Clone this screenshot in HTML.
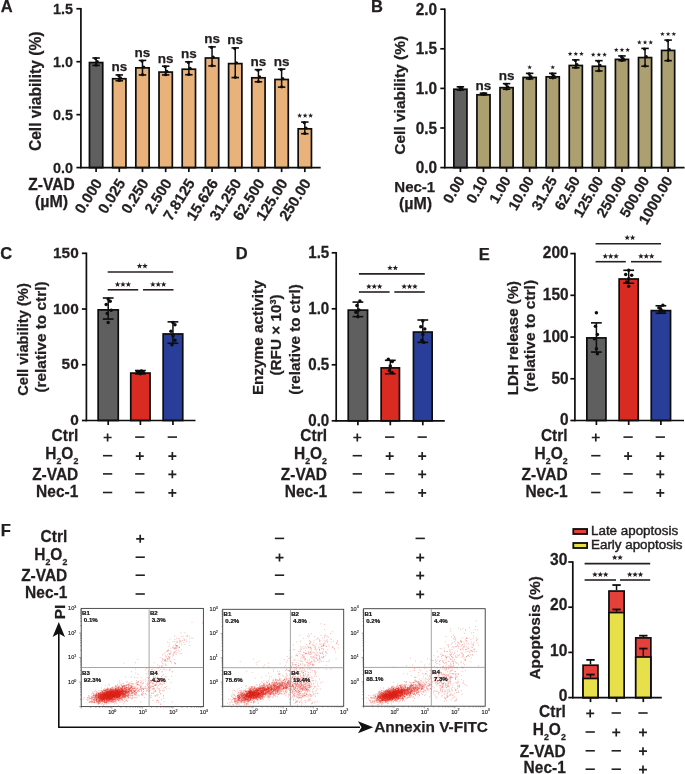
<!DOCTYPE html>
<html><head><meta charset="utf-8"><style>
html,body{margin:0;padding:0;background:#fff;}
svg{display:block;font-family:"Liberation Sans", sans-serif;will-change:transform;}
</style></head><body>
<svg width="685" height="774" viewBox="0 0 685 774">
<rect width="685" height="774" fill="#fff"/>
<text font-size="16.5" text-anchor="start" font-weight="bold" fill="#231f20" stroke="#231f20" stroke-width="0.25" transform="translate(0.70,12.20)" >A</text>
<line x1="80.90" y1="8.00" x2="80.90" y2="168.35" stroke="#0d0d0d" stroke-width="1.7" stroke-linecap="butt"/>
<line x1="76.40" y1="8.75" x2="80.90" y2="8.75" stroke="#0d0d0d" stroke-width="1.7" stroke-linecap="butt"/>
<text font-size="15" text-anchor="end" font-weight="bold" fill="#231f20" stroke="#231f20" stroke-width="0.25" transform="translate(73.00,13.85) scale(0.96,1.03)" >1.5</text>
<line x1="76.40" y1="61.70" x2="80.90" y2="61.70" stroke="#0d0d0d" stroke-width="1.7" stroke-linecap="butt"/>
<text font-size="15" text-anchor="end" font-weight="bold" fill="#231f20" stroke="#231f20" stroke-width="0.25" transform="translate(73.00,66.80) scale(0.96,1.03)" >1.0</text>
<line x1="76.40" y1="114.65" x2="80.90" y2="114.65" stroke="#0d0d0d" stroke-width="1.7" stroke-linecap="butt"/>
<text font-size="15" text-anchor="end" font-weight="bold" fill="#231f20" stroke="#231f20" stroke-width="0.25" transform="translate(73.00,119.75) scale(0.96,1.03)" >0.5</text>
<line x1="76.40" y1="167.60" x2="80.90" y2="167.60" stroke="#0d0d0d" stroke-width="1.7" stroke-linecap="butt"/>
<text font-size="15" text-anchor="end" font-weight="bold" fill="#231f20" stroke="#231f20" stroke-width="0.25" transform="translate(73.00,172.70) scale(0.96,1.03)" >0.0</text>
<text font-size="15.6" text-anchor="middle" font-weight="bold" fill="#231f20" stroke="#231f20" stroke-width="0.25" transform="translate(41.00,91.30) rotate(-90)" >Cell viability (%)</text>
<rect x="89.45" y="62.55" width="13.30" height="105.05" fill="#5f5f5f" stroke="#0d0d0d" stroke-width="1.7"/>
<line x1="96.10" y1="57.99" x2="96.10" y2="65.41" stroke="#0d0d0d" stroke-width="1.5" stroke-linecap="butt"/>
<line x1="92.35" y1="57.99" x2="99.85" y2="57.99" stroke="#0d0d0d" stroke-width="1.6" stroke-linecap="butt"/>
<line x1="92.35" y1="65.41" x2="99.85" y2="65.41" stroke="#0d0d0d" stroke-width="1.6" stroke-linecap="butt"/>
<circle cx="95.60" cy="58.59" r="1.6" fill="#0d0d0d"/>
<circle cx="97.30" cy="61.70" r="1.6" fill="#0d0d0d"/>
<circle cx="96.10" cy="65.11" r="1.6" fill="#0d0d0d"/>
<rect x="112.64" y="78.75" width="13.30" height="88.85" fill="#e9b27a" stroke="#0d0d0d" stroke-width="1.7"/>
<line x1="119.29" y1="74.94" x2="119.29" y2="80.76" stroke="#0d0d0d" stroke-width="1.5" stroke-linecap="butt"/>
<line x1="115.54" y1="74.94" x2="123.04" y2="74.94" stroke="#0d0d0d" stroke-width="1.6" stroke-linecap="butt"/>
<line x1="115.54" y1="80.76" x2="123.04" y2="80.76" stroke="#0d0d0d" stroke-width="1.6" stroke-linecap="butt"/>
<circle cx="118.79" cy="75.54" r="1.6" fill="#0d0d0d"/>
<circle cx="120.49" cy="77.90" r="1.6" fill="#0d0d0d"/>
<circle cx="119.29" cy="80.46" r="1.6" fill="#0d0d0d"/>
<text font-size="13.5" text-anchor="middle" font-weight="bold" fill="#231f20" stroke="#231f20" stroke-width="0.25" transform="translate(119.29,71.34)" >ns</text>
<rect x="135.83" y="67.84" width="13.30" height="99.76" fill="#e9b27a" stroke="#0d0d0d" stroke-width="1.7"/>
<line x1="142.48" y1="60.43" x2="142.48" y2="74.94" stroke="#0d0d0d" stroke-width="1.5" stroke-linecap="butt"/>
<line x1="138.73" y1="60.43" x2="146.23" y2="60.43" stroke="#0d0d0d" stroke-width="1.6" stroke-linecap="butt"/>
<line x1="138.73" y1="74.94" x2="146.23" y2="74.94" stroke="#0d0d0d" stroke-width="1.6" stroke-linecap="butt"/>
<circle cx="141.98" cy="61.03" r="1.6" fill="#0d0d0d"/>
<circle cx="143.68" cy="66.99" r="1.6" fill="#0d0d0d"/>
<circle cx="142.48" cy="74.64" r="1.6" fill="#0d0d0d"/>
<text font-size="13.5" text-anchor="middle" font-weight="bold" fill="#231f20" stroke="#231f20" stroke-width="0.25" transform="translate(142.48,56.83)" >ns</text>
<rect x="159.02" y="72.08" width="13.30" height="95.52" fill="#e9b27a" stroke="#0d0d0d" stroke-width="1.7"/>
<line x1="165.67" y1="66.15" x2="165.67" y2="74.94" stroke="#0d0d0d" stroke-width="1.5" stroke-linecap="butt"/>
<line x1="161.92" y1="66.15" x2="169.42" y2="66.15" stroke="#0d0d0d" stroke-width="1.6" stroke-linecap="butt"/>
<line x1="161.92" y1="74.94" x2="169.42" y2="74.94" stroke="#0d0d0d" stroke-width="1.6" stroke-linecap="butt"/>
<circle cx="165.17" cy="66.75" r="1.6" fill="#0d0d0d"/>
<circle cx="166.87" cy="71.23" r="1.6" fill="#0d0d0d"/>
<circle cx="165.67" cy="74.64" r="1.6" fill="#0d0d0d"/>
<text font-size="13.5" text-anchor="middle" font-weight="bold" fill="#231f20" stroke="#231f20" stroke-width="0.25" transform="translate(165.67,62.55)" >ns</text>
<rect x="182.21" y="69.22" width="13.30" height="98.38" fill="#e9b27a" stroke="#0d0d0d" stroke-width="1.7"/>
<line x1="188.86" y1="61.81" x2="188.86" y2="74.73" stroke="#0d0d0d" stroke-width="1.5" stroke-linecap="butt"/>
<line x1="185.11" y1="61.81" x2="192.61" y2="61.81" stroke="#0d0d0d" stroke-width="1.6" stroke-linecap="butt"/>
<line x1="185.11" y1="74.73" x2="192.61" y2="74.73" stroke="#0d0d0d" stroke-width="1.6" stroke-linecap="butt"/>
<circle cx="188.36" cy="62.41" r="1.6" fill="#0d0d0d"/>
<circle cx="190.06" cy="68.37" r="1.6" fill="#0d0d0d"/>
<circle cx="188.86" cy="74.43" r="1.6" fill="#0d0d0d"/>
<text font-size="13.5" text-anchor="middle" font-weight="bold" fill="#231f20" stroke="#231f20" stroke-width="0.25" transform="translate(188.86,58.21)" >ns</text>
<rect x="205.40" y="58.00" width="13.30" height="109.60" fill="#e9b27a" stroke="#0d0d0d" stroke-width="1.7"/>
<line x1="212.05" y1="46.87" x2="212.05" y2="65.94" stroke="#0d0d0d" stroke-width="1.5" stroke-linecap="butt"/>
<line x1="208.30" y1="46.87" x2="215.80" y2="46.87" stroke="#0d0d0d" stroke-width="1.6" stroke-linecap="butt"/>
<line x1="208.30" y1="65.94" x2="215.80" y2="65.94" stroke="#0d0d0d" stroke-width="1.6" stroke-linecap="butt"/>
<circle cx="211.55" cy="47.47" r="1.6" fill="#0d0d0d"/>
<circle cx="213.25" cy="57.15" r="1.6" fill="#0d0d0d"/>
<circle cx="212.05" cy="65.64" r="1.6" fill="#0d0d0d"/>
<text font-size="13.5" text-anchor="middle" font-weight="bold" fill="#231f20" stroke="#231f20" stroke-width="0.25" transform="translate(212.05,43.27)" >ns</text>
<rect x="228.59" y="63.61" width="13.30" height="103.99" fill="#e9b27a" stroke="#0d0d0d" stroke-width="1.7"/>
<line x1="235.24" y1="47.93" x2="235.24" y2="77.58" stroke="#0d0d0d" stroke-width="1.5" stroke-linecap="butt"/>
<line x1="231.49" y1="47.93" x2="238.99" y2="47.93" stroke="#0d0d0d" stroke-width="1.6" stroke-linecap="butt"/>
<line x1="231.49" y1="77.58" x2="238.99" y2="77.58" stroke="#0d0d0d" stroke-width="1.6" stroke-linecap="butt"/>
<circle cx="234.74" cy="48.53" r="1.6" fill="#0d0d0d"/>
<circle cx="236.44" cy="62.76" r="1.6" fill="#0d0d0d"/>
<circle cx="235.24" cy="77.28" r="1.6" fill="#0d0d0d"/>
<text font-size="13.5" text-anchor="middle" font-weight="bold" fill="#231f20" stroke="#231f20" stroke-width="0.25" transform="translate(235.24,44.33)" >ns</text>
<rect x="251.78" y="77.80" width="13.30" height="89.80" fill="#e9b27a" stroke="#0d0d0d" stroke-width="1.7"/>
<line x1="258.43" y1="69.64" x2="258.43" y2="81.82" stroke="#0d0d0d" stroke-width="1.5" stroke-linecap="butt"/>
<line x1="254.68" y1="69.64" x2="262.18" y2="69.64" stroke="#0d0d0d" stroke-width="1.6" stroke-linecap="butt"/>
<line x1="254.68" y1="81.82" x2="262.18" y2="81.82" stroke="#0d0d0d" stroke-width="1.6" stroke-linecap="butt"/>
<circle cx="257.93" cy="70.24" r="1.6" fill="#0d0d0d"/>
<circle cx="259.63" cy="76.95" r="1.6" fill="#0d0d0d"/>
<circle cx="258.43" cy="81.52" r="1.6" fill="#0d0d0d"/>
<text font-size="13.5" text-anchor="middle" font-weight="bold" fill="#231f20" stroke="#231f20" stroke-width="0.25" transform="translate(258.43,66.04)" >ns</text>
<rect x="274.97" y="79.49" width="13.30" height="88.11" fill="#e9b27a" stroke="#0d0d0d" stroke-width="1.7"/>
<line x1="281.62" y1="69.11" x2="281.62" y2="87.12" stroke="#0d0d0d" stroke-width="1.5" stroke-linecap="butt"/>
<line x1="277.87" y1="69.11" x2="285.37" y2="69.11" stroke="#0d0d0d" stroke-width="1.6" stroke-linecap="butt"/>
<line x1="277.87" y1="87.12" x2="285.37" y2="87.12" stroke="#0d0d0d" stroke-width="1.6" stroke-linecap="butt"/>
<circle cx="281.12" cy="69.71" r="1.6" fill="#0d0d0d"/>
<circle cx="282.82" cy="78.64" r="1.6" fill="#0d0d0d"/>
<circle cx="281.62" cy="86.82" r="1.6" fill="#0d0d0d"/>
<text font-size="13.5" text-anchor="middle" font-weight="bold" fill="#231f20" stroke="#231f20" stroke-width="0.25" transform="translate(281.62,65.51)" >ns</text>
<rect x="298.16" y="128.84" width="13.30" height="38.76" fill="#e9b27a" stroke="#0d0d0d" stroke-width="1.7"/>
<line x1="304.81" y1="122.06" x2="304.81" y2="133.71" stroke="#0d0d0d" stroke-width="1.5" stroke-linecap="butt"/>
<line x1="301.06" y1="122.06" x2="308.56" y2="122.06" stroke="#0d0d0d" stroke-width="1.6" stroke-linecap="butt"/>
<line x1="301.06" y1="133.71" x2="308.56" y2="133.71" stroke="#0d0d0d" stroke-width="1.6" stroke-linecap="butt"/>
<circle cx="304.31" cy="122.66" r="1.6" fill="#0d0d0d"/>
<circle cx="306.01" cy="127.99" r="1.6" fill="#0d0d0d"/>
<circle cx="304.81" cy="133.41" r="1.6" fill="#0d0d0d"/>
<path d="M299.61 112.96L300.26 114.67L302.08 114.76L300.66 115.90L301.14 117.67L299.61 116.66L298.08 117.67L298.56 115.90L297.14 114.76L298.96 114.67ZM305.11 112.96L305.76 114.67L307.58 114.76L306.16 115.90L306.64 117.67L305.11 116.66L303.58 117.67L304.06 115.90L302.64 114.76L304.46 114.67ZM310.61 112.96L311.26 114.67L313.08 114.76L311.66 115.90L312.14 117.67L310.61 116.66L309.08 117.67L309.56 115.90L308.14 114.76L309.96 114.67Z" fill="#231f20"/>
<line x1="80.15" y1="167.60" x2="320.70" y2="167.60" stroke="#0d0d0d" stroke-width="1.7" stroke-linecap="butt"/>
<line x1="96.10" y1="167.60" x2="96.10" y2="172.10" stroke="#0d0d0d" stroke-width="1.7" stroke-linecap="butt"/>
<line x1="119.29" y1="167.60" x2="119.29" y2="172.10" stroke="#0d0d0d" stroke-width="1.7" stroke-linecap="butt"/>
<line x1="142.48" y1="167.60" x2="142.48" y2="172.10" stroke="#0d0d0d" stroke-width="1.7" stroke-linecap="butt"/>
<line x1="165.67" y1="167.60" x2="165.67" y2="172.10" stroke="#0d0d0d" stroke-width="1.7" stroke-linecap="butt"/>
<line x1="188.86" y1="167.60" x2="188.86" y2="172.10" stroke="#0d0d0d" stroke-width="1.7" stroke-linecap="butt"/>
<line x1="212.05" y1="167.60" x2="212.05" y2="172.10" stroke="#0d0d0d" stroke-width="1.7" stroke-linecap="butt"/>
<line x1="235.24" y1="167.60" x2="235.24" y2="172.10" stroke="#0d0d0d" stroke-width="1.7" stroke-linecap="butt"/>
<line x1="258.43" y1="167.60" x2="258.43" y2="172.10" stroke="#0d0d0d" stroke-width="1.7" stroke-linecap="butt"/>
<line x1="281.62" y1="167.60" x2="281.62" y2="172.10" stroke="#0d0d0d" stroke-width="1.7" stroke-linecap="butt"/>
<line x1="304.81" y1="167.60" x2="304.81" y2="172.10" stroke="#0d0d0d" stroke-width="1.7" stroke-linecap="butt"/>
<text font-size="15" text-anchor="end" font-weight="bold" fill="#231f20" stroke="#231f20" stroke-width="0.25" transform="translate(98.10,180.00) rotate(-58)" dominant-baseline="central">0.000</text>
<text font-size="15" text-anchor="end" font-weight="bold" fill="#231f20" stroke="#231f20" stroke-width="0.25" transform="translate(121.29,180.00) rotate(-58)" dominant-baseline="central">0.025</text>
<text font-size="15" text-anchor="end" font-weight="bold" fill="#231f20" stroke="#231f20" stroke-width="0.25" transform="translate(144.48,180.00) rotate(-58)" dominant-baseline="central">0.250</text>
<text font-size="15" text-anchor="end" font-weight="bold" fill="#231f20" stroke="#231f20" stroke-width="0.25" transform="translate(167.67,180.00) rotate(-58)" dominant-baseline="central">2.500</text>
<text font-size="15" text-anchor="end" font-weight="bold" fill="#231f20" stroke="#231f20" stroke-width="0.25" transform="translate(190.86,180.00) rotate(-58)" dominant-baseline="central">7.8125</text>
<text font-size="15" text-anchor="end" font-weight="bold" fill="#231f20" stroke="#231f20" stroke-width="0.25" transform="translate(214.05,180.00) rotate(-58)" dominant-baseline="central">15.626</text>
<text font-size="15" text-anchor="end" font-weight="bold" fill="#231f20" stroke="#231f20" stroke-width="0.25" transform="translate(237.24,180.00) rotate(-58)" dominant-baseline="central">31.250</text>
<text font-size="15" text-anchor="end" font-weight="bold" fill="#231f20" stroke="#231f20" stroke-width="0.25" transform="translate(260.43,180.00) rotate(-58)" dominant-baseline="central">62.500</text>
<text font-size="15" text-anchor="end" font-weight="bold" fill="#231f20" stroke="#231f20" stroke-width="0.25" transform="translate(283.62,180.00) rotate(-58)" dominant-baseline="central">125.00</text>
<text font-size="15" text-anchor="end" font-weight="bold" fill="#231f20" stroke="#231f20" stroke-width="0.25" transform="translate(306.81,180.00) rotate(-58)" dominant-baseline="central">250.00</text>
<text font-size="15.6" text-anchor="end" font-weight="bold" fill="#231f20" stroke="#231f20" stroke-width="0.25" transform="translate(74.70,189.80) scale(1.0,1.07)" >Z-VAD</text>
<text font-size="16" text-anchor="middle" font-weight="bold" fill="#231f20" stroke="#231f20" stroke-width="0.25" transform="translate(51.50,206.60)" >(µM)</text>
<text font-size="16.5" text-anchor="start" font-weight="bold" fill="#231f20" stroke="#231f20" stroke-width="0.25" transform="translate(370.90,12.20)" >B</text>
<line x1="444.80" y1="8.45" x2="444.80" y2="168.35" stroke="#0d0d0d" stroke-width="1.7" stroke-linecap="butt"/>
<line x1="440.30" y1="9.20" x2="444.80" y2="9.20" stroke="#0d0d0d" stroke-width="1.7" stroke-linecap="butt"/>
<text font-size="15" text-anchor="end" font-weight="bold" fill="#231f20" stroke="#231f20" stroke-width="0.25" transform="translate(437.00,14.70) scale(1.025,1.08)" >2.0</text>
<line x1="440.30" y1="48.80" x2="444.80" y2="48.80" stroke="#0d0d0d" stroke-width="1.7" stroke-linecap="butt"/>
<text font-size="15" text-anchor="end" font-weight="bold" fill="#231f20" stroke="#231f20" stroke-width="0.25" transform="translate(437.00,54.30) scale(1.025,1.08)" >1.5</text>
<line x1="440.30" y1="88.40" x2="444.80" y2="88.40" stroke="#0d0d0d" stroke-width="1.7" stroke-linecap="butt"/>
<text font-size="15" text-anchor="end" font-weight="bold" fill="#231f20" stroke="#231f20" stroke-width="0.25" transform="translate(437.00,93.90) scale(1.025,1.08)" >1.0</text>
<line x1="440.30" y1="128.00" x2="444.80" y2="128.00" stroke="#0d0d0d" stroke-width="1.7" stroke-linecap="butt"/>
<text font-size="15" text-anchor="end" font-weight="bold" fill="#231f20" stroke="#231f20" stroke-width="0.25" transform="translate(437.00,133.50) scale(1.025,1.08)" >0.5</text>
<line x1="440.30" y1="167.60" x2="444.80" y2="167.60" stroke="#0d0d0d" stroke-width="1.7" stroke-linecap="butt"/>
<text font-size="15" text-anchor="end" font-weight="bold" fill="#231f20" stroke="#231f20" stroke-width="0.25" transform="translate(437.00,173.10) scale(1.025,1.08)" >0.0</text>
<text font-size="15.5" text-anchor="middle" font-weight="bold" fill="#231f20" stroke="#231f20" stroke-width="0.25" transform="translate(405.40,95.30) rotate(-90)" >Cell viability (%)</text>
<rect x="453.85" y="89.25" width="13.10" height="78.35" fill="#5f5f5f" stroke="#0d0d0d" stroke-width="1.7"/>
<line x1="460.40" y1="86.82" x2="460.40" y2="89.98" stroke="#0d0d0d" stroke-width="1.5" stroke-linecap="butt"/>
<line x1="456.65" y1="86.82" x2="464.15" y2="86.82" stroke="#0d0d0d" stroke-width="1.6" stroke-linecap="butt"/>
<line x1="456.65" y1="89.98" x2="464.15" y2="89.98" stroke="#0d0d0d" stroke-width="1.6" stroke-linecap="butt"/>
<circle cx="459.90" cy="87.42" r="1.6" fill="#0d0d0d"/>
<circle cx="461.60" cy="88.40" r="1.6" fill="#0d0d0d"/>
<circle cx="460.40" cy="89.68" r="1.6" fill="#0d0d0d"/>
<rect x="476.93" y="94.79" width="13.10" height="72.81" fill="#ada070" stroke="#0d0d0d" stroke-width="1.7"/>
<line x1="483.48" y1="93.15" x2="483.48" y2="94.74" stroke="#0d0d0d" stroke-width="1.5" stroke-linecap="butt"/>
<line x1="479.73" y1="93.15" x2="487.23" y2="93.15" stroke="#0d0d0d" stroke-width="1.6" stroke-linecap="butt"/>
<line x1="479.73" y1="94.74" x2="487.23" y2="94.74" stroke="#0d0d0d" stroke-width="1.6" stroke-linecap="butt"/>
<circle cx="482.98" cy="93.75" r="1.6" fill="#0d0d0d"/>
<circle cx="484.68" cy="93.94" r="1.6" fill="#0d0d0d"/>
<circle cx="483.48" cy="94.44" r="1.6" fill="#0d0d0d"/>
<text font-size="13.5" text-anchor="middle" font-weight="bold" fill="#231f20" stroke="#231f20" stroke-width="0.25" transform="translate(483.48,89.65)" >ns</text>
<rect x="500.01" y="87.67" width="13.10" height="79.93" fill="#ada070" stroke="#0d0d0d" stroke-width="1.7"/>
<line x1="506.56" y1="83.65" x2="506.56" y2="89.19" stroke="#0d0d0d" stroke-width="1.5" stroke-linecap="butt"/>
<line x1="502.81" y1="83.65" x2="510.31" y2="83.65" stroke="#0d0d0d" stroke-width="1.6" stroke-linecap="butt"/>
<line x1="502.81" y1="89.19" x2="510.31" y2="89.19" stroke="#0d0d0d" stroke-width="1.6" stroke-linecap="butt"/>
<circle cx="506.06" cy="84.25" r="1.6" fill="#0d0d0d"/>
<circle cx="507.76" cy="86.82" r="1.6" fill="#0d0d0d"/>
<circle cx="506.56" cy="88.89" r="1.6" fill="#0d0d0d"/>
<text font-size="13.5" text-anchor="middle" font-weight="bold" fill="#231f20" stroke="#231f20" stroke-width="0.25" transform="translate(506.56,80.15)" >ns</text>
<rect x="523.09" y="77.45" width="13.10" height="90.15" fill="#ada070" stroke="#0d0d0d" stroke-width="1.7"/>
<line x1="529.64" y1="73.35" x2="529.64" y2="78.90" stroke="#0d0d0d" stroke-width="1.5" stroke-linecap="butt"/>
<line x1="525.89" y1="73.35" x2="533.39" y2="73.35" stroke="#0d0d0d" stroke-width="1.6" stroke-linecap="butt"/>
<line x1="525.89" y1="78.90" x2="533.39" y2="78.90" stroke="#0d0d0d" stroke-width="1.6" stroke-linecap="butt"/>
<circle cx="529.14" cy="73.95" r="1.6" fill="#0d0d0d"/>
<circle cx="530.84" cy="76.60" r="1.6" fill="#0d0d0d"/>
<circle cx="529.64" cy="78.60" r="1.6" fill="#0d0d0d"/>
<path d="M529.64 64.90L530.23 66.54L531.97 66.59L530.59 67.66L531.08 69.33L529.64 68.35L528.20 69.33L528.69 67.66L527.31 66.59L529.05 66.54Z" fill="#231f20"/>
<rect x="546.17" y="76.82" width="13.10" height="90.78" fill="#ada070" stroke="#0d0d0d" stroke-width="1.7"/>
<line x1="552.72" y1="73.35" x2="552.72" y2="78.10" stroke="#0d0d0d" stroke-width="1.5" stroke-linecap="butt"/>
<line x1="548.97" y1="73.35" x2="556.47" y2="73.35" stroke="#0d0d0d" stroke-width="1.6" stroke-linecap="butt"/>
<line x1="548.97" y1="78.10" x2="556.47" y2="78.10" stroke="#0d0d0d" stroke-width="1.6" stroke-linecap="butt"/>
<circle cx="552.22" cy="73.95" r="1.6" fill="#0d0d0d"/>
<circle cx="553.92" cy="75.97" r="1.6" fill="#0d0d0d"/>
<circle cx="552.72" cy="77.80" r="1.6" fill="#0d0d0d"/>
<path d="M552.72 64.90L553.31 66.54L555.05 66.59L553.67 67.66L554.16 69.33L552.72 68.35L551.28 69.33L551.77 67.66L550.39 66.59L552.13 66.54Z" fill="#231f20"/>
<rect x="569.25" y="65.49" width="13.10" height="102.11" fill="#ada070" stroke="#0d0d0d" stroke-width="1.7"/>
<line x1="575.80" y1="59.89" x2="575.80" y2="67.81" stroke="#0d0d0d" stroke-width="1.5" stroke-linecap="butt"/>
<line x1="572.05" y1="59.89" x2="579.55" y2="59.89" stroke="#0d0d0d" stroke-width="1.6" stroke-linecap="butt"/>
<line x1="572.05" y1="67.81" x2="579.55" y2="67.81" stroke="#0d0d0d" stroke-width="1.6" stroke-linecap="butt"/>
<circle cx="575.30" cy="60.49" r="1.6" fill="#0d0d0d"/>
<circle cx="577.00" cy="64.64" r="1.6" fill="#0d0d0d"/>
<circle cx="575.80" cy="67.51" r="1.6" fill="#0d0d0d"/>
<path d="M570.10 51.44L570.69 53.08L572.43 53.13L571.05 54.20L571.54 55.87L570.10 54.89L568.66 55.87L569.15 54.20L567.77 53.13L569.51 53.08ZM575.80 51.44L576.39 53.08L578.13 53.13L576.75 54.20L577.24 55.87L575.80 54.89L574.36 55.87L574.85 54.20L573.47 53.13L575.21 53.08ZM581.50 51.44L582.09 53.08L583.83 53.13L582.45 54.20L582.94 55.87L581.50 54.89L580.06 55.87L580.55 54.20L579.17 53.13L580.91 53.08Z" fill="#231f20"/>
<rect x="592.33" y="66.28" width="13.10" height="101.32" fill="#ada070" stroke="#0d0d0d" stroke-width="1.7"/>
<line x1="598.88" y1="60.68" x2="598.88" y2="70.98" stroke="#0d0d0d" stroke-width="1.5" stroke-linecap="butt"/>
<line x1="595.13" y1="60.68" x2="602.63" y2="60.68" stroke="#0d0d0d" stroke-width="1.6" stroke-linecap="butt"/>
<line x1="595.13" y1="70.98" x2="602.63" y2="70.98" stroke="#0d0d0d" stroke-width="1.6" stroke-linecap="butt"/>
<circle cx="598.38" cy="61.28" r="1.6" fill="#0d0d0d"/>
<circle cx="600.08" cy="65.43" r="1.6" fill="#0d0d0d"/>
<circle cx="598.88" cy="70.68" r="1.6" fill="#0d0d0d"/>
<path d="M593.18 52.23L593.77 53.87L595.51 53.92L594.13 54.99L594.62 56.66L593.18 55.68L591.74 56.66L592.23 54.99L590.85 53.92L592.59 53.87ZM598.88 52.23L599.47 53.87L601.21 53.92L599.83 54.99L600.32 56.66L598.88 55.68L597.44 56.66L597.93 54.99L596.55 53.92L598.29 53.87ZM604.58 52.23L605.17 53.87L606.91 53.92L605.53 54.99L606.02 56.66L604.58 55.68L603.14 56.66L603.63 54.99L602.25 53.92L603.99 53.87Z" fill="#231f20"/>
<rect x="615.41" y="59.39" width="13.10" height="108.21" fill="#ada070" stroke="#0d0d0d" stroke-width="1.7"/>
<line x1="621.96" y1="55.93" x2="621.96" y2="60.68" stroke="#0d0d0d" stroke-width="1.5" stroke-linecap="butt"/>
<line x1="618.21" y1="55.93" x2="625.71" y2="55.93" stroke="#0d0d0d" stroke-width="1.6" stroke-linecap="butt"/>
<line x1="618.21" y1="60.68" x2="625.71" y2="60.68" stroke="#0d0d0d" stroke-width="1.6" stroke-linecap="butt"/>
<circle cx="621.46" cy="56.53" r="1.6" fill="#0d0d0d"/>
<circle cx="623.16" cy="58.54" r="1.6" fill="#0d0d0d"/>
<circle cx="621.96" cy="60.38" r="1.6" fill="#0d0d0d"/>
<path d="M616.26 47.48L616.85 49.12L618.59 49.17L617.21 50.24L617.70 51.91L616.26 50.93L614.82 51.91L615.31 50.24L613.93 49.17L615.67 49.12ZM621.96 47.48L622.55 49.12L624.29 49.17L622.91 50.24L623.40 51.91L621.96 50.93L620.52 51.91L621.01 50.24L619.63 49.17L621.37 49.12ZM627.66 47.48L628.25 49.12L629.99 49.17L628.61 50.24L629.10 51.91L627.66 50.93L626.22 51.91L626.71 50.24L625.33 49.17L627.07 49.12Z" fill="#231f20"/>
<rect x="638.49" y="57.57" width="13.10" height="110.03" fill="#ada070" stroke="#0d0d0d" stroke-width="1.7"/>
<line x1="645.04" y1="48.40" x2="645.04" y2="66.22" stroke="#0d0d0d" stroke-width="1.5" stroke-linecap="butt"/>
<line x1="641.29" y1="48.40" x2="648.79" y2="48.40" stroke="#0d0d0d" stroke-width="1.6" stroke-linecap="butt"/>
<line x1="641.29" y1="66.22" x2="648.79" y2="66.22" stroke="#0d0d0d" stroke-width="1.6" stroke-linecap="butt"/>
<circle cx="644.54" cy="49.00" r="1.6" fill="#0d0d0d"/>
<circle cx="646.24" cy="56.72" r="1.6" fill="#0d0d0d"/>
<circle cx="645.04" cy="65.92" r="1.6" fill="#0d0d0d"/>
<path d="M639.34 39.95L639.93 41.59L641.67 41.65L640.29 42.71L640.78 44.39L639.34 43.40L637.90 44.39L638.39 42.71L637.01 41.65L638.75 41.59ZM645.04 39.95L645.63 41.59L647.37 41.65L645.99 42.71L646.48 44.39L645.04 43.40L643.60 44.39L644.09 42.71L642.71 41.65L644.45 41.59ZM650.74 39.95L651.33 41.59L653.07 41.65L651.69 42.71L652.18 44.39L650.74 43.40L649.30 44.39L649.79 42.71L648.41 41.65L650.15 41.59Z" fill="#231f20"/>
<rect x="661.57" y="50.44" width="13.10" height="117.16" fill="#ada070" stroke="#0d0d0d" stroke-width="1.7"/>
<line x1="668.12" y1="40.09" x2="668.12" y2="60.68" stroke="#0d0d0d" stroke-width="1.5" stroke-linecap="butt"/>
<line x1="664.37" y1="40.09" x2="671.87" y2="40.09" stroke="#0d0d0d" stroke-width="1.6" stroke-linecap="butt"/>
<line x1="664.37" y1="60.68" x2="671.87" y2="60.68" stroke="#0d0d0d" stroke-width="1.6" stroke-linecap="butt"/>
<circle cx="667.62" cy="40.69" r="1.6" fill="#0d0d0d"/>
<circle cx="669.32" cy="49.59" r="1.6" fill="#0d0d0d"/>
<circle cx="668.12" cy="60.38" r="1.6" fill="#0d0d0d"/>
<path d="M662.42 31.64L663.01 33.28L664.75 33.33L663.37 34.40L663.86 36.07L662.42 35.09L660.98 36.07L661.47 34.40L660.09 33.33L661.83 33.28ZM668.12 31.64L668.71 33.28L670.45 33.33L669.07 34.40L669.56 36.07L668.12 35.09L666.68 36.07L667.17 34.40L665.79 33.33L667.53 33.28ZM673.82 31.64L674.41 33.28L676.15 33.33L674.77 34.40L675.26 36.07L673.82 35.09L672.38 36.07L672.87 34.40L671.49 33.33L673.23 33.28Z" fill="#231f20"/>
<line x1="444.05" y1="167.60" x2="684.60" y2="167.60" stroke="#0d0d0d" stroke-width="1.7" stroke-linecap="butt"/>
<line x1="460.40" y1="167.60" x2="460.40" y2="172.10" stroke="#0d0d0d" stroke-width="1.7" stroke-linecap="butt"/>
<line x1="483.48" y1="167.60" x2="483.48" y2="172.10" stroke="#0d0d0d" stroke-width="1.7" stroke-linecap="butt"/>
<line x1="506.56" y1="167.60" x2="506.56" y2="172.10" stroke="#0d0d0d" stroke-width="1.7" stroke-linecap="butt"/>
<line x1="529.64" y1="167.60" x2="529.64" y2="172.10" stroke="#0d0d0d" stroke-width="1.7" stroke-linecap="butt"/>
<line x1="552.72" y1="167.60" x2="552.72" y2="172.10" stroke="#0d0d0d" stroke-width="1.7" stroke-linecap="butt"/>
<line x1="575.80" y1="167.60" x2="575.80" y2="172.10" stroke="#0d0d0d" stroke-width="1.7" stroke-linecap="butt"/>
<line x1="598.88" y1="167.60" x2="598.88" y2="172.10" stroke="#0d0d0d" stroke-width="1.7" stroke-linecap="butt"/>
<line x1="621.96" y1="167.60" x2="621.96" y2="172.10" stroke="#0d0d0d" stroke-width="1.7" stroke-linecap="butt"/>
<line x1="645.04" y1="167.60" x2="645.04" y2="172.10" stroke="#0d0d0d" stroke-width="1.7" stroke-linecap="butt"/>
<line x1="668.12" y1="167.60" x2="668.12" y2="172.10" stroke="#0d0d0d" stroke-width="1.7" stroke-linecap="butt"/>
<text font-size="14.5" text-anchor="end" font-weight="bold" fill="#231f20" stroke="#231f20" stroke-width="0.25" transform="translate(460.90,177.60) rotate(-60)" dominant-baseline="central">0.00</text>
<text font-size="14.5" text-anchor="end" font-weight="bold" fill="#231f20" stroke="#231f20" stroke-width="0.25" transform="translate(483.98,177.60) rotate(-60)" dominant-baseline="central">0.10</text>
<text font-size="14.5" text-anchor="end" font-weight="bold" fill="#231f20" stroke="#231f20" stroke-width="0.25" transform="translate(507.06,177.60) rotate(-60)" dominant-baseline="central">1.00</text>
<text font-size="14.5" text-anchor="end" font-weight="bold" fill="#231f20" stroke="#231f20" stroke-width="0.25" transform="translate(530.14,177.60) rotate(-60)" dominant-baseline="central">10.00</text>
<text font-size="14.5" text-anchor="end" font-weight="bold" fill="#231f20" stroke="#231f20" stroke-width="0.25" transform="translate(553.22,177.60) rotate(-60)" dominant-baseline="central">31.25</text>
<text font-size="14.5" text-anchor="end" font-weight="bold" fill="#231f20" stroke="#231f20" stroke-width="0.25" transform="translate(576.30,177.60) rotate(-60)" dominant-baseline="central">62.50</text>
<text font-size="14.5" text-anchor="end" font-weight="bold" fill="#231f20" stroke="#231f20" stroke-width="0.25" transform="translate(599.38,177.60) rotate(-60)" dominant-baseline="central">125.00</text>
<text font-size="14.5" text-anchor="end" font-weight="bold" fill="#231f20" stroke="#231f20" stroke-width="0.25" transform="translate(622.46,177.60) rotate(-60)" dominant-baseline="central">250.00</text>
<text font-size="14.5" text-anchor="end" font-weight="bold" fill="#231f20" stroke="#231f20" stroke-width="0.25" transform="translate(645.54,177.60) rotate(-60)" dominant-baseline="central">500.00</text>
<text font-size="14.5" text-anchor="end" font-weight="bold" fill="#231f20" stroke="#231f20" stroke-width="0.25" transform="translate(668.62,177.60) rotate(-60)" dominant-baseline="central">1000.00</text>
<text font-size="15" text-anchor="end" font-weight="bold" fill="#231f20" stroke="#231f20" stroke-width="0.25" transform="translate(435.20,191.90)" >Nec-1</text>
<text font-size="16" text-anchor="middle" font-weight="bold" fill="#231f20" stroke="#231f20" stroke-width="0.25" transform="translate(415.50,209.30)" >(µM)</text>
<text font-size="16.5" text-anchor="start" font-weight="bold" fill="#231f20" stroke="#231f20" stroke-width="0.25" transform="translate(0.20,258.90)" >C</text>
<line x1="86.40" y1="252.55" x2="86.40" y2="421.25" stroke="#0d0d0d" stroke-width="1.7" stroke-linecap="butt"/>
<line x1="81.90" y1="253.30" x2="86.40" y2="253.30" stroke="#0d0d0d" stroke-width="1.7" stroke-linecap="butt"/>
<text font-size="15" text-anchor="end" font-weight="bold" fill="#231f20" stroke="#231f20" stroke-width="0.25" transform="translate(78.70,257.90) scale(1.025,1.02)" >150</text>
<line x1="81.90" y1="309.03" x2="86.40" y2="309.03" stroke="#0d0d0d" stroke-width="1.7" stroke-linecap="butt"/>
<text font-size="15" text-anchor="end" font-weight="bold" fill="#231f20" stroke="#231f20" stroke-width="0.25" transform="translate(78.70,313.63) scale(1.025,1.02)" >100</text>
<line x1="81.90" y1="364.77" x2="86.40" y2="364.77" stroke="#0d0d0d" stroke-width="1.7" stroke-linecap="butt"/>
<text font-size="15" text-anchor="end" font-weight="bold" fill="#231f20" stroke="#231f20" stroke-width="0.25" transform="translate(78.70,369.37) scale(1.025,1.02)" >50</text>
<line x1="81.90" y1="420.50" x2="86.40" y2="420.50" stroke="#0d0d0d" stroke-width="1.7" stroke-linecap="butt"/>
<text font-size="15" text-anchor="end" font-weight="bold" fill="#231f20" stroke="#231f20" stroke-width="0.25" transform="translate(78.70,425.10) scale(1.025,1.02)" >0</text>
<text font-size="14.7" text-anchor="middle" font-weight="bold" fill="#231f20" stroke="#231f20" stroke-width="0.25" transform="translate(27.60,339.50) rotate(-90)" >Cell viability (%)</text>
<text font-size="15.4" text-anchor="middle" font-weight="bold" fill="#231f20" stroke="#231f20" stroke-width="0.25" transform="translate(45.90,337.00) rotate(-90)" >(relative to ctrl)</text>
<rect x="98.15" y="309.88" width="20.10" height="110.62" fill="#5f5f5f" stroke="#0d0d0d" stroke-width="1.7"/>
<line x1="108.20" y1="298.00" x2="108.20" y2="319.07" stroke="#0d0d0d" stroke-width="1.5" stroke-linecap="butt"/>
<line x1="102.80" y1="298.00" x2="113.60" y2="298.00" stroke="#0d0d0d" stroke-width="1.6" stroke-linecap="butt"/>
<line x1="102.80" y1="319.07" x2="113.60" y2="319.07" stroke="#0d0d0d" stroke-width="1.6" stroke-linecap="butt"/>
<circle cx="108.20" cy="299.00" r="1.75" fill="#0d0d0d"/>
<circle cx="110.20" cy="301.23" r="1.75" fill="#0d0d0d"/>
<circle cx="106.20" cy="304.57" r="1.75" fill="#0d0d0d"/>
<circle cx="111.20" cy="310.15" r="1.75" fill="#0d0d0d"/>
<circle cx="107.20" cy="313.49" r="1.75" fill="#0d0d0d"/>
<circle cx="108.20" cy="322.41" r="1.75" fill="#0d0d0d"/>
<rect x="130.75" y="373.08" width="19.30" height="47.42" fill="#d92b22" stroke="#0d0d0d" stroke-width="1.7"/>
<line x1="140.40" y1="370.56" x2="140.40" y2="373.91" stroke="#0d0d0d" stroke-width="1.5" stroke-linecap="butt"/>
<line x1="135.00" y1="370.56" x2="145.80" y2="370.56" stroke="#0d0d0d" stroke-width="1.6" stroke-linecap="butt"/>
<line x1="135.00" y1="373.91" x2="145.80" y2="373.91" stroke="#0d0d0d" stroke-width="1.6" stroke-linecap="butt"/>
<circle cx="137.40" cy="371.45" r="1.75" fill="#0d0d0d"/>
<circle cx="139.40" cy="372.57" r="1.75" fill="#0d0d0d"/>
<circle cx="141.40" cy="370.90" r="1.75" fill="#0d0d0d"/>
<circle cx="143.40" cy="372.57" r="1.75" fill="#0d0d0d"/>
<circle cx="140.40" cy="373.68" r="1.75" fill="#0d0d0d"/>
<rect x="163.15" y="333.96" width="19.60" height="86.54" fill="#283e98" stroke="#0d0d0d" stroke-width="1.7"/>
<line x1="172.95" y1="321.85" x2="172.95" y2="343.25" stroke="#0d0d0d" stroke-width="1.5" stroke-linecap="butt"/>
<line x1="167.55" y1="321.85" x2="178.35" y2="321.85" stroke="#0d0d0d" stroke-width="1.6" stroke-linecap="butt"/>
<line x1="167.55" y1="343.25" x2="178.35" y2="343.25" stroke="#0d0d0d" stroke-width="1.6" stroke-linecap="butt"/>
<circle cx="172.95" cy="322.41" r="1.75" fill="#0d0d0d"/>
<circle cx="174.95" cy="324.64" r="1.75" fill="#0d0d0d"/>
<circle cx="170.95" cy="331.33" r="1.75" fill="#0d0d0d"/>
<circle cx="172.95" cy="335.79" r="1.75" fill="#0d0d0d"/>
<circle cx="174.95" cy="340.24" r="1.75" fill="#0d0d0d"/>
<circle cx="171.95" cy="344.70" r="1.75" fill="#0d0d0d"/>
<line x1="85.65" y1="420.50" x2="195.50" y2="420.50" stroke="#0d0d0d" stroke-width="1.7" stroke-linecap="butt"/>
<line x1="108.20" y1="420.50" x2="108.20" y2="425.00" stroke="#0d0d0d" stroke-width="1.7" stroke-linecap="butt"/>
<line x1="140.40" y1="420.50" x2="140.40" y2="425.00" stroke="#0d0d0d" stroke-width="1.7" stroke-linecap="butt"/>
<line x1="172.95" y1="420.50" x2="172.95" y2="425.00" stroke="#0d0d0d" stroke-width="1.7" stroke-linecap="butt"/>
<line x1="107.70" y1="272.00" x2="173.20" y2="272.00" stroke="#2a2020" stroke-width="1.6" stroke-linecap="butt"/>
<path d="M139.55 263.05L140.28 264.99L142.36 265.09L140.74 266.39L141.28 268.39L139.55 267.25L137.82 268.39L138.36 266.39L136.74 265.09L138.82 264.99ZM144.95 263.05L145.68 264.99L147.76 265.09L146.14 266.39L146.68 268.39L144.95 267.25L143.22 268.39L143.76 266.39L142.14 265.09L144.22 264.99Z" fill="#231f20"/>
<line x1="107.70" y1="289.80" x2="138.20" y2="289.80" stroke="#2a2020" stroke-width="1.6" stroke-linecap="butt"/>
<path d="M117.55 281.45L118.28 283.39L120.36 283.49L118.74 284.79L119.28 286.79L117.55 285.65L115.82 286.79L116.36 284.79L114.74 283.49L116.82 283.39ZM122.95 281.45L123.68 283.39L125.76 283.49L124.14 284.79L124.68 286.79L122.95 285.65L121.22 286.79L121.76 284.79L120.14 283.49L122.22 283.39ZM128.35 281.45L129.08 283.39L131.16 283.49L129.54 284.79L130.08 286.79L128.35 285.65L126.62 286.79L127.16 284.79L125.54 283.49L127.62 283.39Z" fill="#231f20"/>
<line x1="143.00" y1="289.80" x2="173.50" y2="289.80" stroke="#2a2020" stroke-width="1.6" stroke-linecap="butt"/>
<path d="M152.85 281.45L153.58 283.39L155.66 283.49L154.04 284.79L154.58 286.79L152.85 285.65L151.12 286.79L151.66 284.79L150.04 283.49L152.12 283.39ZM158.25 281.45L158.98 283.39L161.06 283.49L159.44 284.79L159.98 286.79L158.25 285.65L156.52 286.79L157.06 284.79L155.44 283.49L157.52 283.39ZM163.65 281.45L164.38 283.39L166.46 283.49L164.84 284.79L165.38 286.79L163.65 285.65L161.92 286.79L162.46 284.79L160.84 283.49L162.92 283.39Z" fill="#231f20"/>
<text font-size="15.5" text-anchor="end" font-weight="bold" fill="#231f20" stroke="#231f20" stroke-width="0.25" transform="translate(78.30,440.70) scale(1.0,1.04)" >Ctrl</text>
<path d="M103.60 437.50h8M107.60 433.50v8" stroke="#231f20" stroke-width="1.7"/>
<path d="M135.15 437.10h9.3" stroke="#231f20" stroke-width="1.6"/>
<path d="M167.70 437.10h9.3" stroke="#231f20" stroke-width="1.6"/>
<text font-size="15.5" text-anchor="end" font-weight="bold" fill="#231f20" stroke="#231f20" stroke-width="0.25" transform="translate(78.30,458.90) scale(1.0,1.04)" >H<tspan font-size="8.8" dy="4.5">2</tspan><tspan dy="-4.5">O</tspan><tspan font-size="8.8" dy="4.5">2</tspan></text>
<path d="M102.95 455.70h9.3" stroke="#231f20" stroke-width="1.6"/>
<path d="M135.80 456.10h8M139.80 452.10v8" stroke="#231f20" stroke-width="1.7"/>
<path d="M168.35 456.10h8M172.35 452.10v8" stroke="#231f20" stroke-width="1.7"/>
<text font-size="15.5" text-anchor="end" font-weight="bold" fill="#231f20" stroke="#231f20" stroke-width="0.25" transform="translate(78.30,479.90) scale(1.0,1.04)" >Z-VAD</text>
<path d="M102.95 473.90h9.3" stroke="#231f20" stroke-width="1.6"/>
<path d="M135.15 473.90h9.3" stroke="#231f20" stroke-width="1.6"/>
<path d="M168.35 474.30h8M172.35 470.30v8" stroke="#231f20" stroke-width="1.7"/>
<text font-size="15.5" text-anchor="end" font-weight="bold" fill="#231f20" stroke="#231f20" stroke-width="0.25" transform="translate(78.30,496.60) scale(1.0,1.04)" >Nec-1</text>
<path d="M102.95 492.50h9.3" stroke="#231f20" stroke-width="1.6"/>
<path d="M135.15 492.50h9.3" stroke="#231f20" stroke-width="1.6"/>
<path d="M168.35 492.90h8M172.35 488.90v8" stroke="#231f20" stroke-width="1.7"/>
<text font-size="16.5" text-anchor="start" font-weight="bold" fill="#231f20" stroke="#231f20" stroke-width="0.25" transform="translate(235.80,258.90)" >D</text>
<line x1="336.20" y1="252.05" x2="336.20" y2="421.55" stroke="#0d0d0d" stroke-width="1.7" stroke-linecap="butt"/>
<line x1="331.70" y1="252.80" x2="336.20" y2="252.80" stroke="#0d0d0d" stroke-width="1.7" stroke-linecap="butt"/>
<text font-size="15" text-anchor="end" font-weight="bold" fill="#231f20" stroke="#231f20" stroke-width="0.25" transform="translate(329.30,257.60) scale(1.01,1.12)" >1.5</text>
<line x1="331.70" y1="308.80" x2="336.20" y2="308.80" stroke="#0d0d0d" stroke-width="1.7" stroke-linecap="butt"/>
<text font-size="15" text-anchor="end" font-weight="bold" fill="#231f20" stroke="#231f20" stroke-width="0.25" transform="translate(329.30,313.60) scale(1.01,1.12)" >1.0</text>
<line x1="331.70" y1="364.80" x2="336.20" y2="364.80" stroke="#0d0d0d" stroke-width="1.7" stroke-linecap="butt"/>
<text font-size="15" text-anchor="end" font-weight="bold" fill="#231f20" stroke="#231f20" stroke-width="0.25" transform="translate(329.30,369.60) scale(1.01,1.12)" >0.5</text>
<line x1="331.70" y1="420.80" x2="336.20" y2="420.80" stroke="#0d0d0d" stroke-width="1.7" stroke-linecap="butt"/>
<text font-size="15" text-anchor="end" font-weight="bold" fill="#231f20" stroke="#231f20" stroke-width="0.25" transform="translate(329.30,425.60) scale(1.01,1.12)" >0.0</text>
<text font-size="15.3" text-anchor="middle" font-weight="bold" fill="#231f20" stroke="#231f20" stroke-width="0.25" transform="translate(262.60,337.70) rotate(-90)" >Enzyme activity</text>
<text font-size="15.3" text-anchor="middle" font-weight="bold" fill="#231f20" stroke="#231f20" stroke-width="0.25" transform="translate(281.00,335.00) rotate(-90)" >(RFU × 10<tspan font-size="9" dy="-5">3</tspan><tspan dy="5">)</tspan></text>
<text font-size="15.3" text-anchor="middle" font-weight="bold" fill="#231f20" stroke="#231f20" stroke-width="0.25" transform="translate(300.30,339.50) rotate(-90)" >(relative to ctrl)</text>
<rect x="348.25" y="310.10" width="19.30" height="110.70" fill="#5f5f5f" stroke="#0d0d0d" stroke-width="1.7"/>
<line x1="357.90" y1="302.08" x2="357.90" y2="316.64" stroke="#0d0d0d" stroke-width="1.5" stroke-linecap="butt"/>
<line x1="352.50" y1="302.08" x2="363.30" y2="302.08" stroke="#0d0d0d" stroke-width="1.6" stroke-linecap="butt"/>
<line x1="352.50" y1="316.64" x2="363.30" y2="316.64" stroke="#0d0d0d" stroke-width="1.6" stroke-linecap="butt"/>
<circle cx="359.90" cy="300.96" r="1.75" fill="#0d0d0d"/>
<circle cx="356.90" cy="305.44" r="1.75" fill="#0d0d0d"/>
<circle cx="358.90" cy="309.92" r="1.75" fill="#0d0d0d"/>
<circle cx="355.90" cy="312.16" r="1.75" fill="#0d0d0d"/>
<circle cx="357.90" cy="316.64" r="1.75" fill="#0d0d0d"/>
<rect x="381.15" y="367.89" width="18.30" height="52.91" fill="#d92b22" stroke="#0d0d0d" stroke-width="1.7"/>
<line x1="390.30" y1="360.32" x2="390.30" y2="373.76" stroke="#0d0d0d" stroke-width="1.5" stroke-linecap="butt"/>
<line x1="384.90" y1="360.32" x2="395.70" y2="360.32" stroke="#0d0d0d" stroke-width="1.6" stroke-linecap="butt"/>
<line x1="384.90" y1="373.76" x2="395.70" y2="373.76" stroke="#0d0d0d" stroke-width="1.6" stroke-linecap="butt"/>
<circle cx="388.30" cy="359.20" r="1.75" fill="#0d0d0d"/>
<circle cx="392.30" cy="361.44" r="1.75" fill="#0d0d0d"/>
<circle cx="390.30" cy="365.92" r="1.75" fill="#0d0d0d"/>
<circle cx="389.30" cy="370.40" r="1.75" fill="#0d0d0d"/>
<circle cx="392.30" cy="372.64" r="1.75" fill="#0d0d0d"/>
<rect x="413.45" y="332.05" width="18.70" height="88.75" fill="#283e98" stroke="#0d0d0d" stroke-width="1.7"/>
<line x1="422.80" y1="320.00" x2="422.80" y2="342.40" stroke="#0d0d0d" stroke-width="1.5" stroke-linecap="butt"/>
<line x1="417.40" y1="320.00" x2="428.20" y2="320.00" stroke="#0d0d0d" stroke-width="1.6" stroke-linecap="butt"/>
<line x1="417.40" y1="342.40" x2="428.20" y2="342.40" stroke="#0d0d0d" stroke-width="1.6" stroke-linecap="butt"/>
<circle cx="422.80" cy="321.12" r="1.75" fill="#0d0d0d"/>
<circle cx="420.80" cy="326.72" r="1.75" fill="#0d0d0d"/>
<circle cx="424.80" cy="328.96" r="1.75" fill="#0d0d0d"/>
<circle cx="422.80" cy="334.56" r="1.75" fill="#0d0d0d"/>
<circle cx="421.80" cy="340.16" r="1.75" fill="#0d0d0d"/>
<circle cx="423.80" cy="342.40" r="1.75" fill="#0d0d0d"/>
<line x1="335.45" y1="420.80" x2="444.80" y2="420.80" stroke="#0d0d0d" stroke-width="1.7" stroke-linecap="butt"/>
<line x1="357.90" y1="420.80" x2="357.90" y2="425.30" stroke="#0d0d0d" stroke-width="1.7" stroke-linecap="butt"/>
<line x1="390.30" y1="420.80" x2="390.30" y2="425.30" stroke="#0d0d0d" stroke-width="1.7" stroke-linecap="butt"/>
<line x1="422.80" y1="420.80" x2="422.80" y2="425.30" stroke="#0d0d0d" stroke-width="1.7" stroke-linecap="butt"/>
<line x1="358.90" y1="273.90" x2="424.80" y2="273.90" stroke="#2a2020" stroke-width="1.6" stroke-linecap="butt"/>
<path d="M389.95 264.95L390.68 266.89L392.76 266.99L391.14 268.29L391.68 270.29L389.95 269.15L388.22 270.29L388.76 268.29L387.14 266.99L389.22 266.89ZM395.35 264.95L396.08 266.89L398.16 266.99L396.54 268.29L397.08 270.29L395.35 269.15L393.62 270.29L394.16 268.29L392.54 266.99L394.62 266.89Z" fill="#231f20"/>
<line x1="358.90" y1="292.00" x2="389.60" y2="292.00" stroke="#2a2020" stroke-width="1.6" stroke-linecap="butt"/>
<path d="M368.85 283.65L369.58 285.59L371.66 285.69L370.04 286.99L370.58 288.99L368.85 287.85L367.12 288.99L367.66 286.99L366.04 285.69L368.12 285.59ZM374.25 283.65L374.98 285.59L377.06 285.69L375.44 286.99L375.98 288.99L374.25 287.85L372.52 288.99L373.06 286.99L371.44 285.69L373.52 285.59ZM379.65 283.65L380.38 285.59L382.46 285.69L380.84 286.99L381.38 288.99L379.65 287.85L377.92 288.99L378.46 286.99L376.84 285.69L378.92 285.59Z" fill="#231f20"/>
<line x1="394.30" y1="292.00" x2="424.80" y2="292.00" stroke="#2a2020" stroke-width="1.6" stroke-linecap="butt"/>
<path d="M404.15 283.65L404.88 285.59L406.96 285.69L405.34 286.99L405.88 288.99L404.15 287.85L402.42 288.99L402.96 286.99L401.34 285.69L403.42 285.59ZM409.55 283.65L410.28 285.59L412.36 285.69L410.74 286.99L411.28 288.99L409.55 287.85L407.82 288.99L408.36 286.99L406.74 285.69L408.82 285.59ZM414.95 283.65L415.68 285.59L417.76 285.69L416.14 286.99L416.68 288.99L414.95 287.85L413.22 288.99L413.76 286.99L412.14 285.69L414.22 285.59Z" fill="#231f20"/>
<text font-size="15.5" text-anchor="end" font-weight="bold" fill="#231f20" stroke="#231f20" stroke-width="0.25" transform="translate(327.00,440.70) scale(1.0,1.04)" >Ctrl</text>
<path d="M353.30 437.50h8M357.30 433.50v8" stroke="#231f20" stroke-width="1.7"/>
<path d="M385.05 437.10h9.3" stroke="#231f20" stroke-width="1.6"/>
<path d="M417.55 437.10h9.3" stroke="#231f20" stroke-width="1.6"/>
<text font-size="15.5" text-anchor="end" font-weight="bold" fill="#231f20" stroke="#231f20" stroke-width="0.25" transform="translate(327.00,458.90) scale(1.0,1.04)" >H<tspan font-size="8.8" dy="4.5">2</tspan><tspan dy="-4.5">O</tspan><tspan font-size="8.8" dy="4.5">2</tspan></text>
<path d="M352.65 455.70h9.3" stroke="#231f20" stroke-width="1.6"/>
<path d="M385.70 456.10h8M389.70 452.10v8" stroke="#231f20" stroke-width="1.7"/>
<path d="M418.20 456.10h8M422.20 452.10v8" stroke="#231f20" stroke-width="1.7"/>
<text font-size="15.5" text-anchor="end" font-weight="bold" fill="#231f20" stroke="#231f20" stroke-width="0.25" transform="translate(327.00,479.90) scale(1.0,1.04)" >Z-VAD</text>
<path d="M352.65 473.90h9.3" stroke="#231f20" stroke-width="1.6"/>
<path d="M385.05 473.90h9.3" stroke="#231f20" stroke-width="1.6"/>
<path d="M418.20 474.30h8M422.20 470.30v8" stroke="#231f20" stroke-width="1.7"/>
<text font-size="15.5" text-anchor="end" font-weight="bold" fill="#231f20" stroke="#231f20" stroke-width="0.25" transform="translate(327.00,496.60) scale(1.0,1.04)" >Nec-1</text>
<path d="M352.65 492.50h9.3" stroke="#231f20" stroke-width="1.6"/>
<path d="M385.05 492.50h9.3" stroke="#231f20" stroke-width="1.6"/>
<path d="M418.20 492.90h8M422.20 488.90v8" stroke="#231f20" stroke-width="1.7"/>
<text font-size="16.5" text-anchor="start" font-weight="bold" fill="#231f20" stroke="#231f20" stroke-width="0.25" transform="translate(478.80,259.50)" >E</text>
<line x1="574.90" y1="252.85" x2="574.90" y2="421.25" stroke="#0d0d0d" stroke-width="1.7" stroke-linecap="butt"/>
<line x1="570.40" y1="253.60" x2="574.90" y2="253.60" stroke="#0d0d0d" stroke-width="1.7" stroke-linecap="butt"/>
<text font-size="15" text-anchor="end" font-weight="bold" fill="#231f20" stroke="#231f20" stroke-width="0.25" transform="translate(568.60,258.40) scale(1.03,1.14)" >200</text>
<line x1="570.40" y1="295.32" x2="574.90" y2="295.32" stroke="#0d0d0d" stroke-width="1.7" stroke-linecap="butt"/>
<text font-size="15" text-anchor="end" font-weight="bold" fill="#231f20" stroke="#231f20" stroke-width="0.25" transform="translate(568.60,300.12) scale(1.03,1.14)" >150</text>
<line x1="570.40" y1="337.05" x2="574.90" y2="337.05" stroke="#0d0d0d" stroke-width="1.7" stroke-linecap="butt"/>
<text font-size="15" text-anchor="end" font-weight="bold" fill="#231f20" stroke="#231f20" stroke-width="0.25" transform="translate(568.60,341.85) scale(1.03,1.14)" >100</text>
<line x1="570.40" y1="378.77" x2="574.90" y2="378.77" stroke="#0d0d0d" stroke-width="1.7" stroke-linecap="butt"/>
<text font-size="15" text-anchor="end" font-weight="bold" fill="#231f20" stroke="#231f20" stroke-width="0.25" transform="translate(568.60,383.57) scale(1.03,1.14)" >50</text>
<line x1="570.40" y1="420.50" x2="574.90" y2="420.50" stroke="#0d0d0d" stroke-width="1.7" stroke-linecap="butt"/>
<text font-size="15" text-anchor="end" font-weight="bold" fill="#231f20" stroke="#231f20" stroke-width="0.25" transform="translate(568.60,425.30) scale(1.03,1.14)" >0</text>
<text font-size="15.0" text-anchor="middle" font-weight="bold" fill="#231f20" stroke="#231f20" stroke-width="0.25" transform="translate(518.20,338.10) rotate(-90)" >LDH release (%)</text>
<text font-size="15.5" text-anchor="middle" font-weight="bold" fill="#231f20" stroke="#231f20" stroke-width="0.25" transform="translate(534.70,335.90) rotate(-90)" >(relative to ctrl)</text>
<rect x="586.85" y="337.90" width="19.10" height="82.60" fill="#5f5f5f" stroke="#0d0d0d" stroke-width="1.7"/>
<line x1="596.40" y1="322.86" x2="596.40" y2="352.07" stroke="#0d0d0d" stroke-width="1.5" stroke-linecap="butt"/>
<line x1="591.00" y1="322.86" x2="601.80" y2="322.86" stroke="#0d0d0d" stroke-width="1.6" stroke-linecap="butt"/>
<line x1="591.00" y1="352.07" x2="601.80" y2="352.07" stroke="#0d0d0d" stroke-width="1.6" stroke-linecap="butt"/>
<circle cx="596.40" cy="312.85" r="1.75" fill="#0d0d0d"/>
<circle cx="595.40" cy="326.20" r="1.75" fill="#0d0d0d"/>
<circle cx="597.40" cy="334.55" r="1.75" fill="#0d0d0d"/>
<circle cx="594.40" cy="338.72" r="1.75" fill="#0d0d0d"/>
<circle cx="596.40" cy="348.73" r="1.75" fill="#0d0d0d"/>
<circle cx="597.40" cy="353.74" r="1.75" fill="#0d0d0d"/>
<rect x="619.15" y="278.98" width="19.10" height="141.52" fill="#d92b22" stroke="#0d0d0d" stroke-width="1.7"/>
<line x1="628.70" y1="270.29" x2="628.70" y2="283.22" stroke="#0d0d0d" stroke-width="1.5" stroke-linecap="butt"/>
<line x1="623.30" y1="270.29" x2="634.10" y2="270.29" stroke="#0d0d0d" stroke-width="1.6" stroke-linecap="butt"/>
<line x1="623.30" y1="283.22" x2="634.10" y2="283.22" stroke="#0d0d0d" stroke-width="1.6" stroke-linecap="butt"/>
<circle cx="628.70" cy="270.29" r="1.75" fill="#0d0d0d"/>
<circle cx="625.70" cy="274.46" r="1.75" fill="#0d0d0d"/>
<circle cx="631.70" cy="275.30" r="1.75" fill="#0d0d0d"/>
<circle cx="628.70" cy="278.63" r="1.75" fill="#0d0d0d"/>
<circle cx="626.70" cy="281.97" r="1.75" fill="#0d0d0d"/>
<circle cx="628.70" cy="286.15" r="1.75" fill="#0d0d0d"/>
<rect x="651.25" y="310.61" width="19.30" height="109.89" fill="#283e98" stroke="#0d0d0d" stroke-width="1.7"/>
<line x1="660.90" y1="305.76" x2="660.90" y2="313.27" stroke="#0d0d0d" stroke-width="1.5" stroke-linecap="butt"/>
<line x1="655.50" y1="305.76" x2="666.30" y2="305.76" stroke="#0d0d0d" stroke-width="1.6" stroke-linecap="butt"/>
<line x1="655.50" y1="313.27" x2="666.30" y2="313.27" stroke="#0d0d0d" stroke-width="1.6" stroke-linecap="butt"/>
<circle cx="662.90" cy="305.34" r="1.75" fill="#0d0d0d"/>
<circle cx="658.90" cy="307.84" r="1.75" fill="#0d0d0d"/>
<circle cx="660.90" cy="309.51" r="1.75" fill="#0d0d0d"/>
<circle cx="663.90" cy="311.18" r="1.75" fill="#0d0d0d"/>
<circle cx="659.90" cy="312.01" r="1.75" fill="#0d0d0d"/>
<line x1="574.15" y1="420.50" x2="684.00" y2="420.50" stroke="#0d0d0d" stroke-width="1.7" stroke-linecap="butt"/>
<line x1="596.40" y1="420.50" x2="596.40" y2="425.00" stroke="#0d0d0d" stroke-width="1.7" stroke-linecap="butt"/>
<line x1="628.70" y1="420.50" x2="628.70" y2="425.00" stroke="#0d0d0d" stroke-width="1.7" stroke-linecap="butt"/>
<line x1="660.90" y1="420.50" x2="660.90" y2="425.00" stroke="#0d0d0d" stroke-width="1.7" stroke-linecap="butt"/>
<line x1="595.60" y1="243.70" x2="661.00" y2="243.70" stroke="#2a2020" stroke-width="1.6" stroke-linecap="butt"/>
<path d="M627.20 234.75L627.93 236.69L630.01 236.79L628.39 238.09L628.93 240.09L627.20 238.95L625.47 240.09L626.01 238.09L624.39 236.79L626.47 236.69ZM632.60 234.75L633.33 236.69L635.41 236.79L633.79 238.09L634.33 240.09L632.60 238.95L630.87 240.09L631.41 238.09L629.79 236.79L631.87 236.69Z" fill="#231f20"/>
<line x1="595.60" y1="261.70" x2="625.80" y2="261.70" stroke="#2a2020" stroke-width="1.6" stroke-linecap="butt"/>
<path d="M605.30 253.35L606.03 255.29L608.11 255.39L606.49 256.69L607.03 258.69L605.30 257.55L603.57 258.69L604.11 256.69L602.49 255.39L604.57 255.29ZM610.70 253.35L611.43 255.29L613.51 255.39L611.89 256.69L612.43 258.69L610.70 257.55L608.97 258.69L609.51 256.69L607.89 255.39L609.97 255.29ZM616.10 253.35L616.83 255.29L618.91 255.39L617.29 256.69L617.83 258.69L616.10 257.55L614.37 258.69L614.91 256.69L613.29 255.39L615.37 255.29Z" fill="#231f20"/>
<line x1="631.00" y1="261.70" x2="661.60" y2="261.70" stroke="#2a2020" stroke-width="1.6" stroke-linecap="butt"/>
<path d="M640.90 253.35L641.63 255.29L643.71 255.39L642.09 256.69L642.63 258.69L640.90 257.55L639.17 258.69L639.71 256.69L638.09 255.39L640.17 255.29ZM646.30 253.35L647.03 255.29L649.11 255.39L647.49 256.69L648.03 258.69L646.30 257.55L644.57 258.69L645.11 256.69L643.49 255.39L645.57 255.29ZM651.70 253.35L652.43 255.29L654.51 255.39L652.89 256.69L653.43 258.69L651.70 257.55L649.97 258.69L650.51 256.69L648.89 255.39L650.97 255.29Z" fill="#231f20"/>
<text font-size="15.5" text-anchor="end" font-weight="bold" fill="#231f20" stroke="#231f20" stroke-width="0.25" transform="translate(567.60,440.70) scale(1.0,1.04)" >Ctrl</text>
<path d="M591.80 437.50h8M595.80 433.50v8" stroke="#231f20" stroke-width="1.7"/>
<path d="M623.45 437.10h9.3" stroke="#231f20" stroke-width="1.6"/>
<path d="M655.65 437.10h9.3" stroke="#231f20" stroke-width="1.6"/>
<text font-size="15.5" text-anchor="end" font-weight="bold" fill="#231f20" stroke="#231f20" stroke-width="0.25" transform="translate(567.60,458.90) scale(1.0,1.04)" >H<tspan font-size="8.8" dy="4.5">2</tspan><tspan dy="-4.5">O</tspan><tspan font-size="8.8" dy="4.5">2</tspan></text>
<path d="M591.15 455.70h9.3" stroke="#231f20" stroke-width="1.6"/>
<path d="M624.10 456.10h8M628.10 452.10v8" stroke="#231f20" stroke-width="1.7"/>
<path d="M656.30 456.10h8M660.30 452.10v8" stroke="#231f20" stroke-width="1.7"/>
<text font-size="15.5" text-anchor="end" font-weight="bold" fill="#231f20" stroke="#231f20" stroke-width="0.25" transform="translate(567.60,479.90) scale(1.0,1.04)" >Z-VAD</text>
<path d="M591.15 473.90h9.3" stroke="#231f20" stroke-width="1.6"/>
<path d="M623.45 473.90h9.3" stroke="#231f20" stroke-width="1.6"/>
<path d="M656.30 474.30h8M660.30 470.30v8" stroke="#231f20" stroke-width="1.7"/>
<text font-size="15.5" text-anchor="end" font-weight="bold" fill="#231f20" stroke="#231f20" stroke-width="0.25" transform="translate(567.60,496.60) scale(1.0,1.04)" >Nec-1</text>
<path d="M591.15 492.50h9.3" stroke="#231f20" stroke-width="1.6"/>
<path d="M623.45 492.50h9.3" stroke="#231f20" stroke-width="1.6"/>
<path d="M656.30 492.90h8M660.30 488.90v8" stroke="#231f20" stroke-width="1.7"/>
<line x1="572.80" y1="561.25" x2="572.80" y2="698.35" stroke="#0d0d0d" stroke-width="1.7" stroke-linecap="butt"/>
<line x1="568.30" y1="562.00" x2="572.80" y2="562.00" stroke="#0d0d0d" stroke-width="1.7" stroke-linecap="butt"/>
<text font-size="15" text-anchor="end" font-weight="bold" fill="#231f20" stroke="#231f20" stroke-width="0.25" transform="translate(567.30,565.15) scale(1.04,1.11)" >30</text>
<line x1="568.30" y1="607.20" x2="572.80" y2="607.20" stroke="#0d0d0d" stroke-width="1.7" stroke-linecap="butt"/>
<text font-size="15" text-anchor="end" font-weight="bold" fill="#231f20" stroke="#231f20" stroke-width="0.25" transform="translate(567.30,610.35) scale(1.04,1.11)" >20</text>
<line x1="568.30" y1="652.40" x2="572.80" y2="652.40" stroke="#0d0d0d" stroke-width="1.7" stroke-linecap="butt"/>
<text font-size="15" text-anchor="end" font-weight="bold" fill="#231f20" stroke="#231f20" stroke-width="0.25" transform="translate(567.30,655.55) scale(1.04,1.11)" >10</text>
<line x1="568.30" y1="697.60" x2="572.80" y2="697.60" stroke="#0d0d0d" stroke-width="1.7" stroke-linecap="butt"/>
<text font-size="15" text-anchor="end" font-weight="bold" fill="#231f20" stroke="#231f20" stroke-width="0.25" transform="translate(567.30,700.75) scale(1.04,1.11)" >0</text>
<text font-size="15.4" text-anchor="middle" font-weight="bold" fill="#231f20" stroke="#231f20" stroke-width="0.25" transform="translate(539.70,627.80) rotate(-90)" >Apoptosis (%)</text>
<rect x="583.05" y="665.23" width="14.90" height="32.37" fill="#e6403a" stroke="#0d0d0d" stroke-width="1.7"/>
<line x1="590.50" y1="664.38" x2="590.50" y2="659.90" stroke="#0d0d0d" stroke-width="1.5" stroke-linecap="butt"/>
<line x1="586.30" y1="659.90" x2="594.70" y2="659.90" stroke="#0d0d0d" stroke-width="1.8" stroke-linecap="butt"/>
<line x1="590.50" y1="677.62" x2="590.50" y2="674.55" stroke="#0d0d0d" stroke-width="1.5" stroke-linecap="butt"/>
<line x1="586.30" y1="674.55" x2="594.70" y2="674.55" stroke="#0d0d0d" stroke-width="1.8" stroke-linecap="butt"/>
<rect x="583.05" y="678.47" width="14.90" height="19.13" fill="#e7e04a" stroke="#0d0d0d" stroke-width="1.7"/>
<rect x="608.95" y="591.05" width="15.20" height="106.55" fill="#e6403a" stroke="#0d0d0d" stroke-width="1.7"/>
<line x1="616.55" y1="590.20" x2="616.55" y2="585.05" stroke="#0d0d0d" stroke-width="1.5" stroke-linecap="butt"/>
<line x1="612.35" y1="585.05" x2="620.75" y2="585.05" stroke="#0d0d0d" stroke-width="1.8" stroke-linecap="butt"/>
<line x1="616.55" y1="611.72" x2="616.55" y2="609.46" stroke="#0d0d0d" stroke-width="1.5" stroke-linecap="butt"/>
<line x1="612.35" y1="609.46" x2="620.75" y2="609.46" stroke="#0d0d0d" stroke-width="1.8" stroke-linecap="butt"/>
<rect x="608.95" y="612.57" width="15.20" height="85.03" fill="#e7e04a" stroke="#0d0d0d" stroke-width="1.7"/>
<rect x="635.75" y="637.88" width="15.10" height="59.72" fill="#e6403a" stroke="#0d0d0d" stroke-width="1.7"/>
<line x1="643.30" y1="637.03" x2="643.30" y2="635.68" stroke="#0d0d0d" stroke-width="1.5" stroke-linecap="butt"/>
<line x1="639.10" y1="635.68" x2="647.50" y2="635.68" stroke="#0d0d0d" stroke-width="1.8" stroke-linecap="butt"/>
<line x1="643.30" y1="656.15" x2="643.30" y2="648.56" stroke="#0d0d0d" stroke-width="1.5" stroke-linecap="butt"/>
<line x1="639.10" y1="648.56" x2="647.50" y2="648.56" stroke="#0d0d0d" stroke-width="1.8" stroke-linecap="butt"/>
<rect x="635.75" y="657.00" width="15.10" height="40.60" fill="#e7e04a" stroke="#0d0d0d" stroke-width="1.7"/>
<line x1="572.05" y1="697.60" x2="661.80" y2="697.60" stroke="#0d0d0d" stroke-width="1.7" stroke-linecap="butt"/>
<line x1="590.50" y1="697.60" x2="590.50" y2="702.10" stroke="#0d0d0d" stroke-width="1.7" stroke-linecap="butt"/>
<line x1="616.55" y1="697.60" x2="616.55" y2="702.10" stroke="#0d0d0d" stroke-width="1.7" stroke-linecap="butt"/>
<line x1="643.30" y1="697.60" x2="643.30" y2="702.10" stroke="#0d0d0d" stroke-width="1.7" stroke-linecap="butt"/>
<line x1="584.60" y1="563.60" x2="650.20" y2="563.60" stroke="#2a2020" stroke-width="1.6" stroke-linecap="butt"/>
<path d="M614.70 554.65L615.43 556.59L617.51 556.69L615.89 557.99L616.43 559.99L614.70 558.85L612.97 559.99L613.51 557.99L611.89 556.69L613.97 556.59ZM620.10 554.65L620.83 556.59L622.91 556.69L621.29 557.99L621.83 559.99L620.10 558.85L618.37 559.99L618.91 557.99L617.29 556.69L619.37 556.59Z" fill="#231f20"/>
<line x1="584.60" y1="580.00" x2="616.00" y2="580.00" stroke="#2a2020" stroke-width="1.6" stroke-linecap="butt"/>
<path d="M594.90 571.65L595.63 573.59L597.71 573.69L596.09 574.99L596.63 576.99L594.90 575.85L593.17 576.99L593.71 574.99L592.09 573.69L594.17 573.59ZM600.30 571.65L601.03 573.59L603.11 573.69L601.49 574.99L602.03 576.99L600.30 575.85L598.57 576.99L599.11 574.99L597.49 573.69L599.57 573.59ZM605.70 571.65L606.43 573.59L608.51 573.69L606.89 574.99L607.43 576.99L605.70 575.85L603.97 576.99L604.51 574.99L602.89 573.69L604.97 573.59Z" fill="#231f20"/>
<line x1="620.00" y1="580.00" x2="650.20" y2="580.00" stroke="#2a2020" stroke-width="1.6" stroke-linecap="butt"/>
<path d="M629.70 571.65L630.43 573.59L632.51 573.69L630.89 574.99L631.43 576.99L629.70 575.85L627.97 576.99L628.51 574.99L626.89 573.69L628.97 573.59ZM635.10 571.65L635.83 573.59L637.91 573.69L636.29 574.99L636.83 576.99L635.10 575.85L633.37 576.99L633.91 574.99L632.29 573.69L634.37 573.59ZM640.50 571.65L641.23 573.59L643.31 573.69L641.69 574.99L642.23 576.99L640.50 575.85L638.77 576.99L639.31 574.99L637.69 573.69L639.77 573.59Z" fill="#231f20"/>
<rect x="573.30" y="529.00" width="13.80" height="5.00" fill="#e6403a" stroke="#0d0d0d" stroke-width="1.8"/>
<rect x="573.30" y="543.00" width="13.80" height="5.00" fill="#e7e04a" stroke="#0d0d0d" stroke-width="1.8"/>
<text font-size="13.4" text-anchor="start" font-weight="normal" fill="#231f20" stroke="#231f20" stroke-width="0.45" transform="translate(591.00,534.90)" >Late apoptosis</text>
<text font-size="13.4" text-anchor="start" font-weight="normal" fill="#231f20" stroke="#231f20" stroke-width="0.45" transform="translate(591.00,549.40)" >Early apoptosis</text>
<text font-size="15.5" text-anchor="end" font-weight="bold" fill="#231f20" stroke="#231f20" stroke-width="0.25" transform="translate(565.80,716.60) scale(1.0,1.04)" >Ctrl</text>
<path d="M586.20 713.40h8M590.20 709.40v8" stroke="#231f20" stroke-width="1.7"/>
<path d="M611.60 713.00h9.3" stroke="#231f20" stroke-width="1.6"/>
<path d="M638.35 713.00h9.3" stroke="#231f20" stroke-width="1.6"/>
<text font-size="15.5" text-anchor="end" font-weight="bold" fill="#231f20" stroke="#231f20" stroke-width="0.25" transform="translate(565.80,735.20) scale(1.0,1.04)" >H<tspan font-size="8.8" dy="4.5">2</tspan><tspan dy="-4.5">O</tspan><tspan font-size="8.8" dy="4.5">2</tspan></text>
<path d="M585.55 732.00h9.3" stroke="#231f20" stroke-width="1.6"/>
<path d="M612.25 732.40h8M616.25 728.40v8" stroke="#231f20" stroke-width="1.7"/>
<path d="M639.00 732.40h8M643.00 728.40v8" stroke="#231f20" stroke-width="1.7"/>
<text font-size="15.5" text-anchor="end" font-weight="bold" fill="#231f20" stroke="#231f20" stroke-width="0.25" transform="translate(565.80,756.80) scale(1.0,1.04)" >Z-VAD</text>
<path d="M585.55 750.80h9.3" stroke="#231f20" stroke-width="1.6"/>
<path d="M611.60 750.80h9.3" stroke="#231f20" stroke-width="1.6"/>
<path d="M639.00 751.20h8M643.00 747.20v8" stroke="#231f20" stroke-width="1.7"/>
<text font-size="15.5" text-anchor="end" font-weight="bold" fill="#231f20" stroke="#231f20" stroke-width="0.25" transform="translate(565.80,773.30) scale(1.0,1.04)" >Nec-1</text>
<path d="M585.55 769.20h9.3" stroke="#231f20" stroke-width="1.6"/>
<path d="M611.60 769.20h9.3" stroke="#231f20" stroke-width="1.6"/>
<path d="M639.00 769.60h8M643.00 765.60v8" stroke="#231f20" stroke-width="1.7"/>
<text font-size="16.5" text-anchor="start" font-weight="bold" fill="#231f20" stroke="#231f20" stroke-width="0.25" transform="translate(0.70,535.50)" >F</text>
<text font-size="15.5" text-anchor="end" font-weight="bold" fill="#231f20" stroke="#231f20" stroke-width="0.25" transform="translate(67.30,542.00) scale(1.0,1.04)" >Ctrl</text>
<path d="M136.20 538.80h8M140.20 534.80v8" stroke="#231f20" stroke-width="1.7"/>
<path d="M274.85 538.40h9.3" stroke="#231f20" stroke-width="1.6"/>
<path d="M415.55 538.40h9.3" stroke="#231f20" stroke-width="1.6"/>
<text font-size="15.5" text-anchor="end" font-weight="bold" fill="#231f20" stroke="#231f20" stroke-width="0.25" transform="translate(67.30,560.40) scale(1.0,1.04)" >H<tspan font-size="8.8" dy="4.5">2</tspan><tspan dy="-4.5">O</tspan><tspan font-size="8.8" dy="4.5">2</tspan></text>
<path d="M135.55 557.20h9.3" stroke="#231f20" stroke-width="1.6"/>
<path d="M275.50 557.60h8M279.50 553.60v8" stroke="#231f20" stroke-width="1.7"/>
<path d="M416.20 557.60h8M420.20 553.60v8" stroke="#231f20" stroke-width="1.7"/>
<text font-size="15.5" text-anchor="end" font-weight="bold" fill="#231f20" stroke="#231f20" stroke-width="0.25" transform="translate(67.30,581.20) scale(1.0,1.04)" >Z-VAD</text>
<path d="M135.55 575.20h9.3" stroke="#231f20" stroke-width="1.6"/>
<path d="M274.85 575.20h9.3" stroke="#231f20" stroke-width="1.6"/>
<path d="M416.20 575.60h8M420.20 571.60v8" stroke="#231f20" stroke-width="1.7"/>
<text font-size="15.5" text-anchor="end" font-weight="bold" fill="#231f20" stroke="#231f20" stroke-width="0.25" transform="translate(67.30,598.10) scale(1.0,1.04)" >Nec-1</text>
<path d="M135.55 594.00h9.3" stroke="#231f20" stroke-width="1.6"/>
<path d="M274.85 594.00h9.3" stroke="#231f20" stroke-width="1.6"/>
<path d="M416.20 594.40h8M420.20 590.40v8" stroke="#231f20" stroke-width="1.7"/>
<line x1="58.80" y1="632.00" x2="58.80" y2="727.30" stroke="#0d0d0d" stroke-width="1.6" stroke-linecap="butt"/>
<line x1="58.05" y1="727.30" x2="360.00" y2="727.30" stroke="#0d0d0d" stroke-width="1.6" stroke-linecap="butt"/>
<path d="M58.8 622 L65 637 L58.8 633.5 L52.6 637 Z" fill="#111"/>
<path d="M373.2 727.3 L358 721.3 L361.5 727.3 L358 733.3 Z" fill="#111"/>
<text font-size="15.5" text-anchor="middle" font-weight="bold" fill="#231f20" stroke="#231f20" stroke-width="0.25" transform="translate(64.70,612.00) rotate(-90)" >PI</text>
<text font-size="15.4" text-anchor="start" font-weight="bold" fill="#231f20" stroke="#231f20" stroke-width="0.25" transform="translate(374.20,731.60)" >Annexin V-FITC</text>
<rect x="81.20" y="608.40" width="122.20" height="98.20" fill="none" stroke="#3a3a3a" stroke-width="0.9"/>
<path d="M109.5 696.2h.7M107.3 693.2h.7M105.8 693.2h.7M110.0 699.1h.7M105.5 694.3h.7M113.5 695.5h.7M110.4 692.4h.7M109.3 697.4h.7M98.5 696.2h.7M93.9 694.7h.7M94.4 697.6h.7M99.1 698.2h.7M110.8 694.5h.7M88.9 697.9h.7M109.1 695.7h.7M97.0 696.4h.7M101.5 694.6h.7M118.2 691.2h.7M109.2 697.9h.7M104.7 695.9h.7M110.4 695.3h.7M99.5 697.5h.7M120.6 688.6h.7M116.5 694.2h.7M104.2 702.2h.7M115.8 690.6h.7M110.1 696.9h.7M108.0 697.6h.7M109.0 697.3h.7M121.3 691.0h.7M111.2 693.6h.7M110.5 691.6h.7M104.7 695.7h.7M116.9 697.1h.7M98.6 695.2h.7M114.8 688.5h.7M105.7 695.8h.7M119.8 695.2h.7M106.8 694.8h.7M107.4 700.1h.7M106.0 695.1h.7M112.4 694.4h.7M107.9 692.4h.7M109.4 694.0h.7M119.1 695.3h.7M109.3 697.3h.7M106.7 698.9h.7M109.5 697.0h.7M98.9 698.4h.7M95.7 692.2h.7M107.0 693.2h.7M110.8 701.5h.7M102.7 694.9h.7M111.2 696.4h.7M108.1 695.0h.7M115.3 695.7h.7M101.0 696.8h.7M109.8 692.2h.7M111.6 692.4h.7M117.5 694.3h.7M110.2 693.4h.7M108.5 689.7h.7M100.2 698.2h.7M92.0 701.2h.7M95.2 700.4h.7M102.6 698.9h.7M110.6 690.6h.7M119.7 697.4h.7M109.0 694.6h.7M108.2 692.7h.7M118.5 691.9h.7M109.1 693.1h.7M104.4 692.6h.7M119.8 692.8h.7M117.4 693.8h.7M103.8 695.5h.7M104.9 696.2h.7M106.4 695.0h.7M98.2 695.2h.7M123.1 690.6h.7M100.9 698.0h.7M121.0 688.8h.7M107.8 693.8h.7M95.1 700.3h.7M109.3 695.5h.7M103.3 697.9h.7M105.1 695.8h.7M100.4 693.6h.7M120.5 691.6h.7M111.9 694.7h.7M105.9 694.6h.7M114.7 693.4h.7M108.3 695.6h.7M119.1 695.3h.7M112.6 693.0h.7M98.2 700.3h.7M117.4 693.3h.7M113.9 696.7h.7M116.3 696.6h.7M105.8 700.4h.7M99.3 699.8h.7M113.6 697.0h.7M124.9 696.5h.7M100.1 692.3h.7M116.2 691.0h.7M109.4 697.8h.7M96.0 691.9h.7M111.6 695.0h.7M107.5 695.8h.7M102.4 692.3h.7M108.1 692.8h.7M96.0 699.5h.7M109.0 696.6h.7M101.4 695.0h.7M101.3 694.4h.7M111.1 692.7h.7M112.4 695.7h.7M126.1 687.9h.7M116.8 693.6h.7M109.4 691.1h.7M105.7 698.2h.7M108.8 695.7h.7M107.1 699.1h.7M109.3 689.0h.7M103.8 690.7h.7M82.8 699.1h.7M120.4 693.2h.7M99.9 694.5h.7M118.8 693.9h.7M109.9 695.1h.7M109.8 697.6h.7M114.0 695.0h.7M100.9 698.5h.7M103.9 699.6h.7M99.1 697.0h.7M109.4 691.5h.7M123.6 696.7h.7M105.7 698.3h.7M112.6 687.1h.7M111.6 694.7h.7M110.2 692.0h.7M107.3 695.2h.7M119.2 694.3h.7M109.5 699.7h.7M104.9 695.1h.7M94.6 702.8h.7M117.4 696.4h.7M115.0 694.5h.7M111.3 694.2h.7M107.8 695.8h.7M121.9 694.4h.7M109.0 693.7h.7M104.3 701.0h.7M113.7 694.7h.7M106.7 692.7h.7M109.0 697.9h.7M106.3 695.3h.7M107.7 696.0h.7M96.4 697.2h.7M102.5 699.3h.7M103.2 698.2h.7M122.0 691.9h.7M104.6 696.8h.7M109.5 692.4h.7M113.3 700.4h.7M107.4 695.1h.7M100.9 697.9h.7M99.3 694.1h.7M120.0 690.6h.7M118.4 697.9h.7M111.6 696.5h.7M125.5 691.5h.7M104.6 692.3h.7M109.8 699.5h.7M117.4 691.0h.7M102.5 695.2h.7M111.9 694.2h.7M111.3 695.8h.7M107.1 695.7h.7M111.2 694.7h.7M113.6 699.9h.7M114.4 694.5h.7M95.7 699.2h.7M93.5 694.4h.7M116.5 695.9h.7M108.3 690.6h.7M106.5 693.9h.7M114.7 700.8h.7M111.3 692.7h.7M99.9 697.1h.7M108.1 692.3h.7M110.5 691.8h.7M118.6 696.6h.7M118.4 692.1h.7M113.7 694.1h.7M106.3 695.0h.7M98.8 693.2h.7M116.0 693.4h.7M111.3 697.9h.7M95.3 695.9h.7M110.9 696.1h.7M106.4 698.9h.7M111.2 691.4h.7M101.9 699.2h.7M113.3 689.0h.7M120.6 694.8h.7M120.5 692.0h.7M107.1 692.5h.7M130.3 690.6h.7M122.5 690.8h.7M110.8 690.2h.7M106.4 698.8h.7M99.2 700.5h.7M112.3 691.7h.7M105.4 694.8h.7M109.1 693.8h.7M102.7 695.8h.7M101.1 693.2h.7M109.1 697.9h.7M97.0 697.8h.7M104.2 693.5h.7M116.5 692.4h.7M121.8 690.6h.7M112.7 694.0h.7M103.3 698.2h.7M108.2 697.3h.7M109.1 692.2h.7M108.7 695.6h.7M117.4 691.1h.7M109.2 690.4h.7M114.8 691.1h.7M94.7 698.1h.7M118.6 689.1h.7M100.6 694.9h.7M100.2 698.3h.7M102.9 694.5h.7M114.3 692.2h.7M113.0 691.8h.7M99.6 692.0h.7M124.8 691.3h.7M111.5 694.8h.7M110.8 695.2h.7M125.1 689.2h.7M96.7 694.9h.7M98.6 699.7h.7M116.2 691.2h.7M98.1 696.6h.7M120.9 684.8h.7M113.8 691.3h.7M118.0 690.5h.7M107.2 691.4h.7M101.5 700.9h.7M116.2 692.8h.7M102.4 691.2h.7M106.3 695.9h.7M108.8 695.2h.7M100.3 696.9h.7M109.2 699.1h.7M124.8 691.8h.7M103.2 696.4h.7M104.5 694.1h.7M109.0 692.4h.7M114.5 694.0h.7M111.6 694.4h.7M103.5 693.7h.7M107.6 694.1h.7M111.4 694.9h.7M98.3 697.7h.7M98.5 695.7h.7M107.1 689.8h.7M110.3 695.6h.7M108.2 694.3h.7M106.4 693.1h.7M107.3 694.1h.7M110.3 691.7h.7M111.4 695.3h.7M108.3 694.3h.7M114.0 689.6h.7M113.3 695.2h.7M111.8 695.9h.7M104.1 695.6h.7M114.7 695.5h.7M111.2 690.6h.7M113.9 697.8h.7M117.8 694.3h.7M96.7 700.6h.7M108.3 688.2h.7M112.6 690.4h.7M98.9 695.6h.7M119.9 692.1h.7M111.7 699.9h.7M122.6 692.4h.7M107.5 692.0h.7M103.8 697.7h.7M112.7 695.0h.7M117.7 691.4h.7M109.0 697.5h.7M114.3 697.4h.7M112.8 693.8h.7M112.5 691.8h.7M96.1 699.7h.7M109.0 696.3h.7M95.6 697.0h.7M104.6 693.8h.7M91.0 698.0h.7M116.9 694.9h.7M104.6 696.2h.7M115.7 686.1h.7M108.5 697.1h.7M115.1 699.1h.7M118.8 694.3h.7M112.0 697.1h.7M105.1 696.1h.7M116.9 699.5h.7M108.2 695.4h.7M111.1 698.9h.7M109.3 699.6h.7M101.6 696.3h.7M107.9 697.9h.7M118.1 689.2h.7M102.0 697.8h.7M104.1 692.0h.7M118.0 695.0h.7M113.5 693.1h.7M117.9 692.9h.7M118.5 690.9h.7M102.5 697.3h.7M103.7 698.4h.7M111.6 692.2h.7M110.1 694.2h.7M117.0 692.0h.7M105.9 699.5h.7M127.9 697.4h.7M110.0 695.8h.7M122.1 692.4h.7M101.5 697.2h.7M113.2 692.2h.7M96.0 693.8h.7M115.0 692.0h.7M108.3 696.1h.7M114.6 693.3h.7M113.6 691.9h.7M106.5 692.9h.7M118.8 693.4h.7M103.4 695.5h.7M107.7 697.7h.7M96.4 694.9h.7M106.4 703.3h.7M117.3 693.4h.7M115.3 700.1h.7M107.6 694.6h.7M119.4 694.7h.7M115.0 692.7h.7M125.3 697.1h.7M114.1 696.4h.7M92.9 700.5h.7M107.9 696.9h.7M115.1 693.2h.7M95.6 699.1h.7M103.4 695.6h.7M104.5 695.3h.7M90.6 702.6h.7M111.6 698.1h.7M125.7 692.1h.7M94.7 695.7h.7M99.6 695.8h.7M110.2 689.4h.7M112.3 690.4h.7M111.9 694.5h.7M106.9 695.6h.7M105.1 694.4h.7M95.7 698.0h.7M124.6 698.0h.7M120.3 695.2h.7M104.0 700.6h.7M109.0 695.2h.7M107.1 696.0h.7M105.9 695.8h.7M100.6 696.0h.7M128.2 691.4h.7M107.5 697.2h.7M115.3 690.9h.7M107.8 698.3h.7M111.7 695.2h.7M122.2 690.8h.7M110.2 693.7h.7M121.7 687.2h.7M104.0 694.9h.7M114.9 696.0h.7M120.9 688.4h.7M115.7 693.2h.7M104.0 698.0h.7M102.0 690.8h.7M106.5 691.6h.7M104.2 697.4h.7M112.1 699.4h.7M107.9 691.2h.7M103.3 693.9h.7M99.5 698.6h.7M104.2 690.6h.7M115.2 693.8h.7M112.4 695.0h.7M114.7 694.4h.7M119.6 694.5h.7M112.7 695.8h.7M97.6 697.2h.7M107.4 696.3h.7M98.4 702.3h.7M110.4 691.6h.7M95.5 697.3h.7M108.8 693.4h.7M110.3 693.3h.7M114.0 692.3h.7M109.2 698.2h.7M130.6 688.2h.7M105.7 693.6h.7M115.9 690.7h.7M105.5 696.0h.7M101.5 694.1h.7M105.6 690.0h.7M97.6 696.5h.7M110.7 694.5h.7M95.0 696.9h.7M116.0 695.6h.7M108.9 692.9h.7M114.7 692.6h.7M99.9 694.9h.7M121.4 693.6h.7M119.0 692.0h.7M117.2 692.0h.7M108.2 702.8h.7M115.8 692.6h.7M108.8 696.4h.7M119.4 691.9h.7M95.2 697.3h.7M109.6 695.6h.7M120.3 694.1h.7M116.2 690.8h.7M116.6 700.0h.7M115.8 694.8h.7M110.8 700.2h.7M101.9 696.5h.7M113.3 696.7h.7M105.9 696.9h.7M107.2 696.1h.7M108.4 692.2h.7M109.3 697.9h.7M101.6 696.2h.7M115.0 691.1h.7M111.0 691.9h.7M118.8 700.1h.7M126.1 691.3h.7M115.6 694.4h.7M110.3 699.6h.7M98.7 700.5h.7M109.1 699.5h.7M111.0 693.0h.7M111.8 697.0h.7M109.8 696.7h.7M105.2 690.0h.7M116.9 695.9h.7M110.7 695.3h.7M118.0 692.3h.7M103.7 695.9h.7M119.3 689.3h.7M119.3 691.5h.7M100.5 700.8h.7M108.7 691.7h.7M106.6 698.6h.7M119.3 692.1h.7M112.8 696.7h.7M104.2 697.4h.7M109.2 693.8h.7M105.5 696.3h.7M109.7 693.6h.7M106.0 699.2h.7M111.3 697.5h.7M119.4 695.0h.7M128.1 689.2h.7M116.1 693.1h.7M124.7 697.2h.7M93.5 695.7h.7M114.9 696.5h.7M115.5 693.9h.7M113.2 696.4h.7M108.9 698.4h.7M91.0 700.8h.7M101.0 699.8h.7M107.6 693.1h.7M112.6 692.0h.7M102.0 692.3h.7M109.3 696.8h.7M117.9 693.2h.7M118.1 693.6h.7M108.7 697.1h.7M118.2 692.6h.7M107.5 695.2h.7M110.2 692.6h.7M117.9 692.5h.7M113.3 692.1h.7M112.4 695.8h.7M106.1 701.9h.7M112.5 699.8h.7M117.4 691.8h.7M106.4 697.2h.7M110.0 695.3h.7M107.2 690.5h.7M107.7 689.2h.7M112.5 692.6h.7M103.6 695.8h.7M111.7 690.7h.7M95.2 695.1h.7M92.8 695.8h.7M122.5 689.6h.7M114.8 690.3h.7M112.0 693.9h.7M109.0 697.0h.7M123.9 693.0h.7M110.5 692.3h.7M114.3 693.6h.7M116.3 693.8h.7M123.8 686.7h.7M107.1 698.3h.7M106.6 693.6h.7M107.3 691.7h.7M110.5 702.2h.7M118.9 690.2h.7M102.3 695.6h.7M117.7 691.3h.7M103.8 699.0h.7M116.6 692.8h.7M100.3 692.6h.7M103.8 690.0h.7M115.6 692.2h.7M113.4 699.9h.7M119.1 690.0h.7M116.6 697.2h.7M103.4 693.8h.7M108.6 690.8h.7M121.6 685.9h.7M100.4 696.3h.7M107.6 696.2h.7M111.7 694.2h.7M118.8 687.2h.7M109.5 693.2h.7M110.6 695.7h.7M102.0 694.9h.7M116.0 695.0h.7M103.9 702.3h.7M128.4 687.3h.7M112.0 702.1h.7M115.9 694.7h.7M107.8 694.1h.7M107.8 694.1h.7M115.6 692.9h.7M105.9 692.5h.7M109.1 692.8h.7M108.0 698.6h.7M112.5 696.2h.7M112.4 694.9h.7M108.5 694.6h.7M115.7 690.9h.7M120.5 693.2h.7M103.4 695.1h.7M103.9 696.9h.7M103.6 699.8h.7M103.1 690.0h.7M103.5 690.7h.7M109.2 698.4h.7M114.8 690.4h.7M103.2 701.7h.7M112.1 694.8h.7M118.2 700.7h.7M120.1 693.6h.7M112.4 696.5h.7M104.5 693.2h.7M109.9 692.5h.7M109.0 695.7h.7M128.7 689.0h.7M108.5 695.0h.7M113.1 697.6h.7M105.5 693.7h.7M96.0 695.3h.7M113.9 694.6h.7M101.2 695.9h.7M109.8 696.7h.7M104.6 695.5h.7M94.6 694.9h.7M122.8 686.3h.7M106.7 696.5h.7M106.4 693.6h.7M109.0 695.4h.7M108.8 690.0h.7M108.3 693.1h.7M105.0 696.9h.7M114.8 696.8h.7M105.4 698.8h.7M119.1 696.7h.7M120.9 692.6h.7M108.1 698.0h.7M98.3 698.1h.7M105.1 695.1h.7M95.2 695.6h.7M109.3 697.9h.7M117.6 693.4h.7M107.9 693.2h.7M112.8 693.9h.7M114.5 699.4h.7M109.2 691.0h.7M102.4 692.5h.7M99.7 701.0h.7M111.4 690.5h.7M114.9 697.9h.7M106.5 693.9h.7M106.7 696.7h.7M114.7 697.7h.7M119.4 696.7h.7M120.7 695.0h.7M96.9 697.4h.7M112.1 693.7h.7M117.0 692.8h.7M101.9 701.0h.7M115.0 694.8h.7M117.1 696.9h.7M112.3 687.6h.7M104.0 695.1h.7M101.4 697.5h.7M119.3 691.9h.7M100.2 703.0h.7M105.8 692.5h.7M111.4 696.1h.7M103.7 698.7h.7M105.5 693.4h.7M111.0 697.2h.7M104.3 697.3h.7M108.7 703.6h.7M103.7 700.5h.7M109.1 695.0h.7M115.4 696.7h.7M119.9 694.2h.7M104.6 694.7h.7M113.7 696.1h.7M121.0 694.2h.7M118.2 698.0h.7M110.9 690.7h.7M99.8 693.1h.7M122.6 690.2h.7M119.6 695.0h.7M123.6 695.4h.7M108.7 694.9h.7M110.2 695.7h.7M105.1 696.1h.7M122.7 687.7h.7M111.6 692.2h.7M111.0 697.4h.7M109.0 697.6h.7M96.5 701.1h.7M104.6 698.1h.7M111.0 687.5h.7M103.3 697.2h.7M122.2 693.6h.7M111.6 690.8h.7M121.2 698.2h.7M109.7 694.6h.7M96.2 700.5h.7M131.7 692.9h.7M119.9 694.8h.7M101.4 700.8h.7M99.4 696.7h.7M111.8 697.4h.7M112.9 695.7h.7M103.3 692.8h.7M110.0 693.1h.7M98.8 693.8h.7M105.5 690.7h.7M98.5 692.8h.7M111.0 696.2h.7M126.0 687.7h.7M103.9 699.1h.7M107.7 694.7h.7M123.5 691.5h.7M100.0 693.4h.7M112.3 695.6h.7M98.3 694.7h.7M113.9 696.1h.7M104.2 698.2h.7M114.2 689.2h.7M106.9 697.0h.7M104.8 690.0h.7M107.2 697.9h.7M122.5 686.4h.7M130.9 687.7h.7M117.3 697.3h.7M117.6 694.1h.7M100.0 699.0h.7M103.6 689.2h.7M132.7 692.7h.7M124.4 689.7h.7M121.5 697.5h.7M122.2 692.7h.7M99.6 696.8h.7M91.4 694.0h.7M110.3 692.3h.7M108.2 695.3h.7M125.3 695.9h.7M109.1 698.9h.7M103.1 695.6h.7M117.0 690.2h.7M107.2 691.9h.7M110.5 699.8h.7M103.3 697.2h.7M102.1 693.4h.7M99.4 701.5h.7M128.9 692.8h.7M103.6 698.5h.7M106.8 698.2h.7M111.9 695.6h.7M114.5 692.6h.7M106.2 691.0h.7M105.9 691.9h.7M108.3 692.8h.7M110.3 696.4h.7M97.9 695.3h.7M101.8 699.0h.7M123.5 695.0h.7M106.6 700.1h.7M97.1 702.1h.7M104.1 688.3h.7M131.2 695.5h.7M101.0 697.5h.7M107.7 695.9h.7M97.3 695.8h.7M113.3 695.2h.7M119.3 693.6h.7M128.8 689.4h.7M111.6 689.3h.7M99.2 701.2h.7M101.8 698.4h.7M109.0 692.4h.7M106.6 694.4h.7M105.5 698.3h.7M114.8 692.6h.7M102.1 697.6h.7M108.7 698.4h.7M131.3 693.4h.7M109.2 694.9h.7M102.5 694.1h.7M101.3 695.8h.7M106.0 698.2h.7M106.2 695.4h.7M99.5 702.1h.7M113.7 699.7h.7M116.0 698.3h.7M107.5 697.8h.7M131.7 687.3h.7M119.1 698.3h.7M113.0 696.8h.7M120.0 691.3h.7M112.9 692.0h.7M103.8 694.6h.7M108.3 696.0h.7M113.3 690.3h.7M126.1 695.4h.7M115.6 693.0h.7M108.8 697.1h.7M113.0 689.6h.7M115.7 702.7h.7M94.0 701.4h.7M112.6 694.3h.7M121.0 689.5h.7M110.9 699.4h.7M107.8 694.4h.7M110.5 693.8h.7M122.5 690.0h.7M116.9 690.1h.7M115.1 693.9h.7M87.7 699.6h.7M100.5 695.8h.7M122.5 689.4h.7M100.6 701.4h.7M110.5 699.7h.7M112.2 692.1h.7M108.9 699.1h.7M117.4 693.7h.7M109.9 694.9h.7M104.6 702.0h.7M109.6 691.9h.7M105.5 698.3h.7M114.9 693.8h.7M103.9 696.5h.7M95.4 694.2h.7M116.2 692.5h.7M112.7 698.3h.7M115.0 694.3h.7M127.4 693.7h.7M106.5 698.1h.7M112.9 692.1h.7M110.1 694.7h.7M92.9 698.1h.7M107.1 694.5h.7M95.6 697.0h.7M109.2 695.7h.7M99.9 699.1h.7M99.3 696.7h.7M120.5 691.0h.7M105.2 699.4h.7M106.3 695.1h.7M111.4 698.1h.7M90.9 696.5h.7M101.0 693.8h.7M102.3 694.2h.7M112.0 692.1h.7M110.5 696.3h.7M103.4 696.9h.7M123.3 693.5h.7M104.1 696.2h.7M101.8 697.6h.7M116.7 691.4h.7M107.7 698.9h.7M105.3 696.7h.7M100.9 694.6h.7M105.2 702.5h.7M106.1 694.4h.7M104.9 695.7h.7M114.9 694.8h.7M126.4 692.5h.7M121.4 693.7h.7M114.5 690.1h.7M108.5 695.3h.7M107.5 689.5h.7M116.7 692.7h.7M105.9 695.3h.7M107.6 696.9h.7M99.1 694.7h.7M111.9 695.2h.7M106.4 694.3h.7M102.7 696.5h.7M119.2 690.3h.7M122.0 695.2h.7M105.8 698.3h.7M97.5 692.7h.7M98.9 696.2h.7M106.8 694.3h.7M110.3 688.9h.7M113.6 690.4h.7M104.1 695.2h.7M100.0 693.2h.7M101.3 696.9h.7M114.3 696.0h.7M101.3 694.6h.7M102.0 698.1h.7M92.8 702.2h.7M105.5 693.8h.7M112.3 697.7h.7M112.3 697.8h.7M110.6 698.6h.7M119.7 693.0h.7M121.3 693.4h.7M110.2 692.5h.7M107.1 698.0h.7M98.7 699.3h.7M112.4 695.5h.7M91.4 698.6h.7M114.8 692.0h.7M110.2 688.3h.7M115.0 692.3h.7M116.6 688.5h.7M115.2 693.5h.7M116.1 691.3h.7M104.4 702.8h.7M102.7 694.6h.7M107.2 692.8h.7M119.3 698.4h.7M103.7 691.4h.7M119.1 696.6h.7M116.2 697.3h.7M102.4 696.2h.7M98.2 693.5h.7M117.5 691.7h.7M128.2 691.8h.7M104.2 698.7h.7M124.3 693.8h.7M99.5 698.4h.7M120.8 691.6h.7M103.2 699.5h.7M110.6 691.9h.7M106.4 693.7h.7M111.9 695.1h.7M118.9 695.5h.7M96.7 699.0h.7M116.9 695.2h.7M117.9 692.0h.7M101.7 699.6h.7M100.8 690.8h.7M117.9 691.5h.7M107.0 691.7h.7M98.6 694.1h.7M106.5 697.0h.7M90.7 701.2h.7M99.8 694.1h.7M115.1 694.0h.7M96.9 703.2h.7M102.4 697.4h.7M111.1 699.1h.7M105.8 699.0h.7M103.4 699.8h.7M103.2 695.5h.7M125.0 693.1h.7M110.4 701.6h.7M112.5 692.3h.7M115.5 690.7h.7M118.8 696.9h.7M104.8 694.4h.7M110.9 695.1h.7M101.5 698.6h.7M92.8 697.4h.7M106.2 695.2h.7M112.0 691.2h.7M114.3 693.8h.7M104.2 692.4h.7M99.8 698.3h.7M101.6 697.1h.7M118.2 696.6h.7M122.3 691.9h.7M100.6 700.0h.7M112.0 698.1h.7M109.6 698.7h.7M116.4 696.0h.7M113.6 695.6h.7M111.4 695.6h.7M117.6 692.2h.7M123.7 692.1h.7M117.6 693.4h.7M107.5 701.6h.7M107.0 692.1h.7M103.6 695.6h.7M127.2 692.4h.7M117.2 690.9h.7M112.4 696.7h.7M124.3 690.3h.7M114.4 695.2h.7M101.1 696.9h.7M107.3 689.0h.7M114.4 695.9h.7M105.9 692.1h.7M121.6 693.6h.7M117.8 697.7h.7M105.2 698.5h.7M107.5 695.5h.7M108.8 695.4h.7M118.6 693.8h.7M108.2 694.8h.7M112.3 692.1h.7M105.4 696.0h.7M104.9 695.9h.7M104.5 702.1h.7M120.4 694.4h.7M109.1 701.7h.7M112.1 694.5h.7M112.0 695.7h.7M121.1 692.9h.7M126.7 689.3h.7M115.2 691.3h.7M124.4 691.4h.7M109.0 698.1h.7M119.8 690.0h.7M106.7 691.8h.7M110.6 694.8h.7M106.6 693.9h.7M106.3 693.8h.7M113.8 698.8h.7M93.7 698.1h.7M106.1 697.4h.7M101.7 696.4h.7M101.0 699.0h.7M110.3 694.7h.7M112.5 694.0h.7M96.8 699.6h.7M111.9 694.4h.7M117.6 697.2h.7M100.5 694.8h.7M122.2 696.9h.7M103.4 693.1h.7M104.3 694.9h.7M96.5 698.0h.7M99.0 693.9h.7M117.0 691.8h.7M108.9 697.2h.7M116.2 693.0h.7M109.9 692.8h.7M123.8 694.3h.7M100.5 697.1h.7M115.4 695.5h.7M124.5 696.3h.7M105.1 695.9h.7M99.0 698.1h.7M110.7 702.9h.7M110.3 689.1h.7M104.0 696.7h.7M99.2 694.8h.7M106.5 696.9h.7M108.1 693.0h.7M116.0 692.4h.7M105.4 692.1h.7M103.1 698.5h.7M96.2 697.7h.7M115.4 693.0h.7M111.5 691.7h.7M120.2 696.3h.7M111.4 689.8h.7M100.9 699.8h.7M123.5 693.4h.7M119.7 691.5h.7M107.9 695.6h.7M113.0 690.2h.7M117.2 697.6h.7M100.1 693.3h.7M112.4 692.8h.7M90.1 701.5h.7M110.8 693.7h.7M126.8 692.2h.7M103.3 696.8h.7M101.0 694.8h.7M112.7 693.1h.7M105.8 700.9h.7M116.5 696.2h.7M113.8 695.8h.7M121.4 692.9h.7M124.7 689.5h.7M107.4 691.7h.7M106.7 697.4h.7M121.4 691.0h.7M109.5 694.2h.7M103.4 693.1h.7M110.0 690.2h.7M110.4 695.2h.7M104.1 693.4h.7M98.1 703.0h.7M98.5 702.0h.7M114.4 693.3h.7M100.0 700.2h.7M123.7 689.8h.7M107.1 698.8h.7M112.3 700.5h.7M104.8 697.8h.7M99.2 703.4h.7M103.5 690.1h.7M108.5 695.1h.7M125.2 691.2h.7M109.4 697.0h.7M122.5 692.5h.7M118.0 695.1h.7M107.1 696.0h.7M109.7 692.6h.7M119.5 689.3h.7M119.1 696.1h.7M108.7 693.2h.7M107.6 697.0h.7M115.6 694.9h.7M117.6 692.1h.7M111.4 690.4h.7M115.8 694.5h.7M106.1 699.4h.7M115.2 686.0h.7M109.8 691.0h.7M118.2 700.8h.7M105.2 696.4h.7M107.4 696.7h.7M114.8 698.0h.7M101.4 701.5h.7M101.9 697.6h.7M119.0 695.5h.7M101.8 694.8h.7M105.7 695.9h.7M118.9 689.7h.7M113.3 696.3h.7M114.1 695.7h.7M122.0 694.2h.7M116.5 695.5h.7M124.2 686.8h.7M120.0 692.4h.7M107.2 692.9h.7M94.2 697.3h.7M103.9 697.9h.7M97.4 701.9h.7M111.7 694.1h.7M103.7 694.2h.7M100.2 695.6h.7M109.5 694.8h.7M97.9 696.8h.7M102.2 697.2h.7M124.8 694.1h.7M106.9 691.1h.7M97.9 692.7h.7M115.5 691.9h.7M110.0 693.4h.7M110.2 699.2h.7M103.9 695.4h.7M102.9 699.2h.7M101.1 693.7h.7M98.1 693.5h.7M113.4 702.0h.7M101.3 699.7h.7M111.6 691.7h.7M107.2 695.1h.7M103.8 702.0h.7M93.9 699.5h.7M112.2 693.1h.7M110.7 697.6h.7M110.8 696.3h.7M115.2 688.3h.7M121.6 699.5h.7M117.5 696.6h.7M98.0 697.3h.7M102.8 694.9h.7M117.4 691.4h.7M108.4 690.0h.7M108.2 695.8h.7M103.7 694.4h.7M125.0 688.7h.7M100.9 694.7h.7M119.3 699.4h.7M112.2 692.7h.7M106.0 699.1h.7M102.0 701.0h.7M121.1 693.2h.7M114.8 696.4h.7M122.2 689.7h.7M119.2 692.3h.7M103.2 696.9h.7M107.7 692.8h.7M96.4 695.2h.7M121.4 698.6h.7M114.8 697.7h.7M105.3 695.9h.7M111.8 691.7h.7M101.4 697.2h.7M106.9 692.7h.7M112.7 693.9h.7M117.9 693.6h.7M107.0 696.2h.7M108.1 693.6h.7M106.2 698.1h.7M114.8 698.0h.7M95.6 696.9h.7M106.1 696.5h.7M105.8 694.6h.7M115.9 694.5h.7M99.9 701.1h.7M117.7 692.0h.7M116.3 691.8h.7M118.7 692.8h.7M102.9 695.5h.7M103.2 697.1h.7M110.9 695.1h.7M104.9 685.6h.7M110.3 689.6h.7M111.5 698.2h.7M111.7 693.7h.7M108.0 695.2h.7M105.0 694.5h.7M101.9 700.3h.7M109.4 698.1h.7M107.4 695.9h.7M108.1 696.9h.7M116.3 694.6h.7M104.0 694.1h.7M123.1 691.8h.7M107.1 700.0h.7M118.4 695.1h.7M106.2 702.8h.7M112.7 696.2h.7M108.1 691.5h.7M98.6 698.7h.7M112.7 694.0h.7M99.9 693.0h.7M106.8 691.6h.7M116.9 697.2h.7M132.7 693.2h.7M104.6 693.7h.7M108.0 698.4h.7M114.5 696.0h.7M111.3 696.9h.7M121.4 689.8h.7M105.8 692.0h.7M122.8 696.4h.7M115.7 690.6h.7M110.9 694.3h.7M110.2 694.6h.7M113.8 693.3h.7M116.5 694.6h.7M107.1 695.5h.7M105.9 698.4h.7M107.3 696.6h.7M106.3 691.6h.7M116.9 690.7h.7M115.1 695.4h.7M95.9 695.3h.7M105.3 693.8h.7M99.8 699.4h.7M107.5 696.8h.7M106.0 696.9h.7M103.3 696.5h.7M114.3 694.5h.7M105.8 692.9h.7M110.9 696.0h.7M107.4 693.5h.7M113.9 701.6h.7M107.0 696.8h.7M112.6 687.2h.7M110.5 693.0h.7M120.9 692.3h.7M103.1 695.9h.7M110.9 693.4h.7M109.1 691.5h.7M107.7 697.9h.7M125.6 694.1h.7M111.7 698.3h.7M117.9 698.5h.7M118.4 693.2h.7M111.6 695.4h.7M112.0 695.4h.7M103.1 690.5h.7M104.0 690.5h.7M110.1 695.2h.7M95.8 700.0h.7M116.6 694.2h.7M123.2 698.0h.7M99.6 700.3h.7M113.1 695.8h.7M117.2 691.7h.7M104.6 693.9h.7M103.3 696.3h.7M97.6 694.6h.7M114.2 694.1h.7M112.6 689.2h.7M103.1 695.0h.7M109.8 693.5h.7M117.2 693.6h.7M109.6 695.3h.7M115.3 692.8h.7M118.7 694.8h.7M110.8 695.2h.7M113.8 697.4h.7M117.3 694.8h.7M116.7 694.2h.7M119.8 693.2h.7M92.5 702.6h.7M110.4 691.7h.7M107.9 693.1h.7M126.7 693.3h.7M96.6 699.5h.7M106.2 701.5h.7M100.9 690.5h.7M110.0 694.2h.7M106.1 689.8h.7M113.0 699.5h.7M93.8 701.8h.7M104.8 703.0h.7M113.1 694.0h.7M118.6 695.0h.7M104.6 698.3h.7M105.3 691.0h.7M126.2 691.0h.7M104.5 697.3h.7M96.7 693.9h.7M105.4 694.6h.7M110.1 698.4h.7M105.6 697.5h.7M114.4 691.2h.7M111.4 692.2h.7M118.2 694.9h.7M109.6 691.4h.7M110.5 692.9h.7M115.3 693.8h.7M102.8 699.3h.7M115.4 692.4h.7M119.0 692.5h.7M107.0 696.2h.7M103.3 695.3h.7M108.2 700.0h.7M121.8 692.1h.7M122.7 692.5h.7M112.6 697.2h.7M111.9 701.8h.7M111.5 691.4h.7M120.2 692.0h.7M107.0 687.1h.7M117.7 696.0h.7M116.1 696.8h.7M123.4 692.4h.7M117.2 691.6h.7M106.6 698.9h.7M112.7 690.8h.7M112.5 694.2h.7M102.8 697.9h.7M106.2 691.4h.7M100.4 702.3h.7M97.1 698.4h.7M114.5 696.2h.7M99.5 696.4h.7M110.7 697.4h.7M104.2 693.0h.7M117.7 696.9h.7M112.5 692.9h.7M112.8 694.9h.7M116.4 690.3h.7M110.5 694.6h.7M100.4 697.7h.7M109.8 694.1h.7M112.7 690.5h.7M109.1 696.6h.7M111.8 698.0h.7M99.7 692.9h.7M111.5 696.2h.7M126.9 693.6h.7M102.3 699.1h.7M102.6 692.4h.7M130.9 692.0h.7M115.4 695.8h.7M124.4 693.2h.7M119.5 690.3h.7M98.1 701.7h.7M121.6 694.4h.7M111.4 695.4h.7M103.9 700.9h.7M114.9 695.7h.7M112.6 697.7h.7M113.6 696.6h.7M99.9 698.7h.7M127.4 690.2h.7M108.4 698.1h.7M117.3 695.5h.7M96.2 699.4h.7M99.8 694.8h.7M114.0 693.5h.7M116.1 703.1h.7M115.9 696.1h.7M102.2 694.9h.7M100.8 695.5h.7M100.5 695.2h.7M107.8 692.7h.7M97.9 693.7h.7M113.2 694.7h.7M117.9 696.6h.7M106.7 697.8h.7M97.7 704.3h.7M119.3 692.7h.7M100.0 698.3h.7M94.2 696.1h.7M115.6 694.3h.7M105.5 698.9h.7M101.0 697.8h.7M105.4 693.7h.7M113.3 691.7h.7M125.1 690.5h.7M125.8 688.9h.7M114.5 690.8h.7M98.5 698.0h.7M115.1 690.5h.7M119.2 691.0h.7M110.6 696.2h.7M114.4 689.1h.7M122.8 694.3h.7M106.0 693.0h.7M95.6 694.1h.7M114.0 693.4h.7M100.2 695.6h.7M122.3 691.8h.7M104.7 700.2h.7M113.3 694.7h.7M104.5 691.8h.7M99.9 695.8h.7M107.7 696.7h.7M114.0 695.0h.7M111.3 692.0h.7M91.8 697.3h.7M101.7 695.0h.7M107.2 692.1h.7M100.4 696.8h.7M110.4 693.2h.7M113.6 693.8h.7M101.1 697.1h.7M124.9 690.3h.7M119.1 697.4h.7M121.8 690.5h.7M126.0 692.3h.7M107.4 695.0h.7M114.4 694.5h.7M108.0 699.3h.7M103.6 693.5h.7M116.0 696.0h.7M118.5 690.4h.7M118.4 694.9h.7M124.0 688.8h.7M111.3 694.1h.7M96.5 695.8h.7M118.7 692.1h.7M103.6 699.0h.7M117.6 696.5h.7M103.0 696.4h.7M118.0 691.7h.7M103.4 698.9h.7M122.3 689.4h.7M88.2 695.4h.7M101.2 696.6h.7M114.5 693.9h.7M103.8 696.9h.7M101.6 696.7h.7M104.2 704.1h.7M116.2 691.5h.7M101.3 695.7h.7M96.0 695.9h.7M103.4 699.1h.7M106.0 693.7h.7M98.5 694.1h.7M109.0 694.8h.7M118.8 691.6h.7M118.2 694.3h.7M109.5 689.5h.7M98.9 699.6h.7M121.0 693.6h.7M115.8 692.9h.7M106.5 694.0h.7M117.5 694.7h.7M107.6 694.7h.7M114.1 695.3h.7M102.7 701.6h.7M111.6 694.9h.7M121.6 695.8h.7M108.8 697.0h.7M100.7 695.2h.7M91.0 702.5h.7M93.9 700.4h.7M102.7 693.8h.7M107.9 696.4h.7M114.5 699.4h.7M112.4 697.3h.7M104.6 698.4h.7M110.8 693.7h.7M108.7 695.3h.7M111.1 696.2h.7M105.3 694.0h.7M115.6 689.2h.7M104.4 700.8h.7M87.3 697.7h.7M115.1 689.4h.7M130.8 683.5h.7M121.3 697.5h.7M117.0 693.2h.7M112.4 692.1h.7M116.1 690.7h.7M107.3 698.6h.7M100.4 696.1h.7M110.8 691.1h.7M119.0 694.4h.7M97.1 697.6h.7M103.1 694.7h.7M110.1 693.1h.7M117.4 691.7h.7M117.6 693.6h.7M116.5 692.3h.7M105.4 692.8h.7M114.2 697.1h.7M126.9 695.6h.7M111.5 694.3h.7M112.7 694.6h.7M121.5 695.6h.7M102.6 694.7h.7M120.7 694.0h.7M107.6 699.1h.7M106.3 695.1h.7M105.7 690.4h.7M116.6 690.4h.7M104.8 694.1h.7M115.5 693.9h.7M109.6 690.4h.7M108.8 691.2h.7M112.0 695.9h.7M109.4 701.3h.7M113.8 696.2h.7M110.7 694.5h.7M117.4 696.9h.7M98.8 700.5h.7M113.7 697.2h.7M113.3 690.9h.7M99.9 702.5h.7M111.6 690.8h.7M112.4 693.7h.7M94.4 691.7h.7M96.4 698.7h.7M109.1 694.7h.7M111.8 696.6h.7M92.3 697.9h.7M102.7 693.1h.7M105.0 695.8h.7M107.3 691.5h.7M105.5 701.9h.7M100.9 692.1h.7M111.8 696.6h.7M113.3 691.3h.7M117.7 691.4h.7M100.2 695.4h.7M108.6 697.5h.7M114.6 694.2h.7M117.1 694.0h.7M116.8 689.8h.7M96.6 700.1h.7M98.1 696.7h.7M108.7 694.0h.7M105.8 700.1h.7M88.8 702.0h.7M128.3 691.6h.7M109.3 697.4h.7M124.5 688.9h.7M110.2 694.6h.7M114.1 694.8h.7M114.9 693.0h.7M109.9 693.3h.7M104.1 696.0h.7M108.3 692.1h.7M122.4 692.3h.7M98.2 700.8h.7M103.4 698.0h.7M109.4 696.1h.7M110.9 693.4h.7M109.8 701.1h.7M91.2 699.2h.7M113.1 691.5h.7M98.3 703.8h.7M106.5 701.9h.7M113.9 694.6h.7M113.4 696.4h.7M119.2 694.6h.7M110.7 695.6h.7M120.6 695.5h.7M101.3 695.1h.7M112.2 693.0h.7M106.4 693.1h.7M107.4 697.0h.7M117.7 693.7h.7M126.5 691.7h.7M135.7 693.0h.7M113.6 693.0h.7M86.3 699.5h.7M111.0 700.6h.7M98.2 703.1h.7M107.4 697.8h.7M88.7 699.9h.7M106.7 697.8h.7M110.2 691.8h.7M117.3 695.8h.7M114.4 697.2h.7M118.5 693.4h.7M98.4 693.5h.7M120.6 695.1h.7M110.3 693.9h.7M109.8 695.3h.7M106.7 693.8h.7M127.2 692.4h.7M104.5 692.5h.7M103.5 698.6h.7M115.7 693.4h.7M109.9 694.3h.7M100.4 700.9h.7M112.6 701.9h.7M103.3 696.1h.7M116.7 693.1h.7M98.1 694.8h.7M110.3 696.1h.7M108.7 698.4h.7M117.6 694.6h.7M109.7 694.5h.7M114.0 697.1h.7M110.0 696.5h.7M106.8 691.7h.7M101.3 699.2h.7M113.2 699.2h.7M110.0 697.7h.7M120.3 696.0h.7M104.5 695.8h.7M110.6 692.2h.7M113.4 697.5h.7M105.6 701.8h.7M107.1 695.2h.7M107.5 693.6h.7M112.9 694.7h.7M123.1 694.3h.7M113.9 693.8h.7M97.9 697.4h.7M102.5 699.5h.7M109.3 700.2h.7M115.5 696.5h.7M111.4 695.5h.7M114.9 696.9h.7M103.7 697.9h.7M131.0 690.7h.7M107.4 693.7h.7M97.6 701.1h.7M110.0 696.1h.7M124.6 699.6h.7M102.2 699.8h.7M114.6 695.4h.7M113.4 694.5h.7M122.5 694.5h.7M112.3 698.4h.7M116.9 695.2h.7M112.2 699.9h.7M113.7 694.2h.7M102.5 695.7h.7M100.9 697.3h.7M111.6 688.9h.7M109.7 697.2h.7M110.9 692.3h.7M119.9 691.2h.7M99.4 694.2h.7M109.4 698.2h.7M119.1 694.0h.7M99.7 695.4h.7M102.2 696.3h.7M95.0 698.5h.7M114.8 693.8h.7M113.3 691.8h.7M97.6 695.8h.7M119.0 696.4h.7M105.8 699.5h.7M106.8 700.2h.7M113.5 693.2h.7M116.0 691.7h.7M101.8 692.6h.7M111.6 694.7h.7M108.9 694.2h.7M121.3 691.7h.7M103.6 700.1h.7M121.2 694.0h.7M95.2 696.4h.7M114.5 694.3h.7M122.2 688.8h.7M115.1 692.4h.7M120.3 692.9h.7M118.0 691.7h.7M97.9 694.4h.7M104.5 693.3h.7M119.3 697.2h.7M111.7 691.9h.7M108.5 693.5h.7M121.4 693.8h.7M113.5 693.3h.7M93.0 696.4h.7M100.3 698.2h.7M110.3 692.8h.7M106.3 700.5h.7M101.6 694.2h.7M107.6 693.6h.7M106.0 697.5h.7M123.7 687.3h.7M109.4 695.5h.7M108.8 694.9h.7M106.7 698.8h.7M105.7 695.7h.7M109.5 695.6h.7M108.1 698.5h.7M109.4 695.8h.7M109.1 692.5h.7M102.7 693.6h.7M111.1 692.9h.7M100.8 697.7h.7M113.8 689.3h.7M123.4 692.6h.7M108.6 698.6h.7M110.1 693.4h.7M127.5 688.6h.7M108.7 697.9h.7M100.7 696.8h.7M112.7 701.6h.7M102.2 696.6h.7M114.9 694.5h.7M99.6 698.5h.7M110.4 696.4h.7M118.8 696.4h.7M112.8 695.5h.7M100.5 696.7h.7M111.3 693.8h.7M110.3 692.7h.7M122.1 699.0h.7M106.3 697.1h.7M107.6 699.3h.7M113.1 694.8h.7M107.7 696.0h.7M101.3 698.9h.7M103.6 698.0h.7M110.6 698.3h.7M109.4 698.3h.7M101.9 698.6h.7M107.7 696.2h.7M110.1 697.9h.7M92.9 699.5h.7M97.2 701.3h.7M93.3 695.6h.7M95.8 702.8h.7M98.9 697.7h.7M105.1 691.0h.7M106.7 697.8h.7M108.0 698.3h.7M106.5 695.9h.7M106.3 696.9h.7M125.1 693.2h.7M111.1 693.2h.7M103.3 700.8h.7M100.4 694.5h.7M108.7 694.2h.7M125.5 685.2h.7M112.5 696.8h.7M100.3 695.3h.7M113.0 699.3h.7M102.0 692.2h.7M117.5 698.1h.7M106.8 689.4h.7M121.4 692.3h.7M118.7 693.3h.7M106.4 694.6h.7M121.6 697.0h.7M92.0 696.1h.7M124.1 691.3h.7M98.3 697.5h.7M108.6 695.2h.7M105.6 695.2h.7M105.8 697.0h.7M102.8 695.8h.7M108.3 699.3h.7M112.6 694.4h.7M113.9 695.6h.7M118.4 695.0h.7M124.2 696.3h.7M109.2 694.2h.7M116.7 695.4h.7M108.7 691.2h.7M94.5 699.3h.7M115.8 696.4h.7M98.9 700.4h.7M105.1 697.3h.7M112.9 692.3h.7M104.7 690.3h.7M102.0 691.6h.7M113.1 694.8h.7M117.0 694.8h.7M104.3 697.3h.7M106.3 697.7h.7M112.1 691.9h.7M109.5 695.5h.7M107.0 698.4h.7M123.5 691.4h.7M106.6 689.4h.7M108.4 694.2h.7M91.8 699.7h.7M114.3 692.2h.7M106.4 693.1h.7M115.8 689.6h.7M106.9 701.5h.7M109.9 696.6h.7M108.3 692.1h.7M109.2 696.5h.7M101.1 698.0h.7M119.7 696.4h.7M96.5 695.1h.7M96.3 701.1h.7M114.5 696.3h.7M102.3 693.4h.7M110.1 695.5h.7M102.5 697.1h.7M114.8 694.9h.7M101.0 690.9h.7M107.4 696.2h.7M107.4 694.5h.7M103.8 698.5h.7M109.1 695.7h.7M101.5 695.1h.7M110.8 692.1h.7M99.2 696.4h.7M119.3 693.9h.7M121.5 692.5h.7M107.0 691.8h.7M104.8 700.4h.7M112.2 696.9h.7M115.3 694.1h.7M107.8 696.0h.7M115.0 695.5h.7M113.5 694.9h.7M103.2 695.8h.7M101.8 699.8h.7M92.3 698.1h.7M129.1 690.4h.7M100.2 697.1h.7M120.1 692.7h.7M114.5 694.6h.7M106.4 705.0h.7M110.1 693.6h.7M105.5 697.2h.7M112.9 696.9h.7M110.7 690.9h.7M113.9 693.5h.7M107.2 691.5h.7M104.8 694.1h.7M109.2 691.1h.7M109.9 695.6h.7M100.3 695.3h.7M102.5 699.3h.7M88.8 698.5h.7M95.9 696.8h.7M116.4 692.1h.7M110.6 692.6h.7M125.4 694.8h.7M118.7 689.6h.7M100.5 700.2h.7M107.9 694.9h.7M112.2 691.1h.7M115.8 694.1h.7M113.4 692.6h.7M113.7 692.4h.7M117.3 697.0h.7M117.0 695.3h.7M114.7 686.4h.7M116.3 693.1h.7M110.3 694.3h.7M98.1 696.0h.7M114.9 698.3h.7M104.4 693.7h.7M121.4 690.4h.7M126.5 692.0h.7M102.3 699.6h.7M123.4 688.4h.7M122.3 691.9h.7M121.7 691.8h.7M96.6 699.3h.7M117.1 699.9h.7M123.6 694.5h.7M107.6 694.2h.7M107.1 693.4h.7M107.2 688.4h.7M111.0 694.9h.7M130.5 693.3h.7M105.6 697.7h.7M99.4 695.6h.7M94.2 702.5h.7M114.4 690.9h.7M109.0 698.2h.7M113.6 695.6h.7M102.5 694.9h.7M110.3 697.8h.7M102.7 693.4h.7M118.9 690.7h.7M118.3 694.2h.7M116.7 698.9h.7M115.1 696.4h.7M102.0 694.8h.7M114.8 698.7h.7M120.9 699.7h.7M112.0 695.4h.7M117.8 693.7h.7M109.0 692.4h.7M117.6 690.6h.7M113.7 690.3h.7M118.5 690.5h.7M116.4 689.3h.7M105.9 699.4h.7M102.9 696.8h.7M105.6 689.4h.7M112.0 696.0h.7M100.4 698.8h.7M103.0 693.7h.7M109.6 693.3h.7M128.3 687.0h.7M115.6 697.0h.7M93.3 693.5h.7M114.1 693.0h.7M112.6 698.0h.7M106.4 692.8h.7M87.1 700.4h.7M101.9 697.7h.7M111.4 690.9h.7M123.6 695.6h.7M116.5 690.5h.7M106.2 694.4h.7M106.1 692.7h.7M113.1 695.3h.7M112.5 693.2h.7M120.1 693.7h.7M87.0 697.9h.7M109.0 698.2h.7M107.0 695.1h.7M104.1 698.3h.7M105.8 694.3h.7M103.4 698.1h.7M105.1 691.3h.7M114.6 692.2h.7M112.4 695.8h.7M119.4 696.4h.7M104.8 695.8h.7M98.9 702.3h.7M113.1 698.6h.7M106.9 689.9h.7M122.1 693.1h.7M110.6 695.2h.7M114.8 695.8h.7M96.5 701.1h.7M105.2 694.8h.7M123.7 695.1h.7M106.7 690.5h.7M110.8 696.6h.7M108.8 691.8h.7M103.0 693.0h.7M111.3 697.3h.7M117.9 691.5h.7M111.4 696.5h.7M105.3 695.7h.7M126.9 692.4h.7M116.7 692.6h.7M109.8 690.3h.7M109.3 698.8h.7M126.7 695.3h.7M115.1 694.3h.7M104.6 695.8h.7M114.5 692.0h.7M117.2 690.9h.7M94.9 695.3h.7M95.8 694.1h.7M118.8 692.9h.7M111.3 698.3h.7M119.8 691.8h.7M120.4 694.2h.7M109.5 696.6h.7M97.8 695.4h.7M108.6 697.2h.7M106.4 695.5h.7M117.4 697.8h.7M115.8 697.7h.7M106.2 695.1h.7M112.1 693.9h.7M105.3 700.9h.7M107.9 692.8h.7M113.5 699.8h.7M110.2 698.7h.7M105.9 694.6h.7M103.8 696.0h.7M124.6 688.9h.7M122.9 689.7h.7M107.6 698.1h.7M114.7 695.1h.7M96.0 699.1h.7M101.1 704.4h.7M107.7 696.2h.7M100.1 695.8h.7M98.9 700.3h.7M107.4 697.4h.7M103.9 695.0h.7M120.1 690.4h.7M94.7 699.4h.7M100.1 695.9h.7M117.0 691.4h.7M116.7 691.9h.7M121.7 696.7h.7M105.6 695.5h.7M102.7 697.2h.7M118.9 689.2h.7M117.0 690.0h.7M102.5 691.5h.7M126.8 692.0h.7M111.5 692.9h.7M118.2 687.5h.7M109.7 701.7h.7M106.4 696.0h.7M115.0 691.8h.7M109.7 698.0h.7M111.1 696.1h.7M106.6 696.8h.7M110.0 699.4h.7M115.4 693.4h.7M89.4 701.4h.7M115.7 691.4h.7M93.1 695.3h.7M117.1 690.7h.7M105.7 696.7h.7M119.5 693.2h.7M108.7 693.9h.7M122.9 695.7h.7M108.7 691.4h.7M103.0 698.3h.7M103.6 699.1h.7M112.5 695.6h.7M114.9 695.7h.7M102.5 695.8h.7M128.7 688.0h.7M105.6 699.2h.7M108.2 693.2h.7M98.6 699.0h.7M117.9 697.7h.7M109.9 698.2h.7M101.0 697.5h.7M103.9 696.9h.7M115.7 697.2h.7M101.4 700.6h.7M105.6 693.1h.7M108.1 691.3h.7M109.5 696.1h.7M107.9 697.2h.7M106.9 695.8h.7M97.7 697.8h.7M102.5 695.4h.7M108.7 696.0h.7M96.0 693.5h.7M107.0 697.2h.7M112.5 697.3h.7M120.2 694.6h.7M109.3 692.3h.7M101.7 695.5h.7M111.7 695.5h.7M109.5 694.9h.7M114.7 694.9h.7M111.9 695.7h.7M105.0 693.2h.7M113.5 695.7h.7M107.7 694.5h.7M128.2 689.4h.7M107.7 696.4h.7M100.0 697.5h.7M124.2 695.1h.7M114.7 696.0h.7M110.4 697.9h.7M108.2 694.3h.7M110.3 697.8h.7M112.2 696.7h.7M92.9 702.1h.7M128.7 695.3h.7M106.9 693.4h.7M111.8 692.0h.7M115.5 692.6h.7M117.4 697.7h.7M92.8 699.5h.7M103.8 692.4h.7M104.4 695.7h.7M118.0 689.2h.7M118.1 699.4h.7M114.4 695.9h.7M109.4 691.9h.7M113.9 695.5h.7M115.5 701.5h.7M115.5 695.3h.7M122.3 688.8h.7M100.1 696.1h.7M104.1 698.4h.7M106.9 700.9h.7M122.0 695.0h.7M106.3 697.7h.7M116.2 690.9h.7M112.4 696.8h.7M111.3 699.5h.7M119.5 690.9h.7M110.5 692.7h.7M114.3 691.8h.7M117.1 694.9h.7M117.5 693.3h.7M97.6 702.8h.7M108.1 699.6h.7M113.0 696.5h.7M124.5 693.3h.7M121.0 688.7h.7M116.6 693.2h.7M108.4 695.5h.7M112.3 699.5h.7M94.3 698.5h.7M103.6 699.9h.7M106.0 697.3h.7M106.2 697.9h.7M117.8 692.5h.7M109.9 691.1h.7M112.0 697.3h.7M104.9 699.5h.7M92.5 693.3h.7M98.1 696.2h.7M109.7 695.0h.7M108.9 697.5h.7M105.6 692.4h.7M99.3 703.5h.7M90.2 698.6h.7M121.5 694.3h.7M102.7 696.7h.7M116.6 697.4h.7M102.1 699.0h.7M111.6 698.1h.7M120.9 692.0h.7M97.6 698.8h.7M124.1 694.4h.7M111.4 701.9h.7M101.0 699.6h.7M104.8 696.4h.7M110.2 699.5h.7M101.8 695.3h.7M96.4 699.3h.7M105.7 697.3h.7M100.7 696.0h.7M118.0 693.1h.7M114.6 695.8h.7M106.6 691.4h.7M117.6 694.2h.7M117.6 687.9h.7M95.9 691.8h.7M102.3 699.8h.7M114.1 694.3h.7M110.6 697.3h.7M107.0 696.9h.7M110.6 688.7h.7M106.3 699.9h.7M106.3 695.5h.7M104.5 694.9h.7M118.7 692.7h.7M101.1 688.0h.7M104.8 690.5h.7M94.5 700.6h.7M115.3 688.6h.7M116.5 695.2h.7M103.1 698.7h.7M96.2 694.5h.7M97.7 694.4h.7M116.7 690.0h.7M100.1 694.4h.7M111.1 694.0h.7M116.6 691.8h.7M98.9 696.0h.7M109.8 692.5h.7M111.7 700.1h.7M104.7 696.4h.7M120.5 691.2h.7M102.5 693.5h.7M112.7 696.1h.7M108.2 695.6h.7M119.8 695.7h.7M97.9 697.5h.7M110.2 697.2h.7M107.5 693.8h.7M105.5 690.9h.7M109.1 693.6h.7M113.1 691.5h.7M105.7 693.1h.7M100.5 699.0h.7M105.4 697.3h.7M100.0 697.4h.7M95.4 696.6h.7M105.1 697.8h.7M110.7 694.4h.7M116.0 694.4h.7M113.6 696.6h.7M108.6 694.5h.7M111.8 693.5h.7M112.3 697.8h.7M116.1 692.7h.7M98.6 697.2h.7M108.1 698.7h.7M106.0 695.3h.7M115.1 692.7h.7M107.8 700.5h.7M121.3 694.6h.7M111.3 692.0h.7M113.7 694.5h.7M110.9 693.4h.7M109.0 694.7h.7M111.7 698.9h.7M112.1 689.8h.7M101.2 692.2h.7M102.6 698.2h.7M112.4 692.8h.7M111.3 692.6h.7M97.5 693.5h.7M102.1 700.8h.7M98.1 701.0h.7M120.0 692.5h.7M108.7 693.5h.7M108.9 697.2h.7M109.2 698.1h.7M118.8 694.3h.7M111.8 694.5h.7M111.9 691.4h.7M112.4 695.2h.7M102.0 702.9h.7M101.1 694.3h.7M111.4 689.2h.7M102.6 692.1h.7M101.2 696.4h.7M111.7 697.9h.7M115.7 697.3h.7M113.9 692.9h.7M118.2 692.0h.7M104.0 700.7h.7M115.5 694.6h.7M115.2 696.5h.7M97.9 697.2h.7M99.4 697.5h.7M103.6 700.3h.7M113.3 692.0h.7M108.9 691.8h.7M109.4 696.7h.7M111.2 689.2h.7M106.3 697.3h.7M111.5 698.1h.7M98.5 698.9h.7M103.7 696.9h.7M112.4 696.6h.7M104.3 696.7h.7M99.5 693.1h.7M113.6 694.2h.7M95.8 695.4h.7M109.2 699.7h.7M117.6 695.8h.7M94.4 697.9h.7M112.9 695.6h.7M112.4 693.9h.7M123.4 696.6h.7M108.3 692.5h.7M125.9 690.3h.7M118.8 698.8h.7M101.3 697.6h.7M106.2 697.3h.7M111.6 700.3h.7M113.9 694.2h.7M118.3 692.6h.7M106.0 702.3h.7M102.3 695.2h.7M109.4 692.1h.7M91.7 701.7h.7M102.6 694.9h.7M106.0 693.0h.7M100.2 697.5h.7M128.7 693.4h.7M115.1 689.6h.7M108.8 691.8h.7M115.3 693.3h.7M109.3 694.9h.7M104.2 691.8h.7M113.8 690.3h.7M99.3 696.3h.7M103.2 697.1h.7M117.3 694.3h.7M110.6 695.0h.7M116.1 688.5h.7M112.0 691.9h.7M98.9 697.3h.7M105.8 697.6h.7M118.0 686.7h.7M108.4 701.0h.7M116.1 698.0h.7M109.9 690.9h.7M99.8 699.1h.7M116.9 691.5h.7M106.8 696.4h.7M94.7 697.1h.7M122.3 698.9h.7M108.1 700.7h.7M104.7 693.7h.7M90.7 701.7h.7M106.0 702.6h.7M111.7 695.2h.7M94.2 702.5h.7M106.0 695.4h.7M90.9 701.5h.7M117.1 691.8h.7M109.8 696.2h.7M116.9 694.0h.7M123.2 691.7h.7M104.1 694.9h.7M88.2 697.1h.7M117.3 694.3h.7M102.3 697.6h.7M92.5 697.7h.7M113.4 696.4h.7M102.7 699.1h.7M124.4 690.9h.7M115.1 689.5h.7M93.0 700.2h.7M109.4 695.7h.7M104.3 695.3h.7M115.7 698.9h.7M107.3 690.8h.7M119.5 694.9h.7M114.7 694.6h.7M128.1 691.6h.7M113.3 689.0h.7M104.3 694.2h.7M108.8 696.3h.7M102.9 701.5h.7M100.3 695.7h.7M111.0 691.2h.7M113.8 696.1h.7M106.7 701.3h.7M109.8 695.9h.7M101.2 692.0h.7M103.9 695.3h.7M105.3 698.2h.7M89.5 695.9h.7M94.1 702.1h.7M104.4 694.7h.7M100.0 699.7h.7M105.7 696.6h.7M92.4 702.0h.7M112.3 696.2h.7M119.2 692.6h.7M107.7 697.6h.7M112.6 693.8h.7M109.5 693.7h.7M115.0 696.8h.7M109.1 700.7h.7M96.5 697.1h.7M123.2 691.2h.7M96.0 701.9h.7M113.6 690.9h.7M115.5 691.0h.7M98.1 697.0h.7M105.2 692.8h.7M106.1 692.9h.7M109.6 695.1h.7M115.2 692.7h.7M98.2 693.6h.7M107.1 700.1h.7M116.1 692.0h.7M116.9 690.3h.7M117.4 692.5h.7M115.4 695.8h.7M106.8 696.6h.7M100.3 696.8h.7M118.0 705.4h.7M114.9 694.3h.7M100.8 700.0h.7M95.5 695.6h.7M112.1 691.1h.7M121.8 695.9h.7M104.4 694.6h.7M98.3 693.3h.7M112.8 696.3h.7M112.0 695.4h.7M104.5 697.2h.7M97.0 697.7h.7M121.2 696.7h.7M105.3 695.0h.7M120.5 698.2h.7M96.8 696.5h.7M111.1 698.4h.7M102.2 698.5h.7M106.7 702.7h.7M112.7 694.1h.7M106.4 698.9h.7M114.7 691.0h.7M110.9 691.0h.7M102.9 692.7h.7M98.2 695.4h.7M101.1 698.4h.7M115.7 693.2h.7M99.9 699.4h.7M92.5 693.0h.7M115.1 696.0h.7M117.2 693.0h.7M98.7 695.8h.7M113.8 692.1h.7M103.4 692.3h.7M99.5 699.6h.7M112.9 691.1h.7M100.2 695.4h.7M113.6 690.9h.7M107.7 689.3h.7M98.8 698.5h.7M116.5 690.4h.7M102.8 698.8h.7M105.9 694.3h.7M113.4 695.0h.7M118.3 695.7h.7M104.4 695.8h.7M108.6 691.4h.7M101.1 699.7h.7M96.1 700.8h.7M111.5 694.4h.7M113.6 695.7h.7M119.1 692.1h.7M107.3 694.9h.7M124.6 694.9h.7M101.5 695.8h.7M103.3 696.4h.7M110.9 701.6h.7M94.1 701.2h.7M112.8 692.5h.7M107.9 694.1h.7M109.6 698.1h.7M96.7 701.6h.7M106.1 700.2h.7M112.6 698.2h.7M113.8 697.5h.7M109.7 692.7h.7M114.7 696.2h.7M126.5 686.0h.7M107.6 698.7h.7M98.9 696.7h.7M126.6 695.9h.7M102.0 700.9h.7M119.0 695.6h.7M112.4 695.3h.7M102.1 695.2h.7M115.3 694.5h.7M124.4 691.3h.7M89.5 698.2h.7M111.5 695.9h.7M109.8 692.8h.7M121.5 690.9h.7M115.1 693.3h.7M99.4 701.3h.7M88.7 696.9h.7M112.8 693.5h.7M115.4 693.7h.7M105.6 702.3h.7M107.5 695.2h.7M100.4 694.9h.7M114.6 695.8h.7M109.3 693.2h.7M115.0 689.2h.7M106.5 695.1h.7M102.4 697.1h.7M103.9 694.0h.7M124.1 694.5h.7M119.2 693.5h.7M117.3 696.0h.7M119.3 700.2h.7M107.5 696.4h.7M109.0 685.2h.7M98.0 697.6h.7M114.6 692.6h.7M118.7 697.2h.7M106.1 700.1h.7M123.8 693.8h.7M101.4 701.2h.7M108.1 694.5h.7M110.4 693.5h.7M118.3 695.8h.7M119.5 695.0h.7M103.0 696.1h.7M116.7 692.7h.7M133.4 689.8h.7M104.7 699.6h.7M115.6 694.0h.7M107.6 696.9h.7M116.4 696.1h.7M107.0 697.0h.7M116.4 696.1h.7M84.2 697.8h.7M103.1 695.9h.7M111.0 697.7h.7M114.6 693.9h.7M109.7 700.4h.7M104.5 697.2h.7M122.3 693.7h.7M92.7 699.7h.7M106.3 695.6h.7M118.1 694.9h.7M107.3 698.3h.7M113.1 694.9h.7M112.0 695.5h.7M106.7 694.5h.7M109.7 692.5h.7M99.2 701.1h.7M107.5 695.6h.7M108.4 695.6h.7M109.7 695.5h.7M102.9 699.3h.7M103.8 699.4h.7M93.8 695.4h.7M117.6 693.2h.7M104.0 697.5h.7M100.9 697.2h.7M91.3 697.6h.7M104.2 697.9h.7M116.7 691.4h.7M122.7 690.9h.7M92.6 691.8h.7M122.1 692.5h.7M104.2 694.2h.7M100.5 701.0h.7M108.8 700.6h.7M107.9 688.8h.7M116.4 692.8h.7M107.6 700.2h.7M107.3 699.1h.7M109.5 693.1h.7M113.7 692.7h.7M119.6 696.1h.7M110.0 697.0h.7M114.1 693.6h.7M116.8 693.2h.7M114.6 691.5h.7M110.3 696.3h.7M103.0 695.4h.7M105.1 698.3h.7M103.6 697.8h.7M122.0 693.8h.7M96.3 698.3h.7M118.1 692.8h.7M118.6 695.3h.7M113.0 693.9h.7M105.4 695.4h.7M110.1 696.7h.7M113.0 693.8h.7M110.1 696.3h.7M96.3 695.8h.7M103.0 696.0h.7M107.3 695.0h.7M102.4 698.7h.7M111.9 690.1h.7M109.7 692.0h.7M123.6 691.2h.7M106.4 696.2h.7M108.0 695.5h.7M122.3 693.4h.7M116.5 697.2h.7M101.6 701.8h.7M115.3 697.0h.7M102.6 699.1h.7M113.0 693.1h.7M128.4 693.2h.7M107.7 696.3h.7M117.1 697.1h.7M114.4 697.9h.7M121.7 689.3h.7M105.7 693.4h.7M110.5 699.4h.7M115.0 691.2h.7M107.3 698.8h.7M105.3 695.9h.7M112.2 689.5h.7M116.1 695.0h.7M114.3 691.6h.7M103.4 694.9h.7M111.7 695.1h.7M110.7 700.3h.7M120.4 691.1h.7M104.3 701.4h.7M107.1 699.8h.7M122.8 691.1h.7M107.5 696.0h.7M102.6 693.9h.7M106.4 698.5h.7M106.0 695.5h.7M105.8 692.1h.7M121.8 686.1h.7M104.3 698.0h.7M98.2 699.4h.7M119.9 690.8h.7M111.4 691.8h.7M113.8 694.7h.7M111.4 698.9h.7M113.5 698.5h.7M114.9 690.8h.7M111.8 696.3h.7M97.8 701.6h.7M110.2 696.3h.7M102.3 697.0h.7M112.1 693.9h.7M110.3 689.0h.7M120.8 689.9h.7M91.8 696.1h.7M102.8 698.3h.7M102.2 697.6h.7M101.8 703.3h.7M114.1 700.1h.7M101.3 698.9h.7M101.8 698.6h.7M115.2 689.6h.7M100.3 693.8h.7M97.3 695.7h.7M101.8 692.7h.7M110.4 696.7h.7M98.8 695.9h.7M109.7 694.6h.7M103.9 698.8h.7M116.6 695.9h.7M107.9 701.4h.7M123.9 691.3h.7M108.6 699.0h.7M103.0 697.8h.7M110.0 693.2h.7M107.7 691.1h.7M105.1 690.4h.7M128.3 695.9h.7M119.7 694.2h.7M117.8 697.4h.7M117.9 696.3h.7M102.1 698.0h.7M105.2 692.8h.7M100.2 698.4h.7M118.2 689.6h.7M123.9 696.7h.7M106.4 694.6h.7M108.9 698.3h.7M106.4 692.7h.7M112.3 688.7h.7M110.7 698.4h.7M112.0 697.1h.7M128.4 694.2h.7M124.6 688.6h.7M120.5 692.8h.7M136.8 695.9h.7M127.6 688.2h.7M115.0 693.7h.7M138.3 690.1h.7M122.4 689.4h.7M132.7 691.3h.7M122.4 693.1h.7M141.6 687.2h.7M141.6 693.1h.7M123.6 696.1h.7M121.6 689.4h.7M120.1 689.4h.7M128.6 691.2h.7M129.2 694.4h.7M88.7 702.4h.7M103.2 698.2h.7M113.3 695.4h.7M138.0 681.6h.7M125.1 691.6h.7M102.2 700.4h.7M123.4 690.3h.7M118.7 686.0h.7M112.8 693.5h.7M118.8 693.2h.7M111.5 697.7h.7M117.7 688.1h.7M114.0 693.1h.7M132.3 692.2h.7M119.3 693.5h.7M125.4 700.5h.7M116.2 696.2h.7M131.0 686.5h.7M125.1 692.7h.7M117.8 696.2h.7M134.3 694.4h.7M120.9 693.8h.7M148.9 681.4h.7M125.4 695.6h.7M124.7 694.8h.7M124.9 695.2h.7M137.1 688.0h.7M125.2 691.7h.7M118.6 693.5h.7M110.6 698.7h.7M141.7 695.0h.7M137.0 684.9h.7M139.7 685.3h.7M122.4 700.4h.7M111.2 699.0h.7M126.1 691.1h.7M113.4 696.7h.7M117.9 698.2h.7M136.5 683.3h.7M117.4 692.5h.7M110.0 691.1h.7M124.0 691.4h.7M104.8 694.8h.7M128.7 686.0h.7M112.8 701.7h.7M137.5 682.1h.7M108.1 697.8h.7M109.9 694.7h.7M118.0 696.1h.7M95.2 690.2h.7M109.5 700.1h.7M121.3 685.7h.7M128.4 694.1h.7M120.3 691.8h.7M127.8 696.4h.7M124.7 694.3h.7M122.5 691.0h.7M112.9 696.1h.7M119.7 692.3h.7M133.2 692.0h.7M132.6 683.5h.7M129.1 688.5h.7M114.1 691.1h.7M136.3 692.6h.7M115.1 689.7h.7M123.2 690.5h.7M141.3 681.8h.7M102.9 696.5h.7M123.1 693.0h.7M131.3 699.1h.7M119.2 691.2h.7M103.6 698.4h.7M132.4 689.1h.7M136.0 689.4h.7M139.7 689.7h.7M111.4 692.7h.7M106.1 689.4h.7M125.9 695.4h.7M144.5 686.9h.7M120.4 688.5h.7M133.9 691.4h.7M116.5 697.0h.7M129.2 683.1h.7M131.2 691.0h.7M118.7 691.8h.7M142.2 694.1h.7M143.1 682.7h.7M115.8 698.1h.7M109.7 692.8h.7M103.2 705.2h.7M134.7 691.5h.7M125.4 690.1h.7M118.6 696.2h.7M115.2 699.6h.7M117.6 690.2h.7M137.3 688.3h.7M129.1 689.2h.7M98.2 701.0h.7M108.2 700.7h.7M105.9 688.9h.7M126.4 693.4h.7M124.2 687.1h.7M132.8 683.9h.7M117.9 690.5h.7M118.8 697.1h.7M116.0 696.6h.7M130.6 683.4h.7M110.2 694.1h.7M116.5 695.4h.7M101.8 700.8h.7M131.2 689.7h.7M107.8 696.3h.7M117.1 696.4h.7M122.1 695.8h.7M118.2 699.8h.7M97.6 694.6h.7M128.4 684.8h.7M131.1 685.4h.7M124.0 688.4h.7M118.1 694.4h.7M121.8 691.2h.7M146.7 686.6h.7M112.3 699.1h.7M132.0 695.4h.7M142.7 683.6h.7M134.7 694.4h.7M123.0 693.5h.7M90.0 698.3h.7M142.7 680.1h.7M117.1 695.2h.7M129.3 697.8h.7M103.6 697.5h.7M132.5 684.6h.7M122.6 700.5h.7M137.5 691.1h.7M94.2 699.1h.7M127.3 690.1h.7M120.6 689.0h.7M125.7 690.5h.7M119.6 693.0h.7M131.5 691.4h.7M109.8 695.2h.7M128.2 689.2h.7M135.6 692.6h.7M112.1 696.6h.7M144.8 693.6h.7M122.4 696.4h.7M115.6 688.3h.7M129.1 692.0h.7M128.7 691.0h.7M126.6 689.4h.7M128.2 694.7h.7M122.4 696.1h.7M103.5 694.1h.7M138.9 695.9h.7M125.8 691.4h.7M109.1 697.5h.7M131.6 684.1h.7M129.1 693.0h.7M127.8 686.6h.7M129.0 684.7h.7M139.4 689.0h.7M110.2 701.3h.7M135.7 686.6h.7M147.2 682.2h.7M126.4 696.6h.7M98.0 703.0h.7M122.3 692.6h.7M111.2 696.9h.7M110.8 691.5h.7M118.1 688.6h.7M140.3 682.6h.7M114.7 693.2h.7M123.0 695.8h.7M132.0 689.0h.7M118.8 693.7h.7M132.0 693.2h.7M117.3 685.3h.7M146.6 690.6h.7M125.9 693.2h.7M117.3 689.7h.7M119.3 692.5h.7M116.1 688.1h.7M119.6 695.8h.7M117.6 694.0h.7M100.2 697.3h.7M121.7 687.7h.7M104.0 699.0h.7M114.1 696.8h.7M118.4 696.3h.7M119.3 687.1h.7M122.0 691.4h.7M130.2 688.8h.7M118.7 697.2h.7M135.8 692.5h.7M134.4 691.6h.7M131.5 694.1h.7M127.4 691.7h.7M124.6 702.2h.7M123.2 691.5h.7M119.0 693.4h.7M125.7 687.1h.7M101.2 699.2h.7M105.3 698.0h.7M124.5 697.0h.7M141.4 689.5h.7M116.9 689.1h.7M114.3 694.8h.7M100.2 698.5h.7M122.9 695.2h.7M119.3 693.8h.7M114.9 692.6h.7M103.5 697.9h.7M140.0 688.9h.7M127.0 687.4h.7M138.7 685.3h.7M131.8 690.7h.7M112.4 699.5h.7M123.2 693.2h.7M128.0 691.2h.7M118.8 695.5h.7M118.5 693.9h.7M115.7 688.1h.7M115.6 692.3h.7M123.2 697.4h.7M104.4 697.7h.7M98.7 694.2h.7M117.4 684.4h.7M102.6 698.3h.7M123.9 691.8h.7M114.2 703.8h.7M121.2 689.3h.7M141.5 690.5h.7M118.9 698.5h.7M124.7 694.8h.7M125.6 687.5h.7M133.7 690.5h.7M111.9 692.1h.7M133.5 688.3h.7M123.5 695.1h.7M124.4 685.7h.7M130.0 694.7h.7M132.5 696.9h.7M127.0 694.8h.7M140.5 686.9h.7M142.1 695.0h.7M131.6 698.1h.7M132.4 686.5h.7M135.5 690.7h.7M127.5 692.0h.7M138.0 691.1h.7M115.3 696.5h.7M131.0 687.4h.7M118.2 692.1h.7M116.3 695.6h.7M134.2 697.6h.7M136.1 693.5h.7M135.6 695.0h.7M118.9 696.4h.7M126.5 691.1h.7M118.0 691.6h.7M120.1 688.1h.7M128.7 691.0h.7M124.2 693.6h.7M131.0 688.0h.7M121.8 686.0h.7M98.6 690.5h.7M139.9 680.6h.7M128.2 697.4h.7M118.0 700.6h.7M143.3 691.4h.7M149.1 688.6h.7M115.0 696.7h.7M118.2 688.3h.7M117.1 693.9h.7M115.8 694.9h.7M120.5 691.4h.7M109.8 689.9h.7M114.9 695.8h.7M146.0 691.2h.7M143.2 689.5h.7M122.2 687.2h.7M123.2 683.5h.7M119.9 700.2h.7M126.8 696.4h.7M119.0 687.8h.7M117.9 692.2h.7M136.5 697.5h.7M115.1 693.1h.7M121.6 691.5h.7M109.6 696.3h.7M127.2 693.2h.7M110.0 695.4h.7M104.1 701.2h.7M112.1 694.2h.7M118.4 691.3h.7M111.7 688.0h.7M142.4 688.9h.7M126.2 700.6h.7M122.2 695.1h.7M123.6 697.5h.7M128.9 692.5h.7M120.5 694.4h.7M136.1 680.6h.7M121.9 691.1h.7M120.0 685.1h.7M131.4 687.0h.7M120.9 691.1h.7M105.0 695.3h.7M103.1 693.7h.7M119.9 693.4h.7M124.0 691.8h.7M146.9 688.5h.7M109.9 693.3h.7M116.1 693.6h.7M116.7 690.6h.7M141.5 688.2h.7M119.7 692.4h.7M121.0 699.0h.7M128.6 696.0h.7M89.1 702.5h.7M135.0 697.9h.7M123.7 685.3h.7M129.9 688.4h.7M103.7 694.9h.7M135.0 694.7h.7M131.3 686.2h.7M151.1 680.7h.7M122.5 686.7h.7M137.9 690.8h.7M133.2 690.5h.7M122.7 693.5h.7M102.7 701.9h.7M133.5 688.4h.7M123.3 693.9h.7M140.7 690.1h.7M123.9 690.3h.7M106.9 694.2h.7M124.3 691.3h.7M124.3 695.5h.7M128.3 692.5h.7M130.7 691.5h.7M123.2 694.6h.7M104.5 702.6h.7M109.3 699.6h.7M123.7 697.2h.7M123.9 688.5h.7M135.3 690.4h.7M124.8 692.6h.7M134.6 693.3h.7M126.1 685.4h.7M119.1 694.1h.7M143.3 689.3h.7M122.6 697.9h.7M122.4 692.8h.7M125.3 685.9h.7M134.1 691.7h.7M120.5 688.6h.7M125.9 697.9h.7M116.5 689.9h.7M128.2 684.7h.7M99.2 696.8h.7M116.0 693.3h.7M117.6 695.5h.7M121.2 690.7h.7M118.6 696.5h.7M134.2 693.7h.7M131.3 676.8h.7M112.6 694.0h.7M125.9 685.2h.7M139.3 689.9h.7M116.8 695.0h.7M119.8 690.3h.7M129.2 689.3h.7M108.1 693.8h.7M122.4 688.4h.7M137.5 684.5h.7M143.0 691.5h.7M113.3 695.7h.7M136.7 688.5h.7M110.6 696.3h.7M145.6 680.9h.7M129.8 691.1h.7M122.4 691.3h.7M120.2 697.8h.7M130.3 686.8h.7M140.9 682.9h.7M131.0 691.5h.7M136.9 690.8h.7M135.4 689.6h.7M134.5 691.4h.7M147.4 683.8h.7M136.9 691.3h.7M125.7 689.7h.7M128.7 685.2h.7M108.7 699.4h.7M106.7 702.9h.7M120.8 694.4h.7M124.6 694.2h.7M120.7 691.8h.7M122.4 697.4h.7M136.3 694.8h.7M127.8 690.8h.7M105.4 699.9h.7M133.1 688.6h.7M132.7 695.8h.7M124.9 696.8h.7M127.2 684.5h.7M118.6 692.2h.7M129.7 687.5h.7M119.0 689.8h.7M123.4 693.0h.7M134.6 693.3h.7M125.7 693.2h.7M125.0 692.8h.7M140.9 677.9h.7M121.9 694.4h.7M136.3 684.9h.7M127.7 695.3h.7M118.9 685.8h.7M119.9 688.6h.7M131.0 687.2h.7M143.4 688.3h.7M115.0 692.7h.7M111.8 697.3h.7M140.3 687.6h.7M134.0 686.1h.7M127.2 701.4h.7M108.4 701.7h.7M136.8 681.5h.7M108.1 692.5h.7M134.5 688.1h.7M122.0 696.0h.7M125.1 693.2h.7M120.3 698.2h.7M115.3 701.8h.7M120.1 690.2h.7M130.9 692.7h.7M102.0 699.0h.7M109.0 692.8h.7M132.5 686.8h.7M127.7 690.0h.7M145.1 686.9h.7M110.9 691.2h.7M113.8 695.6h.7M123.7 696.7h.7M125.6 692.7h.7M127.3 691.2h.7M127.0 695.1h.7M132.4 688.2h.7M104.3 694.1h.7M126.8 681.4h.7M118.5 695.8h.7M117.5 689.4h.7M143.0 693.6h.7M120.8 698.9h.7M138.0 684.3h.7M153.1 681.3h.7M120.8 688.7h.7M124.5 686.8h.7M123.6 697.1h.7M126.0 690.9h.7M140.6 684.6h.7M134.2 688.6h.7M126.0 692.1h.7M125.0 692.0h.7M115.0 692.3h.7M128.4 690.9h.7M110.7 692.8h.7M115.9 694.2h.7M125.5 692.5h.7M116.3 694.4h.7M108.4 684.2h.7M122.9 685.8h.7M113.0 690.1h.7M130.3 685.7h.7M126.4 689.7h.7M109.8 689.3h.7M128.4 692.9h.7M131.8 698.1h.7M126.3 693.0h.7M121.9 693.3h.7M119.4 689.7h.7M145.2 679.2h.7M126.0 693.7h.7M124.8 688.1h.7M121.1 691.1h.7M111.3 695.3h.7M118.6 691.3h.7M130.6 686.2h.7M127.9 688.7h.7M127.7 691.6h.7M125.7 687.7h.7M114.5 691.0h.7M124.9 695.2h.7M134.8 687.4h.7M123.9 685.5h.7M98.6 694.9h.7M115.6 687.8h.7M103.4 699.6h.7M114.1 687.6h.7M148.4 686.8h.7M119.4 696.2h.7M114.5 701.2h.7M105.9 691.2h.7M121.3 689.6h.7M138.2 681.9h.7M114.7 695.5h.7M128.9 695.1h.7M126.5 700.7h.7M117.5 694.5h.7M132.1 688.8h.7M119.4 691.3h.7M115.6 689.5h.7M116.5 687.5h.7M126.8 684.7h.7M145.2 693.9h.7M134.7 688.5h.7M116.1 699.2h.7M124.5 694.3h.7M114.6 698.9h.7M113.7 695.1h.7M103.5 694.4h.7M128.0 689.2h.7M117.6 697.0h.7M121.7 697.8h.7M96.0 701.4h.7M128.0 684.6h.7M108.2 699.7h.7M110.7 692.7h.7M129.0 689.4h.7M127.7 687.5h.7M125.7 696.1h.7M126.0 682.4h.7M129.6 690.9h.7M112.5 700.7h.7M103.3 705.0h.7M115.5 700.7h.7M121.9 687.0h.7M123.5 693.5h.7M128.3 695.4h.7M112.6 696.9h.7M130.5 689.3h.7M112.1 691.0h.7M130.6 693.7h.7M113.3 689.1h.7M136.0 682.5h.7M124.1 688.6h.7M103.2 697.7h.7M120.3 699.0h.7M147.3 685.4h.7M133.6 694.0h.7M116.7 690.2h.7M140.0 686.5h.7M122.1 691.3h.7M120.9 690.3h.7M130.6 695.6h.7M118.3 687.7h.7M122.9 686.1h.7M115.4 699.3h.7M147.8 687.6h.7M110.7 698.6h.7M97.8 695.7h.7M139.1 691.4h.7M107.3 689.2h.7M131.7 689.9h.7M115.9 695.8h.7M116.1 686.0h.7M131.2 687.5h.7M111.4 689.6h.7M125.1 688.4h.7M129.2 689.6h.7M134.2 687.8h.7M115.2 686.0h.7M110.4 698.4h.7M155.8 678.8h.7M111.0 696.7h.7M127.6 688.3h.7M123.3 685.5h.7M119.1 697.0h.7M140.3 687.2h.7M119.6 695.0h.7M134.5 691.4h.7M114.2 696.0h.7M133.0 686.8h.7M107.8 698.2h.7M126.4 695.5h.7M123.4 689.5h.7M117.6 689.3h.7M112.1 692.7h.7M117.1 698.4h.7M109.0 695.6h.7M116.0 700.3h.7M125.3 690.2h.7M131.4 690.5h.7M117.2 700.1h.7M130.2 697.7h.7M135.1 692.5h.7M123.9 687.5h.7M130.2 690.8h.7M129.9 690.6h.7M115.0 690.1h.7M130.2 695.9h.7M119.4 695.1h.7M137.6 685.2h.7M118.8 688.7h.7M135.4 690.3h.7M117.5 686.8h.7M120.6 697.1h.7M119.3 691.5h.7M129.6 685.5h.7M123.1 694.8h.7M114.0 691.1h.7M125.3 691.4h.7M120.0 694.0h.7M125.0 688.0h.7M115.3 696.1h.7M134.8 695.0h.7M113.3 699.3h.7M130.9 690.3h.7M127.9 694.6h.7M142.1 683.2h.7M129.2 690.2h.7M120.4 697.8h.7M131.6 686.0h.7M119.5 694.2h.7M107.2 699.9h.7M121.8 693.3h.7M126.3 699.1h.7M123.0 690.9h.7M141.6 685.6h.7M116.9 688.1h.7M134.4 690.6h.7M127.8 691.9h.7M121.2 689.6h.7M114.2 696.4h.7M124.0 698.9h.7M114.4 692.5h.7M111.6 701.0h.7M109.3 699.0h.7M138.3 688.0h.7M130.6 681.6h.7M118.5 686.6h.7M124.6 692.0h.7M114.3 698.5h.7M126.6 689.3h.7M117.1 687.8h.7M120.7 701.8h.7M115.0 696.1h.7M116.7 697.3h.7M127.5 690.3h.7M103.3 695.2h.7M135.8 688.2h.7M129.6 688.8h.7M102.4 699.3h.7M126.2 689.2h.7M118.7 694.7h.7M116.3 695.5h.7M120.5 683.2h.7M121.2 690.4h.7M113.6 696.4h.7M117.4 696.0h.7M134.6 690.1h.7M105.9 693.6h.7M132.7 688.9h.7M114.0 694.3h.7M128.2 692.2h.7M129.8 687.3h.7M119.8 692.2h.7M122.5 683.8h.7M120.2 687.5h.7M137.9 695.2h.7M141.1 691.3h.7M117.5 697.8h.7M120.6 695.6h.7M113.0 692.5h.7M127.8 698.6h.7M122.5 701.9h.7M152.8 679.7h.7M122.5 688.6h.7M121.3 690.6h.7M122.1 696.7h.7M133.0 691.0h.7M122.9 693.0h.7M124.2 694.5h.7M122.9 694.6h.7M108.6 699.3h.7M141.8 688.5h.7M107.5 701.9h.7M119.3 681.0h.7M120.5 695.6h.7M127.0 696.6h.7M129.6 691.3h.7M101.4 693.2h.7M124.8 694.8h.7M111.7 692.7h.7M128.0 683.3h.7M101.7 696.8h.7M125.6 689.8h.7M97.9 698.8h.7M108.4 698.8h.7M121.8 693.9h.7M129.8 688.5h.7M131.9 695.4h.7M127.2 696.9h.7M116.0 698.0h.7M125.8 687.6h.7M122.0 690.5h.7M116.9 694.3h.7M134.4 688.3h.7M124.2 686.0h.7M124.0 697.0h.7M131.7 692.3h.7M117.1 689.9h.7M121.9 687.2h.7M109.4 699.8h.7M112.9 702.5h.7M107.3 698.2h.7M110.1 696.4h.7M111.5 695.5h.7M121.2 691.0h.7M128.5 697.4h.7M116.4 697.8h.7M123.8 692.1h.7M146.8 677.5h.7M115.5 686.8h.7M119.5 692.4h.7M164.4 683.5h.7M142.4 693.0h.7M118.1 695.7h.7M141.1 688.7h.7M125.1 694.0h.7M106.5 693.2h.7M126.5 693.8h.7M112.9 693.6h.7M121.5 692.2h.7M130.4 691.0h.7M124.7 686.1h.7M111.4 696.7h.7M105.5 697.9h.7M115.6 690.9h.7M129.9 687.9h.7M113.5 692.0h.7M123.5 703.8h.7M99.7 698.2h.7M120.2 697.1h.7M118.8 683.2h.7M137.3 684.3h.7M122.1 686.9h.7M110.8 693.4h.7M132.1 693.6h.7M116.2 696.2h.7M118.7 694.0h.7M124.4 694.6h.7M116.0 693.6h.7M125.1 692.2h.7M114.0 701.8h.7M117.7 696.9h.7M124.9 697.0h.7M120.4 687.9h.7M124.1 701.5h.7M128.2 685.9h.7M117.6 699.3h.7M107.3 695.5h.7M119.5 702.3h.7M119.5 698.7h.7M115.3 691.0h.7M133.6 692.3h.7M103.8 699.8h.7M129.7 688.1h.7M125.1 693.0h.7M117.3 691.3h.7M115.3 693.2h.7M108.1 695.9h.7M106.3 696.8h.7M121.7 688.4h.7M132.0 698.2h.7M137.1 683.1h.7M136.5 689.9h.7M156.5 682.4h.7M156.8 700.1h.7M160.0 684.0h.7M152.8 684.0h.7M160.3 704.4h.7M150.5 687.7h.7M154.5 681.0h.7M159.2 692.6h.7M148.4 678.4h.7M163.9 690.5h.7M159.9 683.2h.7M154.5 691.8h.7M153.8 677.8h.7M156.8 695.8h.7M150.7 697.1h.7M161.0 680.0h.7M156.8 687.3h.7M160.6 693.6h.7M149.1 675.7h.7M162.9 688.7h.7M159.3 690.7h.7M165.9 676.9h.7M163.3 680.4h.7M161.1 699.6h.7M148.6 691.3h.7M155.1 685.1h.7M157.0 678.3h.7M151.1 693.5h.7M161.8 682.6h.7M163.3 690.9h.7M150.7 682.5h.7M158.2 679.2h.7M166.3 688.9h.7M159.1 678.5h.7M151.4 680.7h.7M158.4 685.3h.7M155.1 690.5h.7M158.1 700.9h.7M155.6 678.7h.7M156.7 700.7h.7M153.5 688.1h.7M154.7 691.3h.7M158.3 680.5h.7M155.4 696.0h.7M163.3 695.9h.7M161.9 684.7h.7M154.7 695.9h.7M149.9 687.2h.7M145.8 684.3h.7M152.6 677.0h.7M160.2 681.2h.7M154.6 685.4h.7M152.5 700.3h.7M153.9 689.4h.7M149.1 683.5h.7M154.9 685.0h.7M153.4 689.0h.7M166.0 686.5h.7M156.0 684.3h.7M171.8 702.0h.7M160.1 693.9h.7M152.6 686.4h.7M158.0 688.8h.7M151.8 680.8h.7M159.8 690.5h.7M144.4 688.5h.7M164.3 682.0h.7M158.2 674.9h.7M161.7 677.9h.7M149.4 684.9h.7M170.8 682.3h.7M149.4 691.8h.7M158.2 702.4h.7M149.4 673.7h.7M155.0 691.1h.7M158.9 697.3h.7M148.0 680.4h.7M156.0 695.1h.7M159.6 684.0h.7M150.8 695.5h.7M155.8 702.1h.7M149.7 682.9h.7M152.8 683.6h.7M151.7 682.9h.7M156.5 683.8h.7M160.7 687.0h.7M156.8 700.7h.7M158.7 689.1h.7M156.7 688.3h.7M160.2 680.7h.7M163.6 701.6h.7M163.6 683.4h.7M147.5 683.9h.7M157.7 695.0h.7M155.8 685.1h.7M165.8 681.8h.7M163.1 695.7h.7M149.0 690.2h.7M153.5 679.4h.7M145.9 673.9h.7M159.3 684.3h.7M158.4 678.4h.7M154.9 685.3h.7M147.7 673.1h.7M159.4 689.0h.7M151.3 686.8h.7M160.7 703.9h.7M151.6 693.2h.7M169.3 688.3h.7M165.5 664.9h.7M165.3 687.6h.7M145.8 694.6h.7M163.0 698.4h.7M163.9 687.5h.7M152.4 683.7h.7M156.6 691.3h.7M154.0 688.2h.7M162.0 690.6h.7M150.1 682.7h.7M149.1 677.5h.7M160.0 679.0h.7M150.7 685.4h.7M161.5 684.6h.7M154.7 695.9h.7M159.6 691.8h.7M162.4 678.8h.7M158.1 682.1h.7M150.6 680.1h.7M154.8 684.7h.7M158.0 668.3h.7M155.6 681.4h.7M155.3 675.7h.7M161.4 671.9h.7M168.9 653.6h.7M159.5 667.1h.7M171.3 676.2h.7M158.8 670.6h.7M172.1 672.0h.7M146.9 690.6h.7M146.2 689.0h.7M152.1 686.0h.7M154.0 670.1h.7M169.7 654.7h.7M160.5 669.5h.7M150.6 690.1h.7M162.9 669.2h.7M154.5 679.7h.7M174.8 663.9h.7M160.6 679.1h.7M145.4 688.4h.7M157.6 686.0h.7M141.3 694.6h.7M154.9 677.4h.7M147.8 671.2h.7M152.7 683.2h.7M168.1 679.5h.7M165.4 655.3h.7M162.3 663.2h.7M156.8 677.2h.7M153.0 688.5h.7M157.0 694.2h.7M154.2 681.3h.7M141.2 694.8h.7M150.0 697.5h.7M153.3 675.1h.7M147.9 689.2h.7M171.8 671.2h.7M161.9 675.1h.7M156.0 682.4h.7M164.8 660.0h.7M144.4 697.6h.7M150.3 680.6h.7M158.7 680.1h.7M175.1 648.0h.7M152.5 689.6h.7M157.4 678.2h.7M164.2 660.4h.7M152.7 692.9h.7M153.7 662.8h.7M160.2 678.8h.7M152.8 686.7h.7M153.1 677.0h.7M163.3 664.0h.7M158.7 681.3h.7M148.5 687.1h.7M154.8 677.1h.7M143.3 689.1h.7M165.6 665.5h.7M140.2 701.8h.7M174.6 663.1h.7M167.5 658.6h.7M164.1 669.4h.7M165.4 664.0h.7M157.2 677.1h.7M148.2 678.1h.7M165.9 670.2h.7M163.0 675.0h.7M148.6 691.0h.7M169.2 669.8h.7M149.5 695.5h.7M161.1 676.5h.7M152.2 688.6h.7M148.1 684.1h.7M170.5 661.1h.7M156.8 667.9h.7M150.4 688.0h.7M159.8 657.9h.7M169.9 669.0h.7M169.4 670.2h.7M165.1 676.7h.7M149.0 688.1h.7M162.3 671.7h.7M152.9 686.4h.7M162.0 665.9h.7M157.1 664.9h.7M153.6 691.1h.7M169.5 659.2h.7M175.0 663.5h.7M173.8 659.4h.7M169.6 657.0h.7M173.5 652.3h.7M164.7 652.4h.7M176.3 638.2h.7M164.8 661.5h.7M167.0 650.5h.7M162.2 660.9h.7M169.5 654.4h.7M171.2 662.8h.7M168.8 642.7h.7M174.2 649.3h.7M174.5 639.5h.7M184.1 640.2h.7M172.6 641.4h.7M177.6 645.8h.7M186.2 636.0h.7M161.0 661.9h.7M164.1 660.7h.7M162.5 659.0h.7M170.8 652.1h.7M168.0 650.1h.7M172.4 647.4h.7M174.5 647.4h.7M151.2 669.6h.7M186.5 639.9h.7M178.8 647.7h.7M168.5 646.6h.7M180.9 649.4h.7M178.5 647.8h.7M176.8 646.7h.7M175.7 648.0h.7M176.2 642.0h.7M166.9 659.1h.7M169.7 639.2h.7M174.2 636.0h.7M191.5 637.8h.7M179.5 640.6h.7M162.2 658.8h.7M173.2 645.7h.7M174.6 652.9h.7M178.8 639.1h.7M152.2 669.0h.7M166.7 658.6h.7M188.8 645.5h.7M175.8 654.2h.7M188.9 636.3h.7M175.7 652.8h.7M172.8 647.7h.7M165.9 656.8h.7M167.2 660.2h.7M170.0 661.5h.7M184.7 632.7h.7M183.5 638.6h.7M186.3 641.4h.7M172.8 654.5h.7M167.9 656.9h.7M176.9 646.1h.7M176.9 641.2h.7M178.6 638.5h.7M179.2 647.6h.7M180.0 641.0h.7M202.2 622.9h.7M174.8 644.6h.7M187.0 635.3h.7M182.8 636.3h.7M176.3 645.4h.7M182.2 640.6h.7M165.2 660.1h.7M162.1 654.9h.7M180.7 632.9h.7M180.7 641.4h.7M164.8 659.4h.7M179.5 641.4h.7M171.8 656.2h.7M180.7 643.4h.7M166.2 651.3h.7M167.9 659.1h.7M179.0 646.9h.7M186.8 636.6h.7M170.0 651.2h.7M191.7 622.2h.7M176.4 650.2h.7M174.2 662.8h.7M184.7 644.5h.7M165.2 660.6h.7M170.2 653.5h.7M175.6 645.7h.7M179.7 653.9h.7M183.5 642.5h.7M155.6 672.6h.7M183.9 639.8h.7M169.3 657.8h.7M166.2 661.4h.7M163.7 654.0h.7M174.0 641.7h.7M173.9 653.0h.7M161.5 666.4h.7M168.6 657.9h.7M175.9 645.7h.7M169.0 644.8h.7M167.4 651.6h.7M189.3 641.9h.7M161.0 666.1h.7M176.0 646.0h.7M178.3 650.6h.7M168.6 653.3h.7M175.5 643.1h.7M175.7 648.0h.7M167.6 651.0h.7M176.8 652.4h.7M177.1 642.4h.7M181.0 644.7h.7M179.5 651.6h.7M165.5 656.8h.7M168.4 650.1h.7M192.7 638.4h.7M157.4 667.3h.7M168.8 661.1h.7M174.8 648.3h.7M175.3 651.0h.7M174.3 648.5h.7M172.7 654.0h.7M163.4 659.5h.7M172.9 648.3h.7M180.9 636.6h.7M170.6 648.3h.7M179.1 642.8h.7M174.4 651.7h.7M159.1 666.0h.7M167.0 654.9h.7M172.9 655.5h.7M180.9 653.7h.7M175.6 645.8h.7M169.3 657.9h.7M189.0 638.4h.7M168.6 656.4h.7M176.4 648.0h.7M167.1 642.0h.7M129.0 689.8h.7M137.4 659.4h.7M135.1 662.7h.7M157.3 681.8h.7M121.5 687.5h.7M126.2 685.2h.7M135.2 669.0h.7M142.5 667.5h.7M150.0 680.6h.7M123.5 663.1h.7M153.1 693.6h.7M120.9 695.4h.7M136.9 677.9h.7M134.0 677.5h.7M151.0 681.4h.7M114.4 699.5h.7M144.9 669.8h.7M131.0 671.6h.7M135.5 683.7h.7M137.7 674.4h.7M126.0 687.9h.7M133.9 701.0h.7M126.0 687.4h.7M135.5 672.9h.7M150.3 681.2h.7M125.0 677.0h.7M146.4 668.6h.7M150.5 686.4h.7M131.9 692.7h.7M154.6 685.6h.7" stroke="#e2261c" stroke-width="0.8" stroke-opacity="0.5" fill="none"/>
<path d="M149.10 608.40V706.60M81.20 667.50H203.40" stroke="#8f8f8f" stroke-width="0.8" fill="none"/>
<text font-size="6.1" text-anchor="start" font-weight="bold" fill="#111" stroke="#111" stroke-width="0.2" transform="translate(82.00,615.40)" >B1</text>
<text font-size="6.1" text-anchor="start" font-weight="bold" fill="#111" stroke="#111" stroke-width="0.2" transform="translate(83.80,622.40)" >0.1%</text>
<text font-size="6.1" text-anchor="start" font-weight="bold" fill="#111" stroke="#111" stroke-width="0.2" transform="translate(149.90,615.40)" >B2</text>
<text font-size="6.1" text-anchor="start" font-weight="bold" fill="#111" stroke="#111" stroke-width="0.2" transform="translate(151.70,622.40)" >3.3%</text>
<text font-size="6.1" text-anchor="start" font-weight="bold" fill="#111" stroke="#111" stroke-width="0.2" transform="translate(82.00,674.50)" >B3</text>
<text font-size="6.1" text-anchor="start" font-weight="bold" fill="#111" stroke="#111" stroke-width="0.2" transform="translate(83.80,681.50)" >92.3%</text>
<text font-size="6.1" text-anchor="start" font-weight="bold" fill="#111" stroke="#111" stroke-width="0.2" transform="translate(149.90,674.50)" >B4</text>
<text font-size="6.1" text-anchor="start" font-weight="bold" fill="#111" stroke="#111" stroke-width="0.2" transform="translate(151.70,681.50)" >4.3%</text>
<text font-size="5.6" text-anchor="middle" font-weight="normal" fill="#222" stroke="#222" stroke-width="0.15" transform="translate(112.25,714.00)" >10<tspan font-size="3.6" dy="-2.3">0</tspan></text>
<text font-size="5.6" text-anchor="end" font-weight="normal" fill="#222" stroke="#222" stroke-width="0.15" transform="translate(76.30,683.95)" >10<tspan font-size="3.6" dy="-2.3">0</tspan></text>
<text font-size="5.6" text-anchor="middle" font-weight="normal" fill="#222" stroke="#222" stroke-width="0.15" transform="translate(142.80,714.00)" >10<tspan font-size="3.6" dy="-2.3">1</tspan></text>
<text font-size="5.6" text-anchor="end" font-weight="normal" fill="#222" stroke="#222" stroke-width="0.15" transform="translate(76.30,659.40)" >10<tspan font-size="3.6" dy="-2.3">1</tspan></text>
<text font-size="5.6" text-anchor="middle" font-weight="normal" fill="#222" stroke="#222" stroke-width="0.15" transform="translate(173.35,714.00)" >10<tspan font-size="3.6" dy="-2.3">2</tspan></text>
<text font-size="5.6" text-anchor="end" font-weight="normal" fill="#222" stroke="#222" stroke-width="0.15" transform="translate(76.30,634.85)" >10<tspan font-size="3.6" dy="-2.3">2</tspan></text>
<text font-size="5.6" text-anchor="middle" font-weight="normal" fill="#222" stroke="#222" stroke-width="0.15" transform="translate(203.90,714.00)" >10<tspan font-size="3.6" dy="-2.3">3</tspan></text>
<text font-size="5.6" text-anchor="end" font-weight="normal" fill="#222" stroke="#222" stroke-width="0.15" transform="translate(76.30,610.30)" >10<tspan font-size="3.6" dy="-2.3">3</tspan></text>
<path d="M81.2 706.6v2M81.2 706.6h-2M90.4 706.6v1.2M81.2 699.2h-1.2M95.8 706.6v1.2M81.2 694.9h-1.2M99.6 706.6v1.2M81.2 691.8h-1.2M102.6 706.6v1.2M81.2 689.4h-1.2M105.0 706.6v1.2M81.2 687.5h-1.2M107.0 706.6v1.2M81.2 685.9h-1.2M108.8 706.6v1.2M81.2 684.4h-1.2M110.4 706.6v1.2M81.2 683.2h-1.2M111.8 706.6v2M81.2 682.1h-2M120.9 706.6v1.2M81.2 674.7h-1.2M126.3 706.6v1.2M81.2 670.3h-1.2M130.1 706.6v1.2M81.2 667.3h-1.2M133.1 706.6v1.2M81.2 664.9h-1.2M135.5 706.6v1.2M81.2 662.9h-1.2M137.6 706.6v1.2M81.2 661.3h-1.2M139.3 706.6v1.2M81.2 659.9h-1.2M140.9 706.6v1.2M81.2 658.6h-1.2M142.3 706.6v2M81.2 657.5h-2M151.5 706.6v1.2M81.2 650.1h-1.2M156.9 706.6v1.2M81.2 645.8h-1.2M160.7 706.6v1.2M81.2 642.7h-1.2M163.7 706.6v1.2M81.2 640.3h-1.2M166.1 706.6v1.2M81.2 638.4h-1.2M168.1 706.6v1.2M81.2 636.8h-1.2M169.9 706.6v1.2M81.2 635.3h-1.2M171.5 706.6v1.2M81.2 634.1h-1.2M172.9 706.6v2M81.2 633.0h-2M182.0 706.6v1.2M81.2 625.6h-1.2M187.4 706.6v1.2M81.2 621.2h-1.2M191.2 706.6v1.2M81.2 618.2h-1.2M194.2 706.6v1.2M81.2 615.8h-1.2M196.6 706.6v1.2M81.2 613.8h-1.2M198.7 706.6v1.2M81.2 612.2h-1.2M200.4 706.6v1.2M81.2 610.8h-1.2M202.0 706.6v1.2M81.2 609.5h-1.2" stroke="#555" stroke-width="0.5" fill="none"/>
<rect x="222.70" y="609.30" width="121.00" height="97.00" fill="none" stroke="#3a3a3a" stroke-width="0.9"/>
<path d="M253.4 699.3h.7M263.9 688.9h.7M250.4 694.3h.7M248.7 691.1h.7M259.2 692.9h.7M252.8 698.3h.7M247.5 695.5h.7M254.2 692.7h.7M251.1 696.9h.7M251.9 698.3h.7M246.0 696.6h.7M240.6 697.0h.7M246.4 699.7h.7M257.9 694.4h.7M266.7 694.9h.7M257.7 691.1h.7M240.4 697.3h.7M249.2 693.4h.7M249.7 690.4h.7M263.9 688.3h.7M246.6 697.5h.7M239.0 700.4h.7M259.5 691.7h.7M243.4 695.3h.7M237.2 702.1h.7M252.4 692.3h.7M244.7 697.9h.7M264.1 687.9h.7M247.4 690.7h.7M257.4 693.6h.7M270.1 689.6h.7M248.5 693.4h.7M258.9 688.2h.7M258.0 693.7h.7M247.9 693.0h.7M260.5 697.7h.7M248.4 696.9h.7M266.0 689.2h.7M250.0 691.5h.7M250.8 694.6h.7M248.6 693.2h.7M239.2 693.9h.7M244.1 698.3h.7M247.9 693.1h.7M257.3 694.8h.7M245.9 694.2h.7M257.3 694.2h.7M245.2 696.9h.7M251.8 697.7h.7M245.0 698.8h.7M255.5 690.7h.7M260.5 695.0h.7M241.3 702.8h.7M242.7 694.2h.7M249.4 697.4h.7M256.7 693.0h.7M263.1 692.9h.7M263.3 699.7h.7M253.6 686.7h.7M248.3 692.3h.7M252.8 694.6h.7M242.0 693.7h.7M249.8 694.5h.7M230.7 702.6h.7M252.3 694.4h.7M254.4 690.9h.7M251.6 697.6h.7M260.8 693.6h.7M249.7 692.7h.7M262.8 693.3h.7M248.5 689.1h.7M244.8 690.7h.7M262.3 692.5h.7M245.9 695.2h.7M273.5 692.7h.7M240.9 696.9h.7M241.8 692.0h.7M253.4 701.2h.7M265.0 691.4h.7M248.9 695.9h.7M260.6 688.1h.7M236.4 703.9h.7M254.3 698.6h.7M254.0 698.4h.7M246.9 697.2h.7M265.0 694.3h.7M248.1 698.1h.7M246.4 691.7h.7M256.4 697.5h.7M259.1 689.0h.7M259.3 694.7h.7M248.1 688.1h.7M260.5 695.0h.7M256.2 688.3h.7M239.5 700.6h.7M258.8 694.3h.7M249.9 696.2h.7M247.4 694.7h.7M244.7 697.1h.7M248.5 698.2h.7M258.1 690.6h.7M267.5 687.3h.7M255.8 696.8h.7M262.8 685.2h.7M260.5 696.0h.7M264.2 684.8h.7M246.3 695.6h.7M248.2 699.5h.7M246.2 699.6h.7M256.8 689.0h.7M243.6 695.2h.7M252.8 697.3h.7M250.4 697.6h.7M238.6 688.7h.7M249.1 696.6h.7M248.9 692.2h.7M255.6 699.4h.7M251.1 692.5h.7M244.8 702.2h.7M251.7 696.4h.7M262.4 695.1h.7M244.2 699.3h.7M259.2 694.2h.7M260.6 690.7h.7M251.4 693.1h.7M258.4 690.9h.7M255.3 690.4h.7M251.0 693.7h.7M251.0 695.1h.7M250.4 694.2h.7M234.4 702.2h.7M246.7 695.1h.7M245.0 699.3h.7M244.3 697.9h.7M262.0 696.9h.7M262.1 693.8h.7M241.8 700.9h.7M262.1 694.5h.7M258.8 693.0h.7M247.7 698.8h.7M262.8 688.7h.7M259.8 693.3h.7M259.6 693.4h.7M261.5 695.2h.7M259.6 688.5h.7M259.1 692.9h.7M242.6 699.0h.7M240.5 700.1h.7M266.5 689.4h.7M259.9 693.9h.7M257.6 689.1h.7M257.3 693.6h.7M258.4 693.0h.7M261.4 693.0h.7M257.9 697.2h.7M253.7 697.1h.7M254.1 695.6h.7M247.8 697.9h.7M262.6 691.7h.7M258.9 694.1h.7M243.0 697.9h.7M263.3 690.3h.7M237.3 698.9h.7M246.9 701.5h.7M251.9 694.6h.7M247.0 696.6h.7M247.6 693.0h.7M251.8 692.3h.7M263.3 688.3h.7M251.7 692.7h.7M240.8 702.3h.7M234.7 703.2h.7M240.5 697.7h.7M271.2 683.5h.7M240.9 701.3h.7M253.7 692.6h.7M252.0 691.8h.7M253.3 698.7h.7M249.1 695.7h.7M262.3 697.9h.7M247.4 696.6h.7M247.6 693.8h.7M249.0 693.5h.7M237.9 692.3h.7M246.2 696.4h.7M262.4 690.4h.7M250.9 696.8h.7M258.5 692.7h.7M251.9 700.1h.7M249.5 693.8h.7M238.8 699.2h.7M250.1 700.7h.7M249.5 697.6h.7M260.1 697.4h.7M241.4 701.9h.7M252.4 694.2h.7M249.7 694.0h.7M249.4 688.4h.7M256.5 693.7h.7M244.4 696.3h.7M271.4 690.9h.7M249.1 700.4h.7M245.7 695.7h.7M247.7 695.0h.7M258.4 694.7h.7M246.2 695.7h.7M253.0 693.2h.7M252.0 692.5h.7M246.2 696.2h.7M243.7 697.9h.7M250.7 692.2h.7M247.2 694.4h.7M250.9 695.2h.7M250.5 692.4h.7M264.1 694.2h.7M253.2 697.1h.7M255.0 693.1h.7M253.0 702.1h.7M260.5 695.5h.7M249.0 697.1h.7M270.9 691.1h.7M261.1 696.0h.7M257.6 697.8h.7M254.2 695.5h.7M247.1 703.5h.7M254.8 694.2h.7M263.7 690.2h.7M252.2 692.3h.7M252.4 693.4h.7M256.7 693.0h.7M247.3 694.9h.7M251.3 693.3h.7M260.0 694.5h.7M253.4 690.8h.7M256.5 689.8h.7M253.8 694.3h.7M247.4 693.3h.7M246.5 701.9h.7M250.0 694.5h.7M260.1 693.8h.7M260.9 688.8h.7M251.9 693.8h.7M253.5 697.1h.7M242.5 697.8h.7M252.0 696.5h.7M253.6 692.6h.7M245.1 689.3h.7M260.3 688.3h.7M248.9 700.2h.7M248.8 697.1h.7M250.5 697.0h.7M252.5 693.0h.7M263.3 691.0h.7M241.3 696.3h.7M256.6 690.2h.7M258.7 695.1h.7M269.6 688.3h.7M257.6 688.4h.7M248.8 695.7h.7M255.5 693.5h.7M251.5 692.9h.7M248.6 696.3h.7M256.8 695.2h.7M260.3 695.9h.7M237.5 696.7h.7M250.9 693.0h.7M260.8 694.5h.7M251.3 695.1h.7M262.5 690.9h.7M249.7 697.8h.7M256.0 697.6h.7M255.2 695.9h.7M247.8 692.9h.7M252.1 686.9h.7M255.5 696.5h.7M252.8 693.7h.7M261.1 692.2h.7M260.2 698.8h.7M258.1 695.7h.7M256.2 694.2h.7M254.5 694.2h.7M261.0 687.7h.7M250.0 697.0h.7M245.4 695.9h.7M246.6 697.2h.7M259.3 696.9h.7M256.3 691.4h.7M254.3 695.6h.7M263.7 685.5h.7M255.2 688.5h.7M258.0 694.3h.7M256.3 696.0h.7M255.4 691.9h.7M255.1 697.3h.7M251.3 694.8h.7M242.4 700.3h.7M248.1 693.4h.7M248.6 693.0h.7M250.2 698.7h.7M258.7 697.0h.7M264.3 688.9h.7M256.1 697.8h.7M270.9 685.8h.7M240.7 698.8h.7M249.5 692.4h.7M255.3 691.5h.7M233.8 699.1h.7M253.2 696.1h.7M259.8 693.1h.7M250.3 693.1h.7M238.8 696.6h.7M260.3 694.4h.7M268.8 689.9h.7M237.7 700.5h.7M260.6 689.1h.7M239.1 698.2h.7M258.0 689.9h.7M249.4 693.0h.7M242.6 693.1h.7M253.3 693.2h.7M246.7 688.4h.7M266.3 688.3h.7M251.0 691.5h.7M255.2 689.4h.7M252.9 693.8h.7M259.6 689.5h.7M246.9 695.2h.7M269.1 686.0h.7M254.5 692.0h.7M254.6 695.8h.7M253.3 695.0h.7M254.4 692.3h.7M250.3 690.2h.7M249.2 693.0h.7M250.0 697.1h.7M255.2 695.1h.7M261.0 685.4h.7M255.6 693.6h.7M251.3 691.0h.7M256.5 696.7h.7M260.4 692.2h.7M257.2 695.9h.7M266.8 694.3h.7M253.2 694.5h.7M253.4 694.8h.7M248.0 697.7h.7M246.4 693.6h.7M254.9 692.1h.7M250.1 689.1h.7M258.5 692.9h.7M251.0 696.1h.7M253.7 692.1h.7M268.3 689.1h.7M259.9 697.8h.7M247.0 696.0h.7M245.4 699.2h.7M249.3 692.0h.7M262.7 694.5h.7M244.8 699.7h.7M253.6 701.9h.7M265.9 689.4h.7M249.8 692.5h.7M253.1 694.4h.7M258.0 693.3h.7M240.1 695.2h.7M263.5 694.9h.7M250.7 694.4h.7M250.6 694.9h.7M238.4 700.5h.7M246.7 696.3h.7M231.5 700.3h.7M262.9 685.4h.7M264.3 692.8h.7M246.1 691.4h.7M261.4 692.9h.7M256.8 692.5h.7M245.5 698.6h.7M244.3 699.0h.7M238.4 695.2h.7M240.2 701.2h.7M237.8 694.8h.7M257.4 693.8h.7M269.8 695.3h.7M257.0 695.2h.7M237.2 695.7h.7M249.3 694.7h.7M240.8 694.6h.7M245.1 699.3h.7M255.5 692.7h.7M249.8 695.9h.7M246.3 695.2h.7M238.0 699.9h.7M259.8 693.6h.7M255.9 694.6h.7M268.6 690.9h.7M241.2 694.2h.7M257.8 696.1h.7M258.3 695.3h.7M253.5 689.8h.7M246.2 690.7h.7M248.8 691.4h.7M252.8 693.8h.7M236.1 700.6h.7M258.2 688.9h.7M253.1 696.3h.7M249.6 697.6h.7M253.5 697.2h.7M253.5 693.6h.7M256.1 695.7h.7M254.0 692.7h.7M245.5 695.0h.7M247.2 696.3h.7M253.3 693.9h.7M251.9 695.0h.7M264.7 694.8h.7M247.2 696.9h.7M249.2 694.9h.7M249.9 693.2h.7M240.7 690.2h.7M253.5 697.5h.7M244.5 697.8h.7M248.7 696.1h.7M245.3 695.5h.7M250.9 687.8h.7M253.6 693.6h.7M231.5 701.4h.7M251.6 695.1h.7M254.8 692.5h.7M243.0 695.4h.7M248.3 701.8h.7M267.0 689.3h.7M248.4 696.3h.7M256.4 691.3h.7M243.6 702.1h.7M260.5 687.8h.7M237.3 695.7h.7M253.6 695.6h.7M249.0 690.5h.7M253.6 695.8h.7M251.8 693.0h.7M256.5 693.1h.7M242.5 697.1h.7M241.1 700.0h.7M255.6 690.6h.7M253.5 697.7h.7M234.0 698.5h.7M265.4 686.5h.7M250.4 690.7h.7M251.2 687.6h.7M238.3 696.3h.7M252.9 695.3h.7M255.3 697.0h.7M257.5 695.2h.7M243.6 696.0h.7M278.2 694.5h.7M258.6 694.9h.7M260.0 691.2h.7M268.0 689.3h.7M251.1 701.0h.7M234.4 699.9h.7M237.4 696.1h.7M251.0 693.6h.7M253.2 691.9h.7M250.9 691.2h.7M248.5 691.2h.7M257.2 689.3h.7M257.5 691.8h.7M249.2 698.6h.7M252.7 688.6h.7M255.9 684.8h.7M254.0 692.7h.7M240.0 697.6h.7M249.2 701.1h.7M248.1 701.2h.7M263.4 689.8h.7M244.9 700.1h.7M250.6 695.2h.7M249.6 691.4h.7M248.6 692.4h.7M238.9 696.8h.7M266.8 695.5h.7M251.2 695.0h.7M256.1 697.4h.7M254.4 692.4h.7M248.4 698.7h.7M273.7 687.1h.7M234.4 701.2h.7M251.1 695.1h.7M262.2 692.1h.7M240.5 691.4h.7M251.3 691.1h.7M254.2 690.1h.7M248.8 690.8h.7M248.7 693.9h.7M256.8 697.2h.7M250.2 692.3h.7M268.3 691.4h.7M256.9 695.0h.7M264.1 694.4h.7M257.5 695.3h.7M244.5 694.5h.7M250.9 695.0h.7M251.9 695.4h.7M252.0 693.1h.7M238.0 700.4h.7M256.8 690.6h.7M256.0 694.6h.7M252.4 688.8h.7M241.6 695.2h.7M265.5 688.5h.7M248.8 691.9h.7M247.6 696.5h.7M234.2 690.4h.7M257.4 693.2h.7M246.6 698.7h.7M260.0 686.1h.7M250.4 698.2h.7M246.1 695.0h.7M259.9 691.7h.7M241.6 695.0h.7M240.5 699.0h.7M237.1 701.1h.7M237.8 698.1h.7M239.3 696.6h.7M260.5 695.7h.7M262.9 691.4h.7M252.7 694.9h.7M257.0 692.0h.7M261.1 693.1h.7M261.5 693.5h.7M257.5 690.8h.7M248.2 691.5h.7M249.3 694.6h.7M258.9 688.9h.7M279.3 687.2h.7M262.5 694.9h.7M230.4 699.0h.7M264.3 684.1h.7M258.3 690.1h.7M247.8 696.1h.7M235.9 699.0h.7M246.3 693.6h.7M257.7 703.5h.7M254.7 695.4h.7M251.3 692.4h.7M254.0 698.5h.7M253.4 696.7h.7M249.8 702.5h.7M237.7 699.7h.7M256.4 694.1h.7M242.3 693.4h.7M249.7 695.3h.7M241.4 693.9h.7M256.5 696.4h.7M247.0 693.6h.7M245.5 703.5h.7M255.9 693.2h.7M260.3 699.2h.7M261.7 687.7h.7M251.0 693.4h.7M248.8 691.5h.7M248.4 692.0h.7M254.6 693.9h.7M239.6 692.3h.7M247.6 697.4h.7M255.9 693.2h.7M245.4 695.0h.7M241.3 695.8h.7M246.0 704.0h.7M257.7 692.4h.7M251.3 694.2h.7M253.3 692.8h.7M251.5 697.6h.7M258.7 693.6h.7M263.0 692.3h.7M243.3 691.3h.7M245.7 695.8h.7M255.1 696.9h.7M246.8 693.3h.7M258.2 696.4h.7M247.6 696.5h.7M263.4 692.5h.7M251.2 688.3h.7M263.0 693.6h.7M252.7 692.8h.7M241.0 696.8h.7M250.7 698.0h.7M241.3 701.4h.7M252.0 698.0h.7M243.4 697.6h.7M262.1 692.2h.7M239.1 696.6h.7M256.2 689.1h.7M239.4 698.2h.7M243.6 698.5h.7M241.6 691.4h.7M245.0 700.6h.7M244.3 696.3h.7M253.8 691.1h.7M261.0 692.7h.7M255.5 688.5h.7M236.8 689.9h.7M250.1 694.2h.7M257.8 697.4h.7M249.5 694.2h.7M255.5 698.1h.7M244.7 698.1h.7M249.6 694.0h.7M258.6 690.4h.7M242.6 698.7h.7M251.5 693.7h.7M250.6 696.2h.7M248.5 697.6h.7M255.2 698.0h.7M262.5 694.4h.7M250.0 695.3h.7M246.7 704.3h.7M249.8 696.6h.7M263.3 687.5h.7M244.7 695.0h.7M243.2 692.8h.7M247.3 699.4h.7M257.9 693.0h.7M252.0 689.4h.7M257.6 694.3h.7M242.5 697.4h.7M250.1 693.3h.7M243.3 694.5h.7M243.7 697.9h.7M254.8 694.7h.7M250.2 693.6h.7M269.1 684.5h.7M261.9 693.0h.7M252.3 692.8h.7M249.9 691.4h.7M239.9 697.1h.7M237.7 700.5h.7M261.2 681.8h.7M238.5 698.6h.7M253.6 694.4h.7M255.3 695.8h.7M259.1 698.0h.7M252.0 697.0h.7M238.0 697.5h.7M241.4 701.2h.7M271.6 691.1h.7M240.7 696.9h.7M252.0 695.0h.7M261.0 695.0h.7M229.3 704.2h.7M247.6 693.9h.7M263.8 690.7h.7M240.1 693.4h.7M252.3 697.1h.7M264.6 690.8h.7M247.8 700.3h.7M247.9 699.8h.7M253.8 694.7h.7M249.8 695.9h.7M247.9 693.4h.7M250.7 692.8h.7M254.4 694.1h.7M249.6 694.4h.7M249.9 700.2h.7M251.7 692.7h.7M249.3 697.1h.7M250.1 694.5h.7M249.6 695.5h.7M255.1 695.0h.7M237.9 694.8h.7M229.5 702.5h.7M261.2 696.0h.7M253.0 697.6h.7M251.5 694.2h.7M238.7 695.4h.7M246.8 698.5h.7M265.9 689.6h.7M255.0 694.5h.7M245.2 691.0h.7M245.4 691.8h.7M249.1 694.7h.7M250.3 694.4h.7M255.9 690.7h.7M259.3 687.6h.7M252.3 695.5h.7M245.1 691.4h.7M257.2 691.1h.7M258.4 695.1h.7M251.7 694.5h.7M260.1 693.5h.7M243.9 697.0h.7M256.5 693.9h.7M253.4 693.6h.7M250.8 691.9h.7M239.6 700.9h.7M246.4 696.5h.7M239.1 698.1h.7M244.8 705.1h.7M243.1 693.7h.7M259.7 695.9h.7M233.9 699.7h.7M259.2 689.0h.7M257.5 691.5h.7M243.3 695.5h.7M247.9 691.3h.7M270.7 688.4h.7M245.4 698.6h.7M251.1 698.6h.7M249.5 696.1h.7M252.5 694.8h.7M250.0 694.6h.7M265.9 688.9h.7M247.1 694.6h.7M256.6 694.5h.7M259.6 688.5h.7M253.9 693.4h.7M249.3 695.6h.7M235.1 699.4h.7M253.0 689.9h.7M251.0 699.3h.7M248.5 697.1h.7M249.9 692.5h.7M244.0 695.2h.7M262.7 694.2h.7M245.8 698.9h.7M250.7 692.7h.7M255.4 690.9h.7M238.5 701.6h.7M236.4 699.9h.7M238.9 697.6h.7M250.1 693.6h.7M233.4 698.7h.7M251.5 691.9h.7M251.2 697.6h.7M245.7 696.7h.7M242.1 698.0h.7M257.1 700.5h.7M259.4 693.9h.7M263.6 688.6h.7M260.8 690.6h.7M246.6 699.0h.7M253.8 697.9h.7M239.6 698.3h.7M247.4 694.8h.7M235.8 701.2h.7M253.6 691.1h.7M240.5 694.7h.7M263.5 691.3h.7M249.0 696.6h.7M251.9 695.1h.7M258.1 693.9h.7M259.2 689.1h.7M252.4 693.3h.7M252.8 694.1h.7M246.6 694.8h.7M259.8 690.9h.7M241.5 698.8h.7M260.0 691.7h.7M253.0 691.8h.7M250.2 698.2h.7M258.6 693.3h.7M249.7 690.3h.7M254.6 695.2h.7M260.7 698.2h.7M255.1 696.5h.7M242.7 700.4h.7M259.2 696.7h.7M257.6 694.4h.7M264.3 689.5h.7M257.4 696.3h.7M245.5 692.8h.7M255.6 694.0h.7M257.1 695.1h.7M245.7 697.1h.7M261.4 691.1h.7M249.7 691.8h.7M258.9 698.5h.7M240.7 699.6h.7M259.6 691.0h.7M249.0 692.2h.7M245.6 696.6h.7M257.5 693.5h.7M259.2 693.3h.7M242.4 701.2h.7M262.0 690.0h.7M266.8 692.2h.7M253.2 699.9h.7M231.5 695.0h.7M258.1 692.3h.7M244.3 700.9h.7M256.2 689.8h.7M246.7 698.4h.7M267.0 685.0h.7M254.3 692.9h.7M237.7 697.7h.7M238.9 696.3h.7M265.6 692.7h.7M258.7 694.7h.7M255.2 696.6h.7M242.6 695.9h.7M259.3 690.6h.7M248.6 699.0h.7M265.0 689.6h.7M245.5 697.9h.7M254.5 692.0h.7M257.3 694.9h.7M253.0 703.0h.7M263.6 694.1h.7M260.8 701.1h.7M261.4 690.2h.7M255.0 694.1h.7M247.6 696.5h.7M254.4 693.9h.7M248.3 698.0h.7M239.1 700.3h.7M252.4 695.3h.7M232.6 704.4h.7M238.0 695.6h.7M257.7 691.4h.7M249.0 688.8h.7M248.7 696.1h.7M258.0 692.3h.7M254.2 695.4h.7M246.8 693.7h.7M268.7 688.0h.7M262.6 692.2h.7M264.6 689.6h.7M256.7 694.4h.7M250.5 695.9h.7M246.0 695.9h.7M249.1 697.6h.7M251.6 690.6h.7M249.3 695.0h.7M244.9 700.3h.7M255.8 696.2h.7M246.0 695.0h.7M260.8 688.2h.7M255.4 694.0h.7M248.2 695.8h.7M243.4 697.4h.7M242.2 693.3h.7M264.0 689.6h.7M234.8 701.8h.7M245.9 685.8h.7M251.9 697.4h.7M255.3 698.9h.7M251.3 696.6h.7M244.0 697.1h.7M265.2 692.8h.7M253.7 688.4h.7M249.2 691.5h.7M258.9 690.7h.7M255.4 690.8h.7M268.2 687.1h.7M253.5 702.0h.7M254.2 691.5h.7M257.5 696.2h.7M259.7 686.9h.7M254.2 687.8h.7M268.3 690.8h.7M248.5 697.5h.7M256.5 690.0h.7M266.0 690.4h.7M237.7 702.4h.7M265.3 695.0h.7M257.0 690.8h.7M260.3 698.1h.7M259.3 697.6h.7M245.9 699.2h.7M260.3 688.2h.7M238.8 695.8h.7M253.1 695.7h.7M250.5 694.8h.7M251.5 695.0h.7M257.4 694.8h.7M252.0 695.4h.7M248.6 697.9h.7M248.2 700.5h.7M252.2 695.4h.7M246.0 695.1h.7M253.8 694.3h.7M247.2 692.4h.7M252.8 694.9h.7M257.1 697.1h.7M249.8 689.3h.7M251.2 689.4h.7M241.6 700.3h.7M257.2 691.4h.7M247.1 695.6h.7M237.6 699.7h.7M249.5 700.8h.7M243.5 699.8h.7M246.7 699.0h.7M244.2 698.8h.7M248.7 693.0h.7M251.2 696.3h.7M255.9 698.4h.7M259.4 684.9h.7M249.1 689.4h.7M249.2 697.2h.7M241.2 693.9h.7M253.7 693.4h.7M265.9 692.2h.7M257.0 698.7h.7M248.2 695.6h.7M244.1 697.4h.7M261.3 696.5h.7M252.2 692.5h.7M246.0 692.0h.7M253.5 698.4h.7M232.4 693.1h.7M264.4 686.8h.7M255.3 690.1h.7M259.1 695.2h.7M254.0 696.7h.7M253.0 696.1h.7M268.0 694.0h.7M247.0 693.5h.7M250.5 694.4h.7M253.2 692.6h.7M258.1 693.3h.7M255.6 693.8h.7M257.8 689.7h.7M266.0 692.2h.7M256.4 695.4h.7M261.8 694.5h.7M254.6 693.5h.7M238.6 698.7h.7M250.0 694.3h.7M273.0 683.9h.7M253.1 698.1h.7M260.8 696.2h.7M241.9 694.4h.7M257.9 692.4h.7M267.2 691.6h.7M254.3 695.5h.7M250.4 695.5h.7M246.9 695.9h.7M248.6 696.4h.7M240.7 693.1h.7M256.6 694.3h.7M244.5 695.9h.7M243.8 702.9h.7M239.4 703.0h.7M245.7 697.6h.7M250.5 694.0h.7M260.7 695.0h.7M250.3 692.5h.7M270.4 694.4h.7M253.9 693.4h.7M255.2 694.2h.7M262.9 689.1h.7M252.9 692.2h.7M263.9 697.2h.7M252.0 696.4h.7M264.7 690.7h.7M244.8 699.7h.7M257.1 692.9h.7M265.2 692.2h.7M237.6 699.4h.7M252.3 700.3h.7M252.6 694.0h.7M256.5 694.4h.7M240.8 697.9h.7M250.0 699.5h.7M273.2 686.1h.7M244.6 694.1h.7M247.2 693.9h.7M253.2 697.7h.7M241.7 692.7h.7M237.1 701.8h.7M264.1 687.2h.7M238.9 698.4h.7M262.1 695.3h.7M254.4 696.2h.7M255.6 692.2h.7M269.0 690.5h.7M243.3 695.5h.7M239.7 697.9h.7M262.1 688.5h.7M262.4 698.5h.7M256.0 690.3h.7M245.6 695.4h.7M241.9 693.6h.7M250.6 694.6h.7M258.0 689.7h.7M268.7 693.8h.7M260.4 690.7h.7M267.6 689.9h.7M268.2 693.9h.7M245.2 695.1h.7M268.7 693.6h.7M251.5 695.5h.7M254.5 691.8h.7M251.1 693.0h.7M249.2 696.9h.7M244.7 698.8h.7M253.7 696.6h.7M260.4 696.4h.7M258.2 695.4h.7M251.3 696.7h.7M245.1 695.8h.7M259.2 692.8h.7M256.6 690.5h.7M264.5 689.9h.7M256.2 693.7h.7M260.8 691.4h.7M244.3 691.0h.7M250.2 691.6h.7M257.4 697.8h.7M233.8 695.4h.7M255.4 697.6h.7M255.4 694.9h.7M257.1 695.2h.7M266.8 692.9h.7M242.2 695.8h.7M254.6 691.7h.7M250.6 693.6h.7M246.8 698.2h.7M249.5 692.1h.7M246.7 696.2h.7M270.8 690.9h.7M265.5 692.9h.7M234.4 700.3h.7M245.5 692.3h.7M243.6 702.3h.7M239.3 696.1h.7M262.7 694.1h.7M238.2 697.9h.7M248.4 695.1h.7M259.2 691.2h.7M250.1 699.7h.7M237.0 697.4h.7M256.8 689.8h.7M247.4 692.0h.7M254.1 692.4h.7M259.5 696.0h.7M253.2 693.3h.7M255.0 694.2h.7M242.4 700.4h.7M254.7 696.5h.7M241.1 700.1h.7M270.8 691.9h.7M240.3 697.8h.7M252.3 695.4h.7M250.8 696.6h.7M248.8 696.3h.7M246.9 696.4h.7M261.3 691.0h.7M258.5 690.5h.7M249.6 694.7h.7M263.4 689.6h.7M263.2 687.5h.7M251.4 697.7h.7M258.7 690.0h.7M242.2 699.9h.7M241.9 699.0h.7M248.3 695.7h.7M272.6 694.3h.7M259.9 688.6h.7M255.5 694.0h.7M251.9 698.8h.7M238.0 699.2h.7M253.8 692.0h.7M267.5 687.0h.7M252.9 694.8h.7M233.9 694.9h.7M244.4 699.0h.7M260.8 694.3h.7M254.8 687.4h.7M254.5 692.5h.7M262.8 696.1h.7M271.9 691.9h.7M259.7 689.7h.7M253.4 690.6h.7M260.4 689.0h.7M250.8 692.5h.7M248.6 697.0h.7M247.8 696.5h.7M244.0 701.0h.7M247.1 699.0h.7M271.1 682.6h.7M244.1 696.1h.7M262.7 690.6h.7M255.9 691.5h.7M257.5 689.7h.7M259.9 683.7h.7M236.3 704.2h.7M254.1 691.5h.7M271.7 693.0h.7M262.4 690.8h.7M258.0 694.8h.7M238.3 700.0h.7M251.0 698.9h.7M263.9 689.8h.7M247.4 696.5h.7M258.3 691.9h.7M251.6 696.7h.7M256.3 697.2h.7M254.7 691.3h.7M237.3 700.9h.7M249.7 694.2h.7M250.1 690.4h.7M249.2 687.4h.7M249.1 692.7h.7M268.6 691.9h.7M250.7 695.5h.7M258.9 690.7h.7M250.6 694.0h.7M274.2 689.4h.7M235.4 701.3h.7M275.1 686.0h.7M282.9 686.8h.7M261.3 690.6h.7M250.2 691.4h.7M243.3 690.3h.7M262.5 688.5h.7M255.8 694.8h.7M246.9 696.1h.7M251.7 693.2h.7M253.0 694.6h.7M243.6 692.8h.7M245.1 696.8h.7M264.6 696.1h.7M255.3 696.8h.7M253.6 697.7h.7M253.6 695.5h.7M250.0 695.2h.7M269.1 686.7h.7M252.5 692.7h.7M260.9 698.1h.7M249.8 686.6h.7M257.9 695.1h.7M237.7 697.5h.7M251.9 687.5h.7M258.4 694.4h.7M254.6 690.7h.7M246.2 694.1h.7M256.7 690.4h.7M265.3 692.5h.7M233.3 704.6h.7M253.8 692.5h.7M253.3 688.6h.7M254.1 686.5h.7M243.4 701.0h.7M263.6 690.7h.7M243.9 699.6h.7M252.0 695.3h.7M257.9 689.8h.7M259.4 686.2h.7M265.3 686.4h.7M246.8 693.8h.7M258.8 695.3h.7M255.6 695.4h.7M256.5 693.3h.7M235.5 691.6h.7M232.0 699.5h.7M250.3 694.6h.7M254.3 693.3h.7M243.5 692.0h.7M235.5 702.5h.7M260.4 688.3h.7M249.9 696.5h.7M266.5 689.1h.7M253.9 697.8h.7M236.9 696.1h.7M251.9 692.4h.7M271.0 692.6h.7M254.0 691.1h.7M260.0 694.6h.7M247.7 694.3h.7M239.3 697.5h.7M260.0 695.7h.7M257.4 695.8h.7M247.0 694.4h.7M262.9 693.3h.7M245.2 697.9h.7M259.6 694.9h.7M253.2 692.7h.7M255.8 698.9h.7M253.5 692.1h.7M255.2 689.9h.7M254.3 693.1h.7M260.7 692.7h.7M261.5 699.4h.7M250.3 692.4h.7M256.3 693.2h.7M253.5 692.3h.7M257.1 693.5h.7M233.1 698.6h.7M255.2 697.5h.7M247.1 693.3h.7M262.4 690.1h.7M253.1 695.8h.7M258.7 692.9h.7M242.4 700.1h.7M248.4 693.9h.7M269.9 692.8h.7M242.8 695.4h.7M250.0 692.7h.7M235.2 701.3h.7M259.0 693.6h.7M248.6 696.1h.7M257.8 689.9h.7M249.2 693.5h.7M258.3 693.8h.7M240.7 695.5h.7M267.7 687.6h.7M253.5 692.2h.7M263.2 691.6h.7M248.3 691.8h.7M250.0 697.6h.7M258.1 688.9h.7M265.9 690.3h.7M242.9 697.2h.7M246.7 694.1h.7M246.6 695.6h.7M247.7 690.3h.7M256.7 691.7h.7M262.6 693.5h.7M257.5 693.7h.7M263.5 690.6h.7M243.4 697.8h.7M228.2 699.3h.7M254.0 692.7h.7M263.1 693.9h.7M253.1 693.0h.7M261.7 690.0h.7M248.4 697.7h.7M257.3 699.5h.7M250.2 689.2h.7M257.9 697.0h.7M250.6 699.7h.7M267.7 688.5h.7M247.8 691.7h.7M256.8 695.5h.7M257.4 689.4h.7M245.4 691.7h.7M237.9 693.9h.7M238.2 697.4h.7M255.8 695.5h.7M251.9 692.5h.7M251.9 696.3h.7M249.4 695.3h.7M249.3 693.6h.7M252.3 691.0h.7M261.2 687.4h.7M256.1 689.3h.7M265.2 693.9h.7M244.9 694.9h.7M242.1 696.8h.7M255.6 701.5h.7M240.0 701.3h.7M246.9 696.6h.7M259.7 694.3h.7M255.7 693.0h.7M251.9 695.0h.7M262.5 687.3h.7M247.7 691.7h.7M243.6 694.1h.7M261.6 698.7h.7M263.8 687.9h.7M252.7 690.8h.7M255.9 697.4h.7M257.1 695.9h.7M250.7 688.7h.7M234.7 698.5h.7M257.0 697.2h.7M249.0 695.5h.7M254.2 697.2h.7M251.4 691.3h.7M261.5 693.4h.7M255.3 689.7h.7M251.9 689.2h.7M234.5 698.2h.7M248.2 697.2h.7M264.6 691.2h.7M267.6 688.8h.7M258.7 688.9h.7M253.1 693.2h.7M250.2 696.8h.7M235.5 699.0h.7M244.9 696.6h.7M255.4 692.5h.7M248.7 691.8h.7M256.8 691.2h.7M255.9 689.1h.7M263.9 688.4h.7M262.1 690.6h.7M256.8 692.9h.7M257.9 693.0h.7M263.1 693.8h.7M257.9 698.2h.7M245.9 700.0h.7M252.6 689.8h.7M256.2 692.8h.7M266.7 689.3h.7M252.4 695.1h.7M235.4 700.2h.7M243.3 701.0h.7M266.5 690.8h.7M238.2 698.5h.7M253.5 696.3h.7M249.4 691.5h.7M250.8 692.0h.7M267.4 688.5h.7M246.3 695.8h.7M241.2 695.8h.7M250.8 693.3h.7M249.8 698.9h.7M255.8 689.4h.7M248.3 697.7h.7M246.3 696.2h.7M251.7 696.2h.7M250.4 694.5h.7M244.5 697.5h.7M243.9 701.9h.7M251.8 693.9h.7M258.9 692.5h.7M252.8 694.1h.7M245.7 693.2h.7M245.9 699.5h.7M246.5 694.6h.7M248.1 697.6h.7M269.3 687.3h.7M256.8 693.7h.7M249.4 696.7h.7M240.9 699.8h.7M253.9 691.0h.7M265.9 693.6h.7M262.1 687.5h.7M249.6 693.5h.7M257.5 697.3h.7M235.4 698.7h.7M250.9 697.8h.7M251.6 690.7h.7M250.3 691.7h.7M245.2 696.3h.7M247.8 696.4h.7M238.8 704.9h.7M263.0 694.0h.7M240.8 690.7h.7M244.5 695.7h.7M271.4 693.7h.7M247.4 699.3h.7M262.6 691.9h.7M262.6 692.9h.7M246.3 692.3h.7M250.9 697.8h.7M240.2 692.5h.7M256.8 685.0h.7M267.8 689.2h.7M258.4 698.6h.7M239.4 694.4h.7M271.5 688.8h.7M250.9 695.5h.7M261.2 696.3h.7M253.0 693.2h.7M251.7 695.5h.7M263.4 692.1h.7M267.8 687.9h.7M256.6 698.7h.7M263.2 692.7h.7M244.3 694.2h.7M250.6 695.8h.7M249.8 690.6h.7M245.6 697.7h.7M259.3 688.4h.7M248.8 690.2h.7M252.6 693.3h.7M246.9 692.1h.7M235.8 698.4h.7M249.6 699.6h.7M237.8 699.4h.7M263.7 685.6h.7M257.7 688.1h.7M256.5 697.9h.7M252.0 695.4h.7M246.0 696.9h.7M261.8 691.5h.7M250.8 696.0h.7M259.2 687.7h.7M252.5 692.3h.7M256.3 696.6h.7M254.7 697.8h.7M243.4 695.4h.7M243.4 696.8h.7M252.8 693.7h.7M241.5 696.9h.7M248.2 697.3h.7M249.7 698.7h.7M254.0 688.3h.7M250.5 690.5h.7M260.4 696.8h.7M251.8 695.9h.7M239.4 690.7h.7M247.2 694.9h.7M238.8 698.1h.7M254.7 695.8h.7M265.5 693.6h.7M248.8 695.6h.7M257.2 690.0h.7M263.6 694.4h.7M250.1 693.0h.7M285.1 688.8h.7M260.2 698.0h.7M260.6 693.0h.7M258.2 690.2h.7M258.3 688.2h.7M255.7 695.3h.7M238.5 703.8h.7M242.0 700.2h.7M247.5 696.6h.7M246.3 703.6h.7M261.1 697.8h.7M258.9 694.9h.7M253.4 693.5h.7M257.4 693.7h.7M250.8 690.6h.7M249.5 697.0h.7M248.1 696.6h.7M250.9 691.7h.7M244.3 694.2h.7M249.7 694.3h.7M261.9 688.7h.7M234.4 701.1h.7M248.2 695.1h.7M274.4 693.5h.7M257.3 696.2h.7M253.3 697.2h.7M246.9 693.7h.7M248.2 700.4h.7M265.8 689.3h.7M262.4 691.5h.7M261.6 691.2h.7M260.6 692.1h.7M249.8 695.1h.7M253.7 692.4h.7M240.3 702.7h.7M248.9 689.8h.7M232.5 690.8h.7M246.9 700.1h.7M238.0 697.1h.7M236.3 701.9h.7M255.5 694.7h.7M264.1 696.7h.7M261.3 690.5h.7M240.8 694.2h.7M237.0 703.9h.7M250.7 695.3h.7M254.1 700.3h.7M247.4 699.4h.7M255.0 693.4h.7M235.6 701.6h.7M245.8 694.7h.7M254.3 694.3h.7M262.2 690.0h.7M253.8 695.0h.7M252.6 696.6h.7M250.1 698.8h.7M246.2 691.6h.7M252.0 698.3h.7M247.9 693.7h.7M249.3 695.8h.7M250.8 695.9h.7M237.3 702.9h.7M257.5 690.6h.7M264.4 692.9h.7M265.2 687.7h.7M266.9 691.1h.7M234.4 701.4h.7M249.7 692.1h.7M250.5 689.0h.7M257.5 692.6h.7M250.0 699.5h.7M252.7 692.4h.7M244.0 696.4h.7M261.7 690.4h.7M243.3 699.7h.7M252.9 694.3h.7M270.6 686.2h.7M254.1 688.6h.7M249.7 697.0h.7M262.2 688.1h.7M259.7 695.1h.7M251.3 702.4h.7M252.4 691.8h.7M256.1 687.9h.7M266.0 694.2h.7M248.9 697.3h.7M257.1 699.3h.7M247.0 691.9h.7M234.6 698.1h.7M238.6 697.4h.7M255.9 692.3h.7M244.1 700.3h.7M250.6 695.7h.7M260.7 688.4h.7M244.3 704.3h.7M251.0 691.7h.7M250.1 693.3h.7M241.6 696.0h.7M252.2 694.5h.7M257.1 688.0h.7M239.3 700.2h.7M248.5 699.3h.7M255.0 689.5h.7M257.0 690.2h.7M254.6 697.8h.7M270.8 689.7h.7M258.5 693.9h.7M259.3 684.9h.7M249.0 696.3h.7M256.5 691.2h.7M259.6 696.1h.7M253.0 693.7h.7M249.2 695.7h.7M262.7 696.6h.7M248.2 692.7h.7M245.4 699.3h.7M254.3 695.0h.7M256.6 694.6h.7M251.3 691.6h.7M247.0 696.3h.7M255.8 692.5h.7M248.7 699.7h.7M248.3 696.2h.7M249.6 692.6h.7M239.1 696.2h.7M245.2 698.9h.7M242.3 695.8h.7M258.1 692.8h.7M256.7 696.0h.7M237.9 696.9h.7M244.0 700.8h.7M251.3 696.3h.7M267.1 689.8h.7M253.0 695.6h.7M250.0 699.0h.7M259.5 695.8h.7M252.8 693.4h.7M249.3 694.2h.7M238.1 699.2h.7M259.4 692.7h.7M248.1 695.7h.7M254.3 695.0h.7M267.9 688.0h.7M255.5 695.9h.7M253.0 693.6h.7M243.5 694.9h.7M258.4 697.4h.7M246.7 697.4h.7M256.8 696.5h.7M254.4 695.4h.7M260.0 689.1h.7M252.7 689.1h.7M235.3 696.3h.7M239.1 699.4h.7M260.9 691.5h.7M251.1 694.1h.7M250.1 695.5h.7M255.3 692.4h.7M245.6 694.6h.7M259.2 691.5h.7M264.8 690.7h.7M264.0 688.0h.7M246.4 697.5h.7M256.5 693.0h.7M269.8 690.4h.7M254.8 692.2h.7M266.5 693.6h.7M255.8 688.7h.7M255.4 692.3h.7M255.7 696.4h.7M245.9 696.8h.7M259.8 693.1h.7M249.5 692.0h.7M246.6 692.1h.7M260.7 692.7h.7M241.9 697.1h.7M241.3 687.4h.7M262.6 695.5h.7M239.7 695.5h.7M254.0 692.9h.7M245.0 694.8h.7M250.2 693.4h.7M254.1 693.4h.7M245.8 696.2h.7M238.1 702.4h.7M237.4 698.0h.7M255.2 695.0h.7M254.5 697.8h.7M242.7 696.7h.7M253.5 692.7h.7M247.2 699.7h.7M246.2 694.6h.7M249.9 694.5h.7M253.6 693.6h.7M255.4 694.1h.7M256.3 697.6h.7M245.0 701.3h.7M248.4 697.5h.7M253.6 693.3h.7M235.6 703.5h.7M245.8 693.8h.7M261.2 692.5h.7M268.3 695.5h.7M258.2 693.8h.7M258.7 689.0h.7M253.7 694.6h.7M248.2 696.3h.7M239.8 700.3h.7M263.1 687.9h.7M253.4 698.8h.7M255.7 690.6h.7M243.8 699.2h.7M267.7 687.4h.7M252.5 692.1h.7M249.8 696.0h.7M251.8 692.6h.7M270.0 689.6h.7M250.6 698.2h.7M252.3 693.9h.7M260.2 689.4h.7M258.5 696.0h.7M257.8 692.6h.7M252.1 689.4h.7M251.1 695.7h.7M259.5 693.1h.7M248.9 692.8h.7M251.8 695.0h.7M262.4 692.0h.7M247.9 695.3h.7M248.1 694.8h.7M233.6 694.4h.7M242.1 698.4h.7M251.5 695.1h.7M261.9 689.0h.7M261.8 693.3h.7M246.1 700.4h.7M240.2 694.2h.7M250.4 696.2h.7M250.5 688.6h.7M249.6 694.9h.7M273.5 693.2h.7M253.2 691.0h.7M255.0 690.3h.7M253.8 695.2h.7M248.8 696.1h.7M249.4 693.5h.7M265.0 693.0h.7M249.6 692.9h.7M253.6 695.8h.7M259.3 697.1h.7M256.0 690.2h.7M269.2 693.7h.7M259.1 696.7h.7M239.6 696.5h.7M247.8 699.1h.7M242.2 696.0h.7M264.9 693.2h.7M248.9 700.9h.7M241.0 698.6h.7M250.2 696.5h.7M249.8 692.6h.7M253.9 690.2h.7M256.6 692.5h.7M259.8 691.3h.7M246.5 697.1h.7M262.5 685.8h.7M253.1 696.1h.7M240.2 694.9h.7M257.5 690.7h.7M246.8 700.9h.7M244.2 693.9h.7M232.7 696.1h.7M241.8 702.2h.7M262.3 688.2h.7M268.6 692.7h.7M250.6 697.3h.7M255.3 691.4h.7M237.3 695.5h.7M252.0 693.5h.7M245.9 698.9h.7M243.2 699.4h.7M248.0 695.8h.7M242.7 696.8h.7M245.5 691.0h.7M251.9 694.4h.7M259.0 693.6h.7M243.6 694.8h.7M231.2 696.4h.7M262.9 696.3h.7M258.5 693.8h.7M257.0 694.7h.7M237.5 695.6h.7M262.0 695.5h.7M254.1 693.1h.7M248.8 693.7h.7M244.3 690.7h.7M253.3 692.9h.7M250.3 700.0h.7M257.0 691.2h.7M256.9 688.8h.7M260.9 693.1h.7M250.4 696.6h.7M264.3 690.1h.7M243.7 702.8h.7M252.2 698.9h.7M246.4 697.0h.7M246.7 697.7h.7M249.7 693.1h.7M265.1 692.3h.7M235.0 698.1h.7M244.3 692.8h.7M247.1 694.3h.7M252.3 692.1h.7M236.4 696.8h.7M259.4 688.6h.7M257.2 694.6h.7M248.2 696.4h.7M245.7 694.9h.7M243.4 698.0h.7M263.6 689.6h.7M262.1 685.6h.7M244.5 693.4h.7M266.5 689.1h.7M258.6 686.8h.7M253.0 695.9h.7M251.7 686.5h.7M253.5 696.5h.7M263.2 692.9h.7M237.7 697.4h.7M259.7 690.1h.7M256.8 691.9h.7M252.8 696.6h.7M246.0 704.6h.7M253.3 695.2h.7M245.7 696.3h.7M249.7 690.7h.7M239.0 698.6h.7M251.3 686.8h.7M233.8 698.1h.7M251.4 696.5h.7M241.5 698.9h.7M249.4 693.6h.7M250.8 697.8h.7M256.7 696.0h.7M246.2 695.1h.7M242.1 695.3h.7M248.6 693.9h.7M258.1 694.3h.7M258.5 693.3h.7M261.1 692.6h.7M260.2 694.0h.7M258.2 692.7h.7M241.5 692.8h.7M268.6 691.5h.7M255.8 693.1h.7M248.1 704.1h.7M242.5 696.7h.7M251.6 691.2h.7M241.2 695.1h.7M249.1 693.8h.7M258.9 689.2h.7M255.4 698.0h.7M259.6 689.2h.7M226.9 703.3h.7M256.2 691.7h.7M262.9 690.6h.7M252.9 691.2h.7M254.7 692.5h.7M247.7 698.8h.7M253.8 689.6h.7M257.9 695.5h.7M244.9 695.1h.7M252.5 693.6h.7M253.1 696.2h.7M247.8 701.8h.7M245.9 694.4h.7M268.7 697.5h.7M252.3 693.9h.7M242.9 700.2h.7M253.5 691.6h.7M255.5 697.7h.7M257.8 699.7h.7M261.9 693.4h.7M251.7 696.2h.7M262.3 694.5h.7M261.0 692.9h.7M258.5 696.5h.7M250.6 691.0h.7M266.7 692.6h.7M248.3 696.1h.7M249.9 689.9h.7M250.4 690.6h.7M253.7 693.7h.7M261.6 691.7h.7M255.2 692.8h.7M248.8 691.1h.7M260.4 692.9h.7M247.0 696.4h.7M248.5 693.2h.7M254.1 697.6h.7M249.7 690.8h.7M246.8 701.2h.7M245.1 699.8h.7M250.0 697.2h.7M251.1 690.0h.7M248.5 701.7h.7M250.9 696.5h.7M249.1 694.8h.7M254.7 695.2h.7M270.9 689.7h.7M250.5 692.9h.7M240.8 692.5h.7M257.6 687.5h.7M264.0 694.1h.7M249.5 691.7h.7M252.3 694.5h.7M261.6 689.9h.7M248.8 695.1h.7M249.7 693.2h.7M237.5 693.2h.7M246.3 695.3h.7M260.5 699.3h.7M266.6 692.0h.7M268.0 690.2h.7M247.6 702.6h.7M243.0 695.5h.7M249.8 699.4h.7M247.0 698.1h.7M248.6 691.7h.7M254.0 694.5h.7M242.2 694.4h.7M245.3 699.1h.7M256.0 694.2h.7M256.2 692.0h.7M256.1 691.7h.7M240.7 695.2h.7M253.8 694.3h.7M261.0 687.2h.7M250.2 696.2h.7M243.9 697.3h.7M248.6 692.0h.7M261.6 688.0h.7M260.6 691.1h.7M244.1 693.9h.7M245.8 693.5h.7M254.3 688.3h.7M262.6 694.4h.7M263.9 688.6h.7M232.4 697.6h.7M250.6 695.8h.7M247.7 695.4h.7M253.3 689.5h.7M267.4 687.3h.7M254.3 697.2h.7M245.4 696.2h.7M266.0 690.2h.7M261.0 693.2h.7M254.0 696.2h.7M250.1 694.4h.7M260.3 693.3h.7M256.3 689.9h.7M252.2 698.1h.7M259.8 693.6h.7M247.7 693.8h.7M255.8 697.8h.7M252.5 698.3h.7M249.6 698.8h.7M243.6 697.2h.7M243.1 698.8h.7M257.0 690.5h.7M245.8 694.8h.7M239.5 694.9h.7M244.8 698.7h.7M263.9 690.2h.7M249.7 695.8h.7M247.7 694.8h.7M259.2 693.4h.7M251.4 693.0h.7M264.6 689.6h.7M253.2 691.2h.7M247.1 696.1h.7M248.8 696.9h.7M252.7 690.2h.7M232.5 702.4h.7M247.2 700.2h.7M252.2 692.2h.7M256.9 692.5h.7M252.2 691.7h.7M257.5 696.4h.7M247.7 701.0h.7M247.3 696.5h.7M238.2 692.2h.7M270.0 694.3h.7M286.6 678.6h.7M277.4 688.8h.7M275.9 688.8h.7M266.0 690.2h.7M263.7 690.2h.7M278.8 684.2h.7M272.4 687.3h.7M275.3 691.2h.7M277.5 688.7h.7M260.7 691.1h.7M283.3 682.5h.7M270.8 685.9h.7M288.4 682.4h.7M267.8 692.3h.7M286.1 686.4h.7M284.9 685.8h.7M273.8 686.9h.7M270.0 687.4h.7M278.8 686.5h.7M276.0 689.9h.7M274.5 683.4h.7M267.2 686.5h.7M256.0 694.1h.7M263.1 687.1h.7M264.3 694.3h.7M272.0 692.4h.7M274.2 686.7h.7M280.7 688.4h.7M276.2 684.0h.7M270.5 685.2h.7M272.5 689.1h.7M289.9 688.5h.7M281.8 689.3h.7M277.3 697.0h.7M290.3 692.7h.7M278.9 688.3h.7M285.6 685.5h.7M278.1 683.6h.7M284.4 685.7h.7M283.1 684.8h.7M257.3 695.1h.7M286.7 680.0h.7M265.3 689.9h.7M272.5 682.8h.7M292.6 686.3h.7M268.8 683.5h.7M278.6 693.9h.7M283.3 689.6h.7M265.6 691.6h.7M260.0 699.4h.7M280.7 678.9h.7M256.5 695.2h.7M276.4 686.5h.7M281.2 693.2h.7M278.7 680.6h.7M273.4 683.9h.7M266.9 691.5h.7M273.3 684.8h.7M274.7 685.2h.7M280.3 685.6h.7M278.9 685.9h.7M282.4 685.3h.7M274.8 686.1h.7M276.3 681.4h.7M301.6 677.6h.7M275.9 686.0h.7M270.0 690.9h.7M269.8 688.0h.7M261.1 688.9h.7M263.2 697.8h.7M261.5 688.2h.7M276.8 692.4h.7M257.9 687.7h.7M276.1 688.8h.7M260.7 685.9h.7M265.2 693.5h.7M274.4 690.7h.7M273.8 688.2h.7M281.0 685.7h.7M277.2 684.1h.7M268.8 691.4h.7M272.4 686.1h.7M281.4 687.9h.7M274.7 685.4h.7M283.8 694.0h.7M266.6 685.1h.7M267.0 687.1h.7M262.1 687.6h.7M283.3 688.5h.7M289.6 686.2h.7M270.0 693.2h.7M268.7 688.6h.7M263.0 695.8h.7M284.9 683.3h.7M271.6 689.0h.7M276.8 690.3h.7M275.4 689.2h.7M259.7 691.4h.7M256.8 699.6h.7M288.7 686.3h.7M285.8 691.7h.7M284.1 679.6h.7M272.6 680.4h.7M266.6 686.1h.7M274.6 689.4h.7M265.4 689.8h.7M277.5 686.6h.7M272.9 680.1h.7M270.3 692.1h.7M277.2 682.0h.7M271.9 689.7h.7M264.9 693.3h.7M266.6 689.2h.7M273.6 696.1h.7M271.4 686.9h.7M281.8 684.2h.7M276.6 679.5h.7M277.6 687.0h.7M261.7 696.6h.7M272.2 688.0h.7M261.5 686.2h.7M268.9 684.4h.7M279.5 689.6h.7M268.3 684.3h.7M270.7 685.5h.7M276.3 688.1h.7M270.4 689.5h.7M285.0 690.8h.7M269.4 692.1h.7M272.2 685.0h.7M287.4 685.5h.7M276.0 688.8h.7M273.0 684.8h.7M292.3 685.8h.7M277.2 690.6h.7M287.4 683.4h.7M280.5 685.1h.7M281.0 685.2h.7M298.9 679.4h.7M279.7 688.1h.7M271.2 692.3h.7M273.7 686.8h.7M274.6 685.3h.7M286.5 686.6h.7M284.4 680.3h.7M277.3 684.5h.7M275.4 692.2h.7M277.2 686.6h.7M285.8 688.2h.7M293.1 675.9h.7M277.9 685.5h.7M265.8 691.0h.7M263.0 683.6h.7M265.6 689.8h.7M293.3 679.9h.7M262.9 684.6h.7M271.1 688.2h.7M276.1 682.5h.7M267.0 682.3h.7M276.3 682.0h.7M247.1 700.3h.7M279.6 687.7h.7M278.1 683.3h.7M285.3 681.1h.7M293.7 683.0h.7M256.1 696.6h.7M294.3 681.2h.7M285.3 684.0h.7M268.3 680.8h.7M287.0 682.7h.7M278.4 682.9h.7M265.5 694.6h.7M270.7 687.7h.7M262.0 692.5h.7M282.4 684.0h.7M272.7 684.3h.7M288.7 681.6h.7M273.1 694.3h.7M272.4 683.2h.7M265.4 689.5h.7M292.5 683.4h.7M272.4 691.6h.7M287.7 681.4h.7M289.0 686.7h.7M279.2 678.3h.7M276.6 692.3h.7M271.9 696.9h.7M275.4 684.2h.7M280.7 687.2h.7M283.1 684.7h.7M287.8 682.1h.7M276.0 683.2h.7M266.7 691.1h.7M268.1 688.4h.7M272.7 689.5h.7M282.5 688.4h.7M285.1 685.6h.7M269.3 684.0h.7M271.3 686.2h.7M256.4 699.3h.7M256.2 694.8h.7M280.4 685.5h.7M300.9 680.2h.7M267.0 696.5h.7M266.7 685.3h.7M264.6 688.8h.7M275.2 689.0h.7M259.4 693.8h.7M297.4 678.7h.7M273.4 690.9h.7M287.0 682.0h.7M265.0 687.3h.7M285.9 687.8h.7M252.8 687.0h.7M262.2 686.4h.7M278.9 687.5h.7M294.7 684.8h.7M276.0 691.8h.7M265.7 685.7h.7M275.1 691.2h.7M258.3 696.1h.7M283.5 683.6h.7M276.5 686.5h.7M275.6 690.6h.7M266.6 694.1h.7M283.6 688.6h.7M254.8 687.4h.7M281.8 683.8h.7M267.8 687.4h.7M261.1 691.1h.7M267.4 687.9h.7M279.6 682.3h.7M286.2 676.7h.7M300.3 675.5h.7M280.7 689.5h.7M274.7 690.6h.7M273.7 682.0h.7M278.3 691.0h.7M269.2 683.6h.7M268.6 691.0h.7M277.8 691.0h.7M280.4 688.1h.7M254.4 702.0h.7M275.3 690.9h.7M271.2 688.5h.7M275.4 693.4h.7M290.2 685.6h.7M295.0 680.5h.7M280.1 684.8h.7M288.0 684.2h.7M284.8 691.2h.7M253.7 702.1h.7M278.1 685.9h.7M255.3 692.8h.7M251.4 695.4h.7M273.1 695.0h.7M271.5 692.8h.7M286.8 691.8h.7M272.3 691.5h.7M259.3 688.7h.7M272.1 688.8h.7M262.5 690.2h.7M282.1 684.2h.7M273.3 685.3h.7M289.1 690.1h.7M277.0 687.0h.7M292.0 684.6h.7M268.1 685.2h.7M268.9 697.7h.7M268.9 700.2h.7M274.9 687.2h.7M288.5 683.0h.7M278.8 683.1h.7M262.2 689.2h.7M277.2 684.9h.7M254.8 695.7h.7M273.3 687.5h.7M268.7 681.8h.7M291.3 681.4h.7M280.4 691.4h.7M286.6 685.3h.7M275.1 689.1h.7M284.3 687.3h.7M270.4 691.0h.7M278.9 689.3h.7M277.1 692.3h.7M277.0 690.6h.7M275.4 685.8h.7M265.3 690.3h.7M280.5 690.9h.7M274.1 686.4h.7M269.8 694.2h.7M276.1 685.9h.7M282.6 681.0h.7M276.2 687.5h.7M273.6 684.3h.7M285.1 691.0h.7M261.4 692.5h.7M281.6 694.1h.7M270.7 685.9h.7M274.9 695.2h.7M275.7 688.7h.7M293.2 674.9h.7M252.8 697.9h.7M282.9 680.6h.7M280.3 686.6h.7M277.2 684.4h.7M270.4 686.2h.7M275.5 687.0h.7M292.3 685.1h.7M258.9 694.3h.7M289.7 684.6h.7M286.1 684.5h.7M282.2 682.5h.7M283.1 680.6h.7M288.2 678.6h.7M253.3 696.4h.7M273.2 688.9h.7M279.4 686.6h.7M265.9 691.5h.7M278.6 688.7h.7M295.4 679.3h.7M275.7 689.8h.7M270.4 685.1h.7M269.2 693.6h.7M272.2 691.0h.7M267.5 691.9h.7M268.1 687.1h.7M276.2 687.8h.7M290.1 677.6h.7M280.2 692.2h.7M289.0 682.4h.7M268.0 688.3h.7M278.1 687.8h.7M278.6 689.1h.7M264.0 687.2h.7M262.4 687.0h.7M274.0 689.4h.7M301.0 682.1h.7M275.2 693.0h.7M267.5 691.5h.7M285.0 687.8h.7M279.1 685.5h.7M262.3 691.3h.7M268.9 692.3h.7M273.6 690.4h.7M258.5 696.4h.7M266.3 685.0h.7M260.9 690.0h.7M286.5 687.1h.7M263.0 691.9h.7M273.9 682.7h.7M264.8 683.7h.7M266.1 681.2h.7M266.8 687.1h.7M266.8 687.5h.7M286.9 683.2h.7M277.5 690.0h.7M284.2 687.7h.7M269.3 685.8h.7M267.0 688.7h.7M275.0 687.7h.7M286.2 684.3h.7M293.4 686.2h.7M270.1 692.6h.7M245.6 701.8h.7M279.2 688.2h.7M257.8 702.2h.7M272.4 688.3h.7M286.5 683.8h.7M266.3 693.0h.7M264.6 693.8h.7M276.4 691.6h.7M262.6 696.2h.7M278.0 694.2h.7M268.3 696.6h.7M282.2 688.7h.7M267.6 692.2h.7M281.9 683.0h.7M263.2 688.8h.7M290.0 684.1h.7M284.6 686.2h.7M276.2 688.4h.7M270.8 693.6h.7M276.8 688.3h.7M260.8 693.4h.7M268.1 688.3h.7M285.6 680.9h.7M273.0 690.9h.7M286.8 682.6h.7M278.3 688.0h.7M263.5 683.8h.7M255.3 696.1h.7M276.0 682.9h.7M268.5 688.5h.7M271.3 689.0h.7M297.6 678.4h.7M276.5 684.8h.7M268.6 686.8h.7M272.6 686.7h.7M278.6 687.7h.7M265.9 697.6h.7M263.0 692.9h.7M297.2 678.8h.7M288.5 689.0h.7M278.5 680.4h.7M289.5 684.0h.7M269.4 694.2h.7M267.6 694.0h.7M269.4 691.6h.7M264.0 689.9h.7M265.6 688.3h.7M276.9 686.8h.7M276.9 692.0h.7M273.8 681.7h.7M272.0 689.2h.7M285.4 688.6h.7M284.7 684.3h.7M281.6 680.9h.7M288.2 685.6h.7M280.2 685.1h.7M275.6 685.4h.7M280.8 681.5h.7M284.9 687.0h.7M295.7 681.7h.7M274.0 689.0h.7M275.4 687.5h.7M263.7 687.4h.7M269.2 688.7h.7M262.9 687.5h.7M272.1 691.5h.7M273.0 691.0h.7M284.9 687.8h.7M270.7 687.8h.7M256.0 691.3h.7M279.8 682.7h.7M288.8 689.0h.7M271.2 692.4h.7M260.5 688.6h.7M271.2 689.2h.7M273.1 685.5h.7M295.1 683.0h.7M277.9 689.6h.7M276.8 686.6h.7M269.3 683.9h.7M290.3 680.1h.7M258.0 690.2h.7M258.6 700.0h.7M278.7 691.9h.7M289.8 685.6h.7M280.8 683.7h.7M274.1 686.1h.7M275.4 685.4h.7M287.9 686.9h.7M273.9 682.4h.7M282.0 689.1h.7M274.3 683.7h.7M279.4 690.4h.7M255.4 695.9h.7M256.5 693.8h.7M292.8 683.0h.7M279.9 685.4h.7M274.9 696.4h.7M288.6 682.8h.7M271.1 689.2h.7M297.4 682.0h.7M286.3 683.3h.7M262.0 696.6h.7M274.2 685.4h.7M267.9 687.7h.7M268.8 684.4h.7M287.2 685.7h.7M284.9 683.8h.7M278.5 687.5h.7M287.0 687.3h.7M278.7 684.6h.7M262.8 688.8h.7M268.5 688.0h.7M262.4 697.7h.7M277.7 680.0h.7M263.9 686.6h.7M277.4 691.1h.7M265.0 693.2h.7M272.2 692.9h.7M288.9 684.9h.7M282.3 685.8h.7M271.2 685.0h.7M278.3 686.8h.7M271.1 688.9h.7M273.1 684.9h.7M269.6 693.7h.7M272.6 693.7h.7M263.3 686.7h.7M276.3 690.4h.7M268.3 692.2h.7M284.5 689.0h.7M273.9 688.2h.7M258.3 693.1h.7M277.8 692.2h.7M262.1 688.9h.7M264.9 694.2h.7M249.4 691.8h.7M295.9 684.1h.7M261.5 691.8h.7M283.6 687.4h.7M272.8 685.9h.7M283.4 685.5h.7M283.2 686.9h.7M270.3 694.5h.7M270.0 691.0h.7M268.6 689.1h.7M272.5 686.4h.7M277.4 691.9h.7M293.8 687.4h.7M273.3 693.7h.7M279.2 693.1h.7M262.3 697.1h.7M269.0 693.9h.7M270.3 692.6h.7M272.2 682.2h.7M265.2 690.1h.7M275.2 680.0h.7M262.9 689.0h.7M272.9 689.4h.7M266.7 685.1h.7M278.1 685.9h.7M284.0 683.5h.7M281.5 682.9h.7M277.7 687.5h.7M279.5 683.3h.7M273.8 685.4h.7M273.4 690.7h.7M305.1 679.1h.7M282.2 686.2h.7M286.4 686.2h.7M285.5 686.1h.7M299.2 685.6h.7M257.9 694.2h.7M275.8 680.0h.7M266.4 689.0h.7M267.6 690.7h.7M257.0 696.0h.7M282.8 686.9h.7M271.7 689.0h.7M270.4 693.4h.7M280.1 693.5h.7M271.4 694.2h.7M269.3 689.1h.7M264.6 693.0h.7M274.5 690.4h.7M290.0 683.3h.7M278.9 690.0h.7M274.5 686.3h.7M278.6 688.7h.7M282.9 688.6h.7M268.4 691.6h.7M287.4 682.7h.7M278.7 684.7h.7M276.7 693.6h.7M276.8 684.1h.7M278.5 687.7h.7M286.3 679.8h.7M265.9 690.5h.7M259.5 696.7h.7M254.8 691.2h.7M260.3 690.1h.7M283.1 687.7h.7M284.4 687.3h.7M254.7 695.2h.7M256.6 691.8h.7M271.1 687.3h.7M280.0 683.7h.7M292.4 684.9h.7M286.9 687.1h.7M284.0 685.2h.7M294.8 678.4h.7M279.7 686.6h.7M272.8 689.8h.7M267.6 693.3h.7M283.0 686.0h.7M282.5 682.1h.7M257.0 691.4h.7M272.7 697.5h.7M272.8 692.3h.7M283.6 692.9h.7M276.3 689.9h.7M273.1 685.6h.7M265.0 688.3h.7M289.4 684.7h.7M273.5 688.5h.7M269.4 689.6h.7M274.7 690.4h.7M284.2 679.5h.7M277.4 692.1h.7M264.9 690.2h.7M276.8 691.4h.7M281.1 685.4h.7M280.1 690.1h.7M279.0 693.3h.7M279.3 683.1h.7M267.3 689.9h.7M273.0 690.8h.7M278.7 693.0h.7M283.2 690.8h.7M267.5 688.8h.7M282.0 686.3h.7M281.4 687.0h.7M268.9 695.8h.7M286.6 679.1h.7M269.0 689.9h.7M281.9 685.7h.7M261.5 695.0h.7M273.1 692.8h.7M278.2 690.6h.7M283.5 688.6h.7M270.1 693.1h.7M277.2 683.0h.7M271.2 688.0h.7M279.9 689.0h.7M264.1 693.9h.7M274.6 684.5h.7M283.5 682.9h.7M263.3 694.2h.7M284.2 683.0h.7M285.8 688.3h.7M270.1 696.5h.7M274.7 689.0h.7M251.4 697.4h.7M269.1 691.4h.7M258.2 697.2h.7M289.8 690.3h.7M245.8 698.9h.7M278.7 676.4h.7M268.0 689.9h.7M289.5 680.8h.7M277.4 687.2h.7M279.0 685.5h.7M284.3 688.7h.7M261.8 696.0h.7M267.9 689.3h.7M286.6 685.0h.7M281.1 689.1h.7M281.4 684.3h.7M265.9 693.3h.7M283.0 687.0h.7M273.6 691.6h.7M275.2 683.3h.7M278.3 688.9h.7M283.2 682.6h.7M268.0 691.4h.7M271.0 689.1h.7M284.9 686.6h.7M293.7 683.6h.7M292.6 686.6h.7M301.0 680.5h.7M274.8 692.8h.7M270.5 688.0h.7M278.2 688.6h.7M261.8 693.1h.7M272.7 688.9h.7M277.5 686.9h.7M286.5 686.5h.7M274.0 688.9h.7M286.2 687.7h.7M288.5 683.8h.7M277.3 694.6h.7M275.6 694.0h.7M284.3 684.0h.7M262.1 694.4h.7M269.0 687.7h.7M258.8 697.3h.7M277.0 687.8h.7M279.9 687.7h.7M277.0 689.6h.7M273.3 679.9h.7M283.4 687.3h.7M276.3 693.5h.7M262.2 682.2h.7M290.8 685.1h.7M259.7 691.5h.7M282.2 682.0h.7M281.6 693.8h.7M289.8 683.8h.7M279.3 683.8h.7M277.4 686.5h.7M266.2 686.3h.7M295.2 682.6h.7M265.9 689.6h.7M290.8 689.3h.7M269.9 690.6h.7M284.9 684.2h.7M264.4 688.2h.7M276.1 685.3h.7M263.2 691.1h.7M285.3 687.6h.7M273.8 695.4h.7M268.2 690.1h.7M262.5 694.8h.7M274.8 682.6h.7M267.8 696.8h.7M283.2 686.3h.7M284.6 679.9h.7M267.8 685.9h.7M267.8 689.2h.7M281.2 690.0h.7M285.7 694.5h.7M271.1 689.5h.7M281.0 683.7h.7M273.1 690.3h.7M267.2 692.3h.7M288.1 680.5h.7M253.3 695.1h.7M265.6 691.7h.7M271.5 690.4h.7M287.1 687.5h.7M272.4 685.0h.7M251.2 687.9h.7M268.0 690.7h.7M269.1 688.0h.7M259.9 687.1h.7M258.6 695.3h.7M256.0 696.3h.7M266.6 692.6h.7M277.9 689.9h.7M287.3 681.7h.7M265.7 689.4h.7M267.7 692.6h.7M274.1 688.4h.7M279.3 685.1h.7M286.1 678.3h.7M277.5 689.0h.7M267.5 687.9h.7M284.1 684.2h.7M256.0 689.0h.7M285.1 681.9h.7M288.1 688.9h.7M273.0 690.5h.7M266.8 689.1h.7M268.1 692.1h.7M262.2 691.4h.7M275.5 689.6h.7M253.9 688.1h.7M266.2 689.8h.7M276.3 688.2h.7M295.0 684.3h.7M280.8 684.5h.7M282.7 688.1h.7M281.6 685.6h.7M281.1 691.4h.7M267.0 682.9h.7M283.0 688.1h.7M272.6 687.1h.7M302.3 678.2h.7M262.8 690.0h.7M279.8 684.4h.7M271.0 690.2h.7M270.6 689.7h.7M274.4 684.4h.7M275.6 683.7h.7M284.1 682.0h.7M272.5 682.4h.7M270.4 685.0h.7M289.6 683.1h.7M280.0 680.4h.7M262.5 691.1h.7M261.3 696.0h.7M270.8 689.7h.7M277.8 686.6h.7M282.5 683.3h.7M278.4 691.1h.7M276.9 687.8h.7M271.5 689.2h.7M281.4 685.1h.7M258.1 693.5h.7M273.3 690.1h.7M275.1 693.3h.7M262.9 688.2h.7M281.2 682.5h.7M278.0 687.0h.7M255.4 696.1h.7M288.2 684.6h.7M260.9 694.8h.7M264.5 690.6h.7M278.8 684.1h.7M258.1 692.5h.7M274.3 685.2h.7M267.0 692.8h.7M273.8 686.6h.7M268.8 690.3h.7M275.6 687.1h.7M261.1 690.8h.7M268.5 690.1h.7M286.0 687.8h.7M281.0 686.5h.7M271.5 690.1h.7M270.0 688.2h.7M266.5 690.3h.7M273.9 694.5h.7M280.1 685.1h.7M282.2 684.1h.7M284.5 687.7h.7M302.8 675.8h.7M273.9 687.8h.7M277.5 689.5h.7M265.2 688.4h.7M277.6 690.4h.7M263.8 686.0h.7M285.8 687.5h.7M285.2 681.5h.7M272.7 689.3h.7M278.9 686.3h.7M274.2 691.6h.7M270.5 687.4h.7M270.5 687.5h.7M275.9 686.9h.7M270.4 694.1h.7M277.6 686.0h.7M286.8 682.5h.7M274.6 687.7h.7M269.1 688.3h.7M275.5 682.9h.7M270.9 689.9h.7M277.3 688.2h.7M297.1 683.5h.7M273.3 688.0h.7M274.6 689.4h.7M271.8 693.9h.7M264.1 693.3h.7M279.5 682.7h.7M280.7 688.0h.7M268.5 697.5h.7M281.4 684.8h.7M270.1 686.9h.7M277.1 687.4h.7M261.2 688.5h.7M267.8 688.7h.7M271.2 686.8h.7M280.7 689.3h.7M275.3 680.5h.7M273.1 690.3h.7M273.9 689.1h.7M275.6 682.7h.7M250.6 697.3h.7M269.7 690.8h.7M271.7 688.3h.7M287.6 680.1h.7M274.5 684.4h.7M275.3 689.4h.7M280.8 686.6h.7M261.5 692.7h.7M283.1 688.7h.7M295.0 683.7h.7M264.9 689.2h.7M275.4 691.2h.7M263.8 694.3h.7M280.8 683.2h.7M280.4 683.7h.7M274.6 687.0h.7M276.9 683.4h.7M279.6 679.3h.7M270.8 687.3h.7M289.6 685.3h.7M270.0 686.4h.7M274.9 685.8h.7M295.8 672.4h.7M275.2 679.6h.7M284.5 682.4h.7M289.8 681.6h.7M284.9 685.6h.7M285.8 684.7h.7M246.4 694.0h.7M259.8 695.6h.7M279.7 686.5h.7M278.9 687.3h.7M269.2 696.1h.7M276.9 686.7h.7M260.7 690.1h.7M274.7 687.4h.7M270.1 689.2h.7M264.0 691.2h.7M259.9 689.5h.7M267.6 693.0h.7M279.3 686.8h.7M263.7 689.9h.7M282.2 689.9h.7M260.6 690.7h.7M275.7 688.8h.7M274.7 690.2h.7M260.9 697.3h.7M263.8 691.4h.7M279.6 690.4h.7M283.3 688.3h.7M286.8 683.8h.7M281.8 691.0h.7M267.5 685.5h.7M265.1 695.6h.7M286.5 683.2h.7M277.1 688.9h.7M284.7 678.7h.7M269.4 688.7h.7M302.2 688.4h.7M297.4 690.0h.7M306.1 694.6h.7M294.8 691.0h.7M315.5 701.7h.7M300.4 678.4h.7M301.1 685.6h.7M306.4 678.1h.7M298.4 689.9h.7M296.3 695.9h.7M291.2 678.4h.7M297.2 694.2h.7M297.5 683.3h.7M306.0 689.6h.7M295.8 688.8h.7M298.0 692.5h.7M301.0 681.7h.7M296.2 684.7h.7M302.7 690.7h.7M293.5 686.4h.7M302.2 696.3h.7M301.8 702.8h.7M300.1 693.5h.7M297.4 680.2h.7M300.7 691.6h.7M302.3 689.0h.7M297.3 681.6h.7M297.6 691.4h.7M307.2 662.7h.7M304.5 696.1h.7M309.5 690.8h.7M305.0 684.4h.7M299.2 691.9h.7M291.5 681.8h.7M301.4 677.6h.7M300.3 676.5h.7M301.3 688.1h.7M295.5 680.6h.7M296.0 670.7h.7M296.8 688.8h.7M309.1 683.9h.7M298.5 698.5h.7M313.2 684.1h.7M307.9 696.9h.7M303.8 680.3h.7M292.6 692.3h.7M317.7 686.5h.7M311.9 702.4h.7M290.3 683.3h.7M311.4 695.3h.7M304.1 687.8h.7M304.7 683.0h.7M319.1 679.0h.7M286.1 689.0h.7M310.9 684.1h.7M299.4 680.0h.7M299.3 680.0h.7M292.1 676.5h.7M295.6 702.2h.7M299.4 689.3h.7M317.0 683.0h.7M292.2 691.9h.7M290.4 690.4h.7M308.7 679.5h.7M295.8 700.9h.7M291.7 682.6h.7M301.7 685.4h.7M293.3 700.1h.7M295.4 690.4h.7M296.7 686.1h.7M289.3 695.0h.7M296.5 697.7h.7M290.9 684.1h.7M303.5 688.7h.7M294.8 686.8h.7M289.9 688.3h.7M279.4 689.2h.7M310.3 694.7h.7M306.4 684.6h.7M303.6 684.7h.7M299.1 687.1h.7M273.9 695.0h.7M303.3 694.3h.7M292.5 693.2h.7M303.5 670.6h.7M286.3 688.2h.7M294.7 687.7h.7M294.9 699.4h.7M285.2 677.3h.7M292.3 677.3h.7M295.4 687.6h.7M289.5 690.7h.7M310.0 696.3h.7M315.3 696.6h.7M299.6 701.6h.7M305.3 702.3h.7M298.4 671.7h.7M290.9 689.3h.7M304.1 686.3h.7M307.6 679.0h.7M294.5 695.5h.7M300.3 688.7h.7M310.8 696.4h.7M293.8 689.5h.7M286.8 687.8h.7M303.0 674.6h.7M312.0 703.3h.7M303.8 695.1h.7M311.5 686.6h.7M308.0 690.9h.7M288.2 681.0h.7M295.6 696.2h.7M300.8 695.6h.7M296.4 678.2h.7M303.0 686.5h.7M309.2 679.5h.7M298.4 677.0h.7M303.7 689.9h.7M296.9 683.0h.7M288.3 681.6h.7M309.5 685.3h.7M309.7 681.3h.7M299.4 684.5h.7M298.0 693.9h.7M284.2 693.7h.7M305.4 688.0h.7M300.6 686.3h.7M305.3 688.5h.7M293.5 689.2h.7M307.4 690.9h.7M300.2 689.6h.7M296.2 684.5h.7M285.5 686.6h.7M307.6 685.0h.7M293.1 694.9h.7M301.3 689.1h.7M303.6 693.4h.7M299.7 681.6h.7M313.4 688.5h.7M294.1 689.4h.7M309.2 677.2h.7M310.1 687.0h.7M315.3 693.1h.7M299.2 697.6h.7M309.8 685.3h.7M301.8 684.1h.7M307.1 677.3h.7M298.7 671.7h.7M304.5 671.0h.7M291.9 690.1h.7M297.3 684.6h.7M292.6 684.5h.7M286.6 690.5h.7M306.2 693.9h.7M299.7 697.4h.7M303.6 695.3h.7M303.0 688.3h.7M294.2 668.0h.7M304.9 687.2h.7M315.2 672.9h.7M306.5 680.8h.7M300.0 681.3h.7M302.7 687.8h.7M306.7 689.2h.7M303.7 697.8h.7M304.0 687.0h.7M309.5 687.2h.7M303.2 685.6h.7M295.0 665.2h.7M305.3 679.3h.7M305.6 701.8h.7M290.0 694.7h.7M299.3 691.5h.7M291.0 688.3h.7M301.2 698.9h.7M316.4 690.5h.7M297.3 705.0h.7M299.3 687.6h.7M300.8 691.6h.7M305.5 683.7h.7M299.2 702.4h.7M312.3 691.5h.7M302.2 686.3h.7M307.9 684.2h.7M301.0 684.6h.7M295.4 688.4h.7M300.2 683.7h.7M299.6 688.6h.7M296.6 683.1h.7M299.1 693.5h.7M308.5 689.5h.7M298.1 687.9h.7M314.7 695.1h.7M292.9 687.7h.7M296.1 685.4h.7M287.3 688.3h.7M289.8 683.7h.7M311.7 695.7h.7M293.5 680.3h.7M293.2 673.8h.7M292.7 686.1h.7M292.2 693.9h.7M299.7 684.1h.7M313.5 693.5h.7M300.7 702.2h.7M310.1 682.8h.7M302.6 684.8h.7M289.2 702.6h.7M311.6 678.5h.7M303.9 675.6h.7M308.3 687.7h.7M297.9 697.7h.7M300.2 686.2h.7M307.1 685.8h.7M306.8 688.2h.7M306.5 692.9h.7M306.2 680.5h.7M314.5 686.9h.7M313.6 683.6h.7M298.1 686.1h.7M309.0 684.9h.7M303.3 676.1h.7M296.5 689.9h.7M299.3 673.8h.7M304.0 680.7h.7M315.0 686.7h.7M317.5 693.3h.7M303.7 684.5h.7M299.3 691.6h.7M285.2 695.8h.7M291.1 686.2h.7M279.1 691.7h.7M305.9 690.3h.7M302.6 685.3h.7M301.3 697.5h.7M296.9 692.0h.7M305.8 686.3h.7M302.0 689.8h.7M296.8 701.4h.7M308.4 672.4h.7M302.1 696.1h.7M306.5 681.2h.7M302.1 678.9h.7M292.1 686.3h.7M301.6 700.6h.7M302.9 696.3h.7M290.8 679.2h.7M296.4 701.7h.7M289.8 675.9h.7M299.5 697.4h.7M287.5 686.2h.7M289.6 699.4h.7M305.5 690.3h.7M299.8 686.3h.7M301.2 683.1h.7M293.3 679.5h.7M300.2 681.9h.7M306.9 671.8h.7M304.5 692.3h.7M309.6 686.1h.7M288.4 680.9h.7M308.9 685.7h.7M296.9 683.6h.7M299.6 686.3h.7M288.0 683.4h.7M307.9 699.4h.7M299.1 684.1h.7M310.6 686.7h.7M290.9 687.1h.7M305.5 700.2h.7M296.3 692.3h.7M297.5 697.0h.7M302.1 690.1h.7M292.4 685.6h.7M297.6 660.1h.7M306.7 688.0h.7M298.5 685.3h.7M300.3 690.0h.7M289.9 689.0h.7M301.0 688.3h.7M288.5 687.0h.7M290.1 690.8h.7M310.3 694.8h.7M297.4 683.9h.7M295.7 690.8h.7M294.9 683.9h.7M280.6 681.4h.7M294.0 683.9h.7M309.5 677.5h.7M289.7 692.7h.7M292.4 686.8h.7M301.4 688.2h.7M294.0 695.2h.7M311.7 680.2h.7M297.9 695.4h.7M298.4 680.3h.7M296.7 694.5h.7M292.3 690.0h.7M303.0 683.0h.7M304.4 693.2h.7M307.8 695.3h.7M288.5 695.0h.7M304.6 695.6h.7M293.4 695.1h.7M302.9 679.0h.7M309.9 682.0h.7M292.2 691.1h.7M295.4 690.9h.7M298.1 690.3h.7M306.4 687.8h.7M306.8 694.6h.7M293.6 694.7h.7M304.9 689.1h.7M308.7 700.9h.7M306.0 676.7h.7M303.5 687.1h.7M298.0 690.8h.7M297.5 700.7h.7M302.2 688.2h.7M306.2 694.3h.7M309.3 693.0h.7M299.8 689.2h.7M283.4 676.7h.7M308.2 685.6h.7M314.2 702.1h.7M290.4 690.5h.7M322.5 682.0h.7M303.2 686.3h.7M298.3 686.0h.7M300.0 694.0h.7M293.9 692.0h.7M294.7 692.2h.7M302.6 682.1h.7M301.2 682.4h.7M293.6 697.2h.7M286.0 692.5h.7M305.6 683.5h.7M308.6 695.2h.7M290.1 692.2h.7M303.8 682.4h.7M304.6 694.0h.7M294.5 672.7h.7M303.3 682.4h.7M286.8 685.2h.7M281.6 685.5h.7M311.8 666.0h.7M303.7 681.0h.7M296.9 681.1h.7M305.1 688.1h.7M294.1 678.0h.7M296.8 697.1h.7M290.7 691.4h.7M302.8 672.6h.7M308.7 687.8h.7M317.5 701.7h.7M298.2 686.9h.7M292.3 677.4h.7M306.3 686.2h.7M297.0 686.8h.7M305.4 695.5h.7M300.1 686.6h.7M300.9 704.3h.7M283.9 679.1h.7M303.9 689.3h.7M309.8 698.4h.7M315.6 681.9h.7M305.0 686.3h.7M307.8 689.6h.7M307.1 682.4h.7M301.5 684.2h.7M298.1 684.6h.7M292.1 696.9h.7M302.5 696.7h.7M292.4 672.9h.7M295.1 687.0h.7M306.4 696.5h.7M309.8 700.2h.7M305.9 689.1h.7M294.2 693.6h.7M296.3 681.9h.7M304.8 689.9h.7M306.9 682.6h.7M309.4 691.0h.7M298.9 682.3h.7M291.7 677.5h.7M311.2 677.1h.7M305.2 686.3h.7M295.7 684.5h.7M299.4 695.3h.7M304.6 688.2h.7M289.4 674.2h.7M314.9 680.3h.7M287.9 697.0h.7M288.4 694.0h.7M307.5 690.2h.7M307.8 677.3h.7M290.6 686.7h.7M300.2 687.5h.7M303.8 682.4h.7M283.5 691.4h.7M298.4 694.6h.7M316.5 688.8h.7M304.7 681.2h.7M307.3 690.9h.7M302.1 695.4h.7M291.3 692.6h.7M303.8 700.7h.7M286.0 687.5h.7M317.4 685.0h.7M296.7 702.2h.7M319.9 689.1h.7M294.6 683.5h.7M297.1 681.5h.7M293.8 689.5h.7M300.5 691.9h.7M300.4 678.7h.7M306.0 690.1h.7M295.6 686.0h.7M302.7 688.8h.7M299.1 694.2h.7M308.5 685.7h.7M300.0 679.5h.7M298.8 691.9h.7M306.9 689.5h.7M299.5 682.5h.7M301.8 679.6h.7M301.2 688.3h.7M293.0 690.7h.7M298.5 692.9h.7M296.4 691.9h.7M312.4 689.6h.7M306.3 683.1h.7M297.4 673.3h.7M299.0 679.3h.7M301.0 672.0h.7M293.4 688.8h.7M303.2 675.2h.7M306.3 689.4h.7M278.5 680.9h.7M304.2 690.0h.7M303.7 695.6h.7M300.9 694.8h.7M297.8 683.1h.7M311.9 692.9h.7M307.7 683.3h.7M302.3 693.7h.7M291.2 686.4h.7M298.2 685.8h.7M294.6 678.2h.7M303.5 690.0h.7M309.1 687.6h.7M294.8 676.7h.7M300.8 685.7h.7M312.4 681.0h.7M289.2 686.2h.7M293.1 699.2h.7M301.0 684.9h.7M300.0 697.9h.7M292.7 691.9h.7M289.7 686.5h.7M294.9 690.5h.7M301.3 697.5h.7M305.4 683.3h.7M289.7 681.7h.7M296.7 686.3h.7M294.1 696.5h.7M307.4 685.9h.7M296.2 686.2h.7M299.7 687.9h.7M287.4 684.7h.7M285.4 688.3h.7M305.3 679.7h.7M301.3 683.3h.7M294.6 703.4h.7M307.0 691.8h.7M296.6 691.3h.7M298.5 691.6h.7M293.0 687.5h.7M297.0 677.0h.7M313.3 694.4h.7M293.9 676.5h.7M294.4 681.5h.7M295.3 676.2h.7M293.5 688.5h.7M303.3 672.5h.7M300.0 680.3h.7M291.9 685.5h.7M294.6 693.5h.7M305.5 685.6h.7M295.0 702.1h.7M314.7 691.1h.7M298.8 695.9h.7M311.4 683.9h.7M314.2 686.8h.7M308.6 684.0h.7M300.6 684.4h.7M300.2 696.0h.7M293.0 685.7h.7M304.3 684.3h.7M316.1 676.5h.7M320.0 682.8h.7M307.7 700.8h.7M304.2 676.9h.7M297.4 688.6h.7M304.5 695.8h.7M308.9 699.7h.7M292.5 695.9h.7M286.2 689.2h.7M291.6 673.9h.7M307.3 687.8h.7M307.9 675.5h.7M290.4 687.2h.7M294.7 688.6h.7M295.1 685.3h.7M290.9 698.2h.7M297.5 678.6h.7M305.4 691.8h.7M301.7 689.8h.7M296.9 687.0h.7M282.4 675.7h.7M290.2 690.3h.7M309.7 686.7h.7M297.9 697.0h.7M297.1 693.2h.7M303.4 677.5h.7M302.5 689.6h.7M290.9 679.8h.7M289.9 698.9h.7M316.8 693.6h.7M312.5 677.3h.7M311.2 703.7h.7M312.9 680.5h.7M308.6 687.1h.7M308.6 682.9h.7M300.1 683.5h.7M303.8 687.2h.7M308.9 694.6h.7M303.3 687.7h.7M297.6 688.1h.7M306.0 689.1h.7M302.3 687.7h.7M299.4 682.7h.7M285.1 692.6h.7M304.5 680.3h.7M301.2 649.5h.7M295.6 669.3h.7M326.2 640.7h.7M308.0 651.9h.7M327.9 637.2h.7M283.8 659.7h.7M300.8 671.0h.7M287.6 670.5h.7M305.4 650.6h.7M304.2 669.7h.7M300.1 668.9h.7M304.6 659.0h.7M318.9 655.8h.7M321.4 661.6h.7M326.9 642.4h.7M309.6 669.0h.7M309.2 659.7h.7M331.8 631.7h.7M300.1 646.7h.7M316.8 655.4h.7M312.2 664.7h.7M314.6 649.7h.7M306.1 644.6h.7M296.1 654.2h.7M294.0 670.0h.7M319.1 649.6h.7M324.5 629.5h.7M304.1 664.6h.7M313.8 658.0h.7M306.7 667.2h.7M335.0 651.9h.7M289.2 680.8h.7M310.1 664.3h.7M300.9 667.9h.7M300.3 641.3h.7M314.6 655.2h.7M288.6 667.4h.7M314.2 661.2h.7M304.9 673.7h.7M286.0 669.1h.7M297.2 672.1h.7M319.0 641.8h.7M324.5 643.5h.7M297.0 655.8h.7M296.1 668.7h.7M288.7 670.6h.7M304.2 666.0h.7M297.7 665.5h.7M319.3 656.4h.7M314.7 671.4h.7M306.5 648.3h.7M305.4 665.3h.7M337.3 641.7h.7M302.3 668.2h.7M295.1 679.9h.7M319.2 650.3h.7M332.8 647.8h.7M304.4 648.1h.7M294.1 660.4h.7M323.2 645.9h.7M325.6 651.6h.7M314.0 636.8h.7M326.2 652.8h.7M301.4 647.9h.7M316.2 651.0h.7M337.8 644.6h.7M300.7 656.9h.7M312.5 652.5h.7M323.1 645.1h.7M323.0 645.0h.7M317.8 654.8h.7M299.1 653.7h.7M313.7 664.5h.7M325.6 665.3h.7M296.5 655.5h.7M317.5 638.2h.7M316.0 655.6h.7M305.2 671.5h.7M298.0 672.3h.7M292.6 662.4h.7M312.8 656.5h.7M292.9 650.0h.7M295.1 688.0h.7M285.8 684.2h.7M295.5 659.1h.7M310.8 667.6h.7M311.1 633.7h.7M306.4 662.5h.7M337.9 648.0h.7M279.7 663.9h.7M313.7 640.3h.7M286.1 662.3h.7M309.9 653.2h.7M307.4 675.9h.7M323.5 657.0h.7M322.7 651.4h.7M322.9 654.8h.7M321.6 648.5h.7M288.7 683.0h.7M310.2 647.3h.7M316.5 639.6h.7M310.0 654.5h.7M305.7 653.1h.7M303.4 656.7h.7M316.0 644.0h.7M294.3 649.5h.7M307.8 663.0h.7M319.1 658.3h.7M287.1 660.6h.7M329.4 660.0h.7M325.1 655.8h.7M315.7 672.1h.7M300.3 674.0h.7M307.9 647.3h.7M325.6 646.1h.7M324.8 634.9h.7M323.4 661.1h.7M303.9 652.6h.7M308.2 634.0h.7M307.7 665.1h.7M319.0 657.9h.7M300.2 651.2h.7M315.8 649.5h.7M308.6 666.2h.7M315.5 673.9h.7M295.8 662.4h.7M326.9 639.7h.7M322.2 652.9h.7M336.9 640.7h.7M297.9 663.7h.7M309.8 641.7h.7M336.0 642.5h.7M318.9 639.6h.7M319.9 640.9h.7M323.7 640.2h.7M313.7 653.0h.7M297.0 678.0h.7M312.6 664.9h.7M313.6 659.7h.7M291.7 674.4h.7M312.4 663.9h.7M314.2 672.1h.7M332.1 646.6h.7M302.4 663.7h.7M321.6 648.7h.7M309.6 649.7h.7M327.4 641.5h.7M299.4 651.2h.7M328.7 644.8h.7M292.2 663.8h.7M319.2 640.6h.7M302.9 648.4h.7M312.9 665.5h.7M302.3 657.2h.7M300.7 654.7h.7M327.5 649.4h.7M322.0 646.2h.7M297.2 655.7h.7M302.7 646.9h.7M293.5 670.4h.7M311.4 661.6h.7M302.6 665.2h.7M302.4 659.0h.7M324.1 624.4h.7M318.7 662.6h.7M305.4 653.3h.7M326.7 653.6h.7M293.1 667.3h.7M308.2 647.2h.7M312.1 644.7h.7M296.4 642.0h.7M308.7 687.2h.7M303.3 652.3h.7M320.6 644.1h.7M309.9 642.6h.7M329.9 638.9h.7M297.8 676.9h.7M309.7 643.7h.7M313.5 645.8h.7M304.3 657.2h.7M321.9 657.5h.7M289.2 670.9h.7M325.7 635.8h.7M310.2 652.1h.7M303.4 638.5h.7M319.3 649.4h.7M320.7 652.9h.7M318.6 648.0h.7M310.7 670.1h.7M302.0 655.6h.7M277.2 671.0h.7M334.0 649.6h.7M299.9 649.1h.7M303.3 672.8h.7M302.4 661.7h.7M304.8 659.6h.7M300.3 686.6h.7M303.7 656.7h.7M319.0 660.0h.7M308.4 663.3h.7M311.7 664.4h.7M296.2 666.3h.7M310.6 648.0h.7M312.1 670.7h.7M309.3 643.4h.7M303.2 657.6h.7M335.7 658.8h.7M302.3 673.1h.7M306.3 653.6h.7M315.2 658.2h.7M320.7 646.8h.7M314.1 676.0h.7M328.7 646.8h.7M313.4 642.4h.7M306.6 653.3h.7M295.9 664.5h.7M290.0 683.6h.7M308.2 653.8h.7M321.2 657.0h.7M321.5 645.7h.7M322.9 656.7h.7M309.5 647.2h.7M310.6 656.6h.7M330.7 641.9h.7M311.8 657.3h.7M335.8 643.8h.7M326.9 636.8h.7M325.8 669.3h.7M295.0 664.5h.7M308.7 647.9h.7M320.8 658.0h.7M310.0 641.7h.7M315.7 654.6h.7M323.2 645.7h.7M333.3 641.4h.7M310.0 662.2h.7M299.5 669.0h.7M313.4 657.1h.7M304.6 654.3h.7M299.4 635.0h.7M288.5 658.6h.7M318.8 652.2h.7M307.6 660.4h.7M310.7 657.0h.7M324.0 637.4h.7M313.9 645.7h.7M320.6 635.4h.7M293.8 664.5h.7M330.7 669.4h.7M311.7 658.4h.7M322.6 644.9h.7M308.9 678.3h.7M299.1 671.4h.7M316.0 658.4h.7M285.9 675.0h.7M311.0 653.8h.7M289.4 657.8h.7M291.7 662.7h.7M308.2 674.4h.7M302.7 655.4h.7M308.8 653.4h.7M326.2 646.4h.7M336.6 643.6h.7M307.5 664.9h.7M328.6 661.5h.7M317.7 638.2h.7M322.0 653.5h.7M309.0 644.1h.7M312.9 644.8h.7M310.7 652.3h.7M302.5 677.8h.7M318.5 647.2h.7M292.6 664.8h.7M310.6 648.2h.7M293.2 644.9h.7M301.0 661.4h.7M300.7 660.7h.7M315.8 653.5h.7M273.3 669.8h.7M286.8 656.5h.7M318.7 658.6h.7M285.0 665.6h.7M324.0 635.9h.7M320.2 659.9h.7M309.9 672.3h.7M307.0 646.2h.7M316.9 652.5h.7M325.1 652.0h.7M308.8 654.5h.7M298.5 665.8h.7M302.9 667.9h.7M323.2 656.6h.7M309.2 635.8h.7M332.3 647.5h.7M319.6 653.5h.7M291.1 666.4h.7M306.7 662.2h.7M284.4 667.3h.7M308.5 652.1h.7M311.2 649.0h.7M304.5 660.6h.7M309.1 640.5h.7M314.5 657.2h.7M320.6 623.8h.7M305.0 653.4h.7M295.4 667.6h.7M300.6 658.4h.7M313.5 660.0h.7M316.0 657.3h.7M323.3 658.2h.7M315.1 647.9h.7M298.6 678.8h.7M300.1 664.1h.7M292.3 665.2h.7M295.0 673.0h.7M309.5 663.5h.7M291.8 678.0h.7M299.8 660.9h.7M288.5 670.7h.7M296.0 677.9h.7M313.8 652.3h.7M300.3 664.8h.7M320.9 646.6h.7M317.6 660.4h.7M302.7 654.5h.7M324.5 642.7h.7M290.4 660.3h.7M289.5 650.5h.7M317.6 659.8h.7M331.3 639.6h.7M301.9 670.2h.7M310.7 662.5h.7M313.8 661.7h.7M300.9 685.9h.7M309.5 652.2h.7M319.6 644.3h.7M323.1 649.5h.7M315.4 646.6h.7M314.9 648.6h.7M290.5 680.5h.7M308.9 662.2h.7M307.4 674.1h.7M298.3 651.5h.7M291.7 669.9h.7M308.9 668.6h.7M291.5 657.0h.7M309.8 663.9h.7M298.9 674.2h.7M309.0 622.4h.7M301.7 671.7h.7M295.5 655.7h.7M323.4 648.9h.7M326.5 661.4h.7M307.1 636.0h.7M298.0 665.6h.7M311.0 651.0h.7M304.6 658.6h.7M324.9 641.3h.7M313.9 670.4h.7M330.0 633.5h.7M315.6 661.7h.7M307.4 669.3h.7M322.8 643.5h.7M291.1 667.7h.7M322.0 638.1h.7M334.2 648.5h.7M316.8 659.9h.7M311.5 661.2h.7M293.6 659.7h.7M305.2 658.9h.7M320.1 653.3h.7M309.4 665.2h.7M319.6 661.6h.7M305.0 646.8h.7M305.1 674.6h.7M324.2 645.2h.7M313.8 647.4h.7M308.3 637.0h.7M318.5 667.9h.7M278.6 673.3h.7M269.3 676.4h.7M263.7 684.3h.7M279.5 674.1h.7M245.5 686.0h.7M262.9 666.8h.7M289.4 679.0h.7M239.8 661.7h.7M264.1 665.0h.7M267.8 696.0h.7M314.8 674.7h.7M282.1 682.2h.7M268.3 663.2h.7M286.2 673.6h.7M276.9 680.7h.7M258.0 688.6h.7M271.3 676.9h.7M263.6 680.8h.7M285.3 670.6h.7M278.9 671.6h.7M251.7 672.4h.7M279.3 679.5h.7M286.4 669.7h.7M265.6 675.7h.7M279.5 674.1h.7M255.9 662.7h.7M287.9 683.7h.7M260.2 687.0h.7M269.2 678.7h.7M289.2 671.2h.7M258.5 661.2h.7M274.8 678.7h.7M283.2 680.0h.7M271.8 684.3h.7M254.8 678.2h.7M277.9 674.1h.7M296.2 678.6h.7M290.5 682.3h.7M267.5 690.7h.7M286.9 675.3h.7M268.4 666.8h.7M268.0 673.2h.7M273.4 671.7h.7M278.8 674.5h.7M246.4 671.1h.7M256.7 664.9h.7M266.4 682.5h.7M253.4 659.0h.7M267.8 699.1h.7M261.4 677.3h.7" stroke="#e2261c" stroke-width="0.8" stroke-opacity="0.5" fill="none"/>
<path d="M290.40 609.30V706.30M222.70 667.70H343.70" stroke="#8f8f8f" stroke-width="0.8" fill="none"/>
<text font-size="6.1" text-anchor="start" font-weight="bold" fill="#111" stroke="#111" stroke-width="0.2" transform="translate(223.50,616.30)" >B1</text>
<text font-size="6.1" text-anchor="start" font-weight="bold" fill="#111" stroke="#111" stroke-width="0.2" transform="translate(225.30,623.30)" >0.2%</text>
<text font-size="6.1" text-anchor="start" font-weight="bold" fill="#111" stroke="#111" stroke-width="0.2" transform="translate(291.20,616.30)" >B2</text>
<text font-size="6.1" text-anchor="start" font-weight="bold" fill="#111" stroke="#111" stroke-width="0.2" transform="translate(293.00,623.30)" >4.8%</text>
<text font-size="6.1" text-anchor="start" font-weight="bold" fill="#111" stroke="#111" stroke-width="0.2" transform="translate(223.50,674.70)" >B3</text>
<text font-size="6.1" text-anchor="start" font-weight="bold" fill="#111" stroke="#111" stroke-width="0.2" transform="translate(225.30,681.70)" >75.6%</text>
<text font-size="6.1" text-anchor="start" font-weight="bold" fill="#111" stroke="#111" stroke-width="0.2" transform="translate(291.20,674.70)" >B4</text>
<text font-size="6.1" text-anchor="start" font-weight="bold" fill="#111" stroke="#111" stroke-width="0.2" transform="translate(293.00,681.70)" >19.4%</text>
<text font-size="5.6" text-anchor="middle" font-weight="normal" fill="#222" stroke="#222" stroke-width="0.15" transform="translate(253.45,713.70)" >10<tspan font-size="3.6" dy="-2.3">0</tspan></text>
<text font-size="5.6" text-anchor="end" font-weight="normal" fill="#222" stroke="#222" stroke-width="0.15" transform="translate(217.80,683.95)" >10<tspan font-size="3.6" dy="-2.3">0</tspan></text>
<text font-size="5.6" text-anchor="middle" font-weight="normal" fill="#222" stroke="#222" stroke-width="0.15" transform="translate(283.70,713.70)" >10<tspan font-size="3.6" dy="-2.3">1</tspan></text>
<text font-size="5.6" text-anchor="end" font-weight="normal" fill="#222" stroke="#222" stroke-width="0.15" transform="translate(217.80,659.70)" >10<tspan font-size="3.6" dy="-2.3">1</tspan></text>
<text font-size="5.6" text-anchor="middle" font-weight="normal" fill="#222" stroke="#222" stroke-width="0.15" transform="translate(313.95,713.70)" >10<tspan font-size="3.6" dy="-2.3">2</tspan></text>
<text font-size="5.6" text-anchor="end" font-weight="normal" fill="#222" stroke="#222" stroke-width="0.15" transform="translate(217.80,635.45)" >10<tspan font-size="3.6" dy="-2.3">2</tspan></text>
<text font-size="5.6" text-anchor="middle" font-weight="normal" fill="#222" stroke="#222" stroke-width="0.15" transform="translate(344.20,713.70)" >10<tspan font-size="3.6" dy="-2.3">3</tspan></text>
<text font-size="5.6" text-anchor="end" font-weight="normal" fill="#222" stroke="#222" stroke-width="0.15" transform="translate(217.80,611.20)" >10<tspan font-size="3.6" dy="-2.3">3</tspan></text>
<path d="M222.7 706.3v2M222.7 706.3h-2M231.8 706.3v1.2M222.7 699.0h-1.2M237.1 706.3v1.2M222.7 694.7h-1.2M240.9 706.3v1.2M222.7 691.7h-1.2M243.8 706.3v1.2M222.7 689.3h-1.2M246.2 706.3v1.2M222.7 687.4h-1.2M248.3 706.3v1.2M222.7 685.8h-1.2M250.0 706.3v1.2M222.7 684.4h-1.2M251.6 706.3v1.2M222.7 683.2h-1.2M252.9 706.3v2M222.7 682.0h-2M262.1 706.3v1.2M222.7 674.8h-1.2M267.4 706.3v1.2M222.7 670.5h-1.2M271.2 706.3v1.2M222.7 667.5h-1.2M274.1 706.3v1.2M222.7 665.1h-1.2M276.5 706.3v1.2M222.7 663.2h-1.2M278.5 706.3v1.2M222.7 661.6h-1.2M280.3 706.3v1.2M222.7 660.2h-1.2M281.8 706.3v1.2M222.7 658.9h-1.2M283.2 706.3v2M222.7 657.8h-2M292.3 706.3v1.2M222.7 650.5h-1.2M297.6 706.3v1.2M222.7 646.2h-1.2M301.4 706.3v1.2M222.7 643.2h-1.2M304.3 706.3v1.2M222.7 640.8h-1.2M306.7 706.3v1.2M222.7 638.9h-1.2M308.8 706.3v1.2M222.7 637.3h-1.2M310.5 706.3v1.2M222.7 635.9h-1.2M312.1 706.3v1.2M222.7 634.7h-1.2M313.4 706.3v2M222.7 633.5h-2M322.6 706.3v1.2M222.7 626.3h-1.2M327.9 706.3v1.2M222.7 622.0h-1.2M331.7 706.3v1.2M222.7 619.0h-1.2M334.6 706.3v1.2M222.7 616.6h-1.2M337.0 706.3v1.2M222.7 614.7h-1.2M339.0 706.3v1.2M222.7 613.1h-1.2M340.8 706.3v1.2M222.7 611.7h-1.2M342.3 706.3v1.2M222.7 610.4h-1.2" stroke="#555" stroke-width="0.5" fill="none"/>
<rect x="363.60" y="608.70" width="121.60" height="97.50" fill="none" stroke="#3a3a3a" stroke-width="0.9"/>
<path d="M387.8 698.1h.7M402.7 691.9h.7M400.7 689.7h.7M392.8 690.9h.7M392.7 692.8h.7M393.1 691.2h.7M393.0 694.8h.7M386.6 693.6h.7M381.6 695.9h.7M394.4 693.8h.7M392.4 698.3h.7M388.6 696.4h.7M397.8 695.0h.7M394.3 694.5h.7M406.7 691.3h.7M388.1 697.3h.7M404.3 696.2h.7M391.5 697.3h.7M395.2 694.3h.7M396.4 695.6h.7M392.3 699.7h.7M388.2 699.7h.7M408.1 697.4h.7M393.4 693.9h.7M378.4 697.6h.7M410.8 686.1h.7M378.8 700.1h.7M396.2 688.5h.7M390.7 696.0h.7M379.0 700.4h.7M380.6 700.6h.7M392.8 692.5h.7M378.3 696.8h.7M390.4 694.7h.7M386.4 695.4h.7M398.2 690.7h.7M389.5 696.6h.7M391.0 697.5h.7M403.7 691.2h.7M392.9 686.0h.7M388.4 697.5h.7M382.2 700.8h.7M376.1 702.2h.7M387.0 692.9h.7M387.3 695.0h.7M383.0 692.7h.7M387.0 698.6h.7M394.4 698.1h.7M386.3 695.0h.7M388.5 695.9h.7M394.8 699.2h.7M396.8 694.2h.7M402.0 690.2h.7M380.6 699.2h.7M392.5 695.0h.7M398.6 692.3h.7M390.2 696.2h.7M396.3 696.6h.7M392.1 695.5h.7M371.7 702.7h.7M378.5 697.6h.7M411.4 689.5h.7M378.4 702.4h.7M386.6 695.4h.7M389.8 697.3h.7M397.3 693.2h.7M400.0 690.3h.7M396.5 691.9h.7M396.7 691.7h.7M387.6 700.0h.7M382.1 693.5h.7M395.7 693.1h.7M387.6 695.3h.7M408.1 688.2h.7M388.9 695.9h.7M383.5 696.5h.7M394.9 691.4h.7M400.0 689.6h.7M389.9 696.1h.7M416.5 684.2h.7M393.3 701.7h.7M386.3 699.1h.7M392.8 690.4h.7M394.2 691.6h.7M391.7 690.4h.7M396.9 686.6h.7M389.7 698.9h.7M395.2 693.0h.7M389.1 694.1h.7M412.8 690.0h.7M390.9 692.8h.7M387.2 697.5h.7M386.1 693.6h.7M386.6 694.8h.7M392.4 693.2h.7M389.5 693.1h.7M400.9 693.0h.7M388.5 696.3h.7M390.6 690.4h.7M389.6 700.0h.7M395.0 697.4h.7M385.6 691.8h.7M385.4 700.0h.7M383.0 694.4h.7M399.8 692.2h.7M389.4 696.4h.7M391.7 693.9h.7M393.0 692.4h.7M390.7 696.9h.7M382.5 696.1h.7M381.9 699.1h.7M395.9 696.6h.7M399.3 696.1h.7M396.7 691.4h.7M398.5 690.6h.7M409.7 691.6h.7M395.7 690.3h.7M399.6 696.4h.7M378.4 696.0h.7M387.2 693.8h.7M402.1 698.7h.7M382.5 699.8h.7M388.9 699.3h.7M371.4 698.0h.7M400.7 690.6h.7M400.5 691.3h.7M400.1 694.6h.7M387.6 693.4h.7M389.6 698.6h.7M390.9 693.0h.7M417.6 684.5h.7M389.2 696.9h.7M382.6 696.7h.7M387.6 691.3h.7M394.6 690.8h.7M384.9 699.8h.7M382.0 698.6h.7M400.4 695.7h.7M394.7 693.4h.7M379.7 697.8h.7M394.5 692.6h.7M383.1 699.2h.7M382.5 698.0h.7M387.1 690.8h.7M403.9 693.8h.7M395.3 689.8h.7M389.9 695.9h.7M384.9 701.0h.7M374.7 700.5h.7M375.7 693.7h.7M380.6 698.8h.7M385.1 694.2h.7M383.5 692.2h.7M383.6 693.6h.7M388.2 694.3h.7M371.5 697.2h.7M400.4 691.3h.7M390.0 692.9h.7M385.0 695.8h.7M379.7 696.7h.7M377.1 698.7h.7M377.8 699.5h.7M398.5 688.3h.7M395.8 692.4h.7M399.6 691.2h.7M388.0 694.4h.7M400.3 687.0h.7M396.4 693.7h.7M386.3 695.0h.7M397.7 695.5h.7M403.8 689.9h.7M375.1 696.5h.7M388.6 693.9h.7M400.0 699.2h.7M393.2 688.9h.7M398.5 691.1h.7M390.5 697.1h.7M393.1 693.9h.7M392.5 696.5h.7M395.2 699.7h.7M366.2 697.8h.7M385.5 698.2h.7M391.9 696.9h.7M378.7 696.7h.7M395.3 693.5h.7M386.9 696.3h.7M403.3 685.8h.7M402.8 692.8h.7M383.3 698.2h.7M390.5 698.2h.7M383.7 699.0h.7M382.9 697.3h.7M395.7 693.3h.7M395.3 691.9h.7M398.6 691.4h.7M384.5 695.7h.7M389.7 692.4h.7M396.5 693.0h.7M395.0 689.4h.7M379.6 696.3h.7M382.2 696.1h.7M394.6 697.0h.7M401.9 694.5h.7M384.5 697.6h.7M386.0 697.3h.7M381.7 700.5h.7M393.5 693.2h.7M379.3 698.0h.7M386.0 696.4h.7M384.5 694.5h.7M395.1 698.0h.7M380.1 696.4h.7M393.3 693.6h.7M386.7 701.8h.7M383.5 697.3h.7M386.3 695.4h.7M371.9 701.4h.7M388.5 692.4h.7M403.5 691.1h.7M385.3 693.4h.7M398.7 693.0h.7M387.7 691.5h.7M383.0 697.4h.7M390.0 689.0h.7M383.2 697.0h.7M411.7 687.9h.7M372.4 700.9h.7M386.4 691.8h.7M394.7 693.1h.7M382.5 692.7h.7M389.2 695.3h.7M376.0 700.8h.7M380.0 701.1h.7M392.8 693.7h.7M392.9 692.5h.7M389.7 699.7h.7M385.6 698.2h.7M383.0 696.3h.7M397.9 689.6h.7M392.9 688.0h.7M381.0 695.6h.7M397.3 695.3h.7M382.9 696.0h.7M391.7 689.9h.7M393.6 698.0h.7M400.1 690.9h.7M386.9 692.8h.7M386.2 694.9h.7M395.6 693.8h.7M382.8 698.8h.7M397.2 691.5h.7M388.2 694.9h.7M377.0 698.1h.7M395.6 699.2h.7M391.7 693.6h.7M389.0 696.8h.7M396.6 690.9h.7M391.8 696.3h.7M374.2 702.3h.7M388.5 697.7h.7M389.9 694.2h.7M389.6 695.8h.7M397.2 692.5h.7M381.3 694.7h.7M382.4 698.7h.7M382.6 700.9h.7M391.3 694.3h.7M400.7 691.4h.7M387.9 697.6h.7M396.2 690.6h.7M409.9 692.1h.7M380.3 696.5h.7M397.7 693.8h.7M397.2 700.2h.7M397.8 699.0h.7M395.8 691.7h.7M402.4 690.1h.7M398.0 695.0h.7M383.6 694.3h.7M389.0 696.3h.7M401.1 692.7h.7M405.7 694.0h.7M385.4 694.2h.7M391.2 693.2h.7M389.8 697.3h.7M392.7 697.2h.7M385.1 693.6h.7M379.4 692.1h.7M387.1 695.8h.7M389.1 695.2h.7M407.0 688.1h.7M388.5 693.9h.7M383.4 700.4h.7M390.5 698.6h.7M381.7 702.3h.7M408.9 688.4h.7M390.7 694.5h.7M395.2 690.1h.7M394.5 696.2h.7M386.0 689.4h.7M385.4 694.9h.7M396.9 691.7h.7M381.6 698.7h.7M393.8 696.3h.7M391.2 697.9h.7M394.9 688.8h.7M392.4 696.8h.7M391.1 699.0h.7M387.2 697.7h.7M381.0 697.0h.7M386.5 692.9h.7M380.4 697.8h.7M394.3 692.3h.7M381.0 694.5h.7M396.9 690.1h.7M400.0 688.0h.7M393.1 696.3h.7M400.6 691.5h.7M384.8 692.1h.7M398.1 692.9h.7M387.2 694.5h.7M392.9 694.5h.7M400.3 686.6h.7M397.6 691.9h.7M390.3 694.1h.7M390.2 697.2h.7M392.7 690.3h.7M390.4 694.7h.7M393.9 694.4h.7M390.3 698.0h.7M382.2 703.1h.7M386.4 692.9h.7M397.2 696.6h.7M400.9 696.9h.7M394.8 694.2h.7M394.0 694.2h.7M386.6 700.5h.7M405.5 691.7h.7M389.1 693.9h.7M377.5 695.9h.7M386.9 695.7h.7M383.0 691.1h.7M396.2 698.7h.7M374.0 698.2h.7M397.9 690.0h.7M379.5 697.5h.7M389.1 693.5h.7M404.2 696.4h.7M396.3 693.6h.7M388.4 698.0h.7M389.2 699.6h.7M401.1 691.0h.7M397.2 698.1h.7M396.4 691.0h.7M389.0 694.4h.7M392.2 694.8h.7M388.4 698.0h.7M402.1 690.9h.7M379.5 698.6h.7M391.4 696.2h.7M385.9 697.0h.7M384.1 699.7h.7M404.8 689.3h.7M370.6 698.1h.7M387.2 696.5h.7M391.6 696.4h.7M413.2 688.6h.7M388.5 696.9h.7M376.7 700.5h.7M386.6 691.9h.7M384.8 697.9h.7M398.3 697.1h.7M395.1 692.1h.7M396.1 693.8h.7M410.3 684.9h.7M404.5 694.4h.7M394.9 694.0h.7M387.2 693.2h.7M379.2 703.7h.7M399.2 695.3h.7M394.6 688.8h.7M389.5 695.9h.7M401.0 690.1h.7M394.0 693.8h.7M392.0 692.7h.7M394.7 694.6h.7M376.9 701.8h.7M409.4 688.6h.7M401.0 690.2h.7M387.6 701.1h.7M393.5 699.1h.7M394.2 697.4h.7M390.6 699.5h.7M406.2 693.9h.7M387.4 695.0h.7M384.4 698.5h.7M396.1 692.1h.7M399.3 691.8h.7M406.6 694.2h.7M404.7 690.2h.7M384.1 691.5h.7M397.2 690.7h.7M402.8 693.1h.7M398.2 690.0h.7M387.3 696.6h.7M398.0 690.0h.7M394.8 692.1h.7M398.6 693.0h.7M389.7 696.8h.7M401.4 692.3h.7M401.9 690.0h.7M394.4 691.3h.7M393.8 692.0h.7M392.4 696.8h.7M384.4 691.7h.7M390.7 696.9h.7M394.0 692.0h.7M398.8 692.8h.7M398.2 691.2h.7M395.6 697.7h.7M386.8 695.4h.7M397.0 695.5h.7M394.9 694.1h.7M379.6 697.8h.7M381.8 697.6h.7M373.4 703.3h.7M407.2 693.0h.7M385.3 695.7h.7M399.1 695.4h.7M386.5 699.7h.7M397.8 695.3h.7M389.2 695.7h.7M386.3 696.8h.7M386.7 699.6h.7M392.3 695.6h.7M394.6 695.4h.7M380.7 701.2h.7M392.7 693.3h.7M384.3 694.8h.7M387.1 696.1h.7M385.1 696.9h.7M393.1 692.8h.7M409.5 690.8h.7M394.6 694.8h.7M390.6 697.2h.7M402.8 692.4h.7M385.1 698.1h.7M374.8 699.2h.7M390.4 696.3h.7M379.9 696.4h.7M383.7 695.3h.7M396.4 693.4h.7M387.0 699.4h.7M391.8 689.2h.7M383.4 698.0h.7M395.1 694.9h.7M393.7 691.9h.7M390.8 691.7h.7M384.9 693.8h.7M384.9 695.4h.7M389.7 693.1h.7M400.0 691.8h.7M403.5 695.1h.7M381.8 699.6h.7M380.3 701.5h.7M393.9 691.5h.7M374.0 697.6h.7M380.5 700.4h.7M381.4 696.4h.7M395.0 694.1h.7M393.2 693.7h.7M396.8 691.0h.7M395.5 690.5h.7M392.4 691.3h.7M389.4 696.9h.7M400.8 687.6h.7M384.9 693.4h.7M400.5 690.3h.7M396.5 692.2h.7M379.6 697.7h.7M382.0 699.0h.7M397.5 697.3h.7M382.9 701.2h.7M398.6 688.1h.7M408.4 695.9h.7M382.7 697.6h.7M380.3 696.8h.7M392.4 696.3h.7M384.4 696.2h.7M383.6 697.6h.7M396.2 693.9h.7M400.0 695.1h.7M393.8 697.6h.7M381.1 696.9h.7M376.9 697.9h.7M387.2 698.1h.7M387.4 693.8h.7M390.2 694.7h.7M395.0 691.5h.7M379.0 692.9h.7M400.0 689.3h.7M387.2 692.5h.7M397.9 691.7h.7M400.6 690.7h.7M393.3 696.5h.7M398.6 689.8h.7M388.0 695.3h.7M376.4 700.1h.7M394.0 695.7h.7M379.9 697.8h.7M394.4 697.1h.7M386.8 697.7h.7M406.5 690.2h.7M387.7 694.7h.7M379.1 696.4h.7M403.8 689.4h.7M389.4 698.7h.7M395.4 694.6h.7M388.3 695.1h.7M391.1 696.8h.7M391.6 697.5h.7M376.2 700.5h.7M386.8 695.9h.7M387.6 697.5h.7M390.1 696.9h.7M384.6 696.8h.7M400.7 696.0h.7M388.2 695.9h.7M388.1 695.2h.7M391.1 698.3h.7M395.6 698.1h.7M403.1 688.6h.7M393.5 693.1h.7M378.3 694.6h.7M387.0 700.6h.7M391.7 694.2h.7M390.8 692.8h.7M392.4 694.3h.7M378.2 696.2h.7M417.5 690.9h.7M390.3 697.0h.7M383.4 696.8h.7M397.9 688.8h.7M385.3 695.0h.7M388.8 693.9h.7M393.2 697.3h.7M393.8 697.2h.7M399.3 691.4h.7M393.2 693.4h.7M396.2 692.8h.7M389.6 700.1h.7M389.7 690.8h.7M392.0 695.5h.7M387.1 696.0h.7M399.1 691.7h.7M389.6 693.2h.7M393.7 694.0h.7M383.9 696.1h.7M405.4 686.9h.7M380.3 698.3h.7M380.2 702.8h.7M379.4 693.8h.7M387.1 698.9h.7M397.4 695.1h.7M393.4 698.1h.7M376.9 698.8h.7M402.3 689.4h.7M393.6 697.8h.7M400.9 692.4h.7M405.7 693.1h.7M399.5 690.0h.7M385.2 694.1h.7M404.9 685.3h.7M376.8 700.3h.7M392.3 686.3h.7M388.0 694.7h.7M400.6 687.4h.7M387.0 698.8h.7M397.1 691.0h.7M388.9 691.2h.7M401.8 691.4h.7M401.0 695.0h.7M384.2 696.0h.7M396.2 695.1h.7M403.0 695.5h.7M393.7 696.3h.7M385.6 694.5h.7M395.9 694.8h.7M382.6 696.6h.7M385.0 694.7h.7M401.2 690.1h.7M386.1 697.6h.7M391.8 695.3h.7M380.0 697.3h.7M388.3 693.3h.7M386.9 695.1h.7M397.7 698.8h.7M392.1 698.9h.7M392.1 690.6h.7M391.7 698.4h.7M402.1 690.1h.7M408.6 689.1h.7M385.6 694.7h.7M402.5 693.6h.7M398.3 687.2h.7M390.9 694.7h.7M396.7 692.4h.7M400.5 691.0h.7M380.5 692.7h.7M401.1 694.9h.7M385.3 699.4h.7M390.0 694.9h.7M380.0 695.9h.7M392.2 695.3h.7M387.0 698.7h.7M402.5 690.2h.7M394.5 690.0h.7M394.6 691.5h.7M390.2 695.7h.7M389.5 698.3h.7M385.4 695.0h.7M393.9 694.3h.7M393.4 693.9h.7M385.2 698.2h.7M392.0 697.3h.7M401.7 691.7h.7M385.7 694.9h.7M386.4 690.5h.7M404.1 693.3h.7M409.4 689.4h.7M396.0 694.7h.7M390.9 697.8h.7M391.5 694.7h.7M392.7 688.4h.7M385.9 694.1h.7M404.2 693.8h.7M397.5 695.4h.7M390.0 699.9h.7M389.9 691.4h.7M396.3 697.2h.7M392.3 695.8h.7M398.9 697.6h.7M396.0 698.7h.7M393.7 700.3h.7M380.9 699.9h.7M393.7 694.8h.7M381.6 700.1h.7M390.0 692.5h.7M386.6 695.4h.7M392.3 692.3h.7M384.4 697.7h.7M390.9 700.6h.7M388.2 697.8h.7M404.9 691.5h.7M399.1 694.1h.7M391.9 699.4h.7M383.9 695.0h.7M377.9 697.6h.7M399.1 692.6h.7M397.8 691.5h.7M400.3 692.7h.7M387.8 700.3h.7M391.4 696.6h.7M392.4 696.7h.7M392.4 691.4h.7M393.7 695.8h.7M394.5 693.7h.7M405.4 689.9h.7M392.4 695.3h.7M383.2 693.5h.7M396.6 695.7h.7M392.6 690.3h.7M389.2 696.1h.7M396.2 697.2h.7M395.0 696.9h.7M404.2 685.7h.7M399.1 692.1h.7M395.2 694.7h.7M383.6 694.2h.7M394.8 693.7h.7M397.1 692.7h.7M407.9 690.6h.7M407.4 689.4h.7M395.7 697.1h.7M381.4 694.5h.7M394.6 697.5h.7M401.9 694.2h.7M399.5 690.0h.7M388.2 699.7h.7M387.2 695.2h.7M378.1 697.4h.7M379.2 698.6h.7M402.7 693.3h.7M392.7 693.6h.7M395.6 690.9h.7M387.9 701.7h.7M381.4 695.6h.7M380.7 700.7h.7M389.6 691.8h.7M381.8 700.1h.7M396.5 696.0h.7M390.9 697.6h.7M401.4 694.6h.7M379.1 692.2h.7M380.1 698.2h.7M379.8 694.5h.7M391.5 692.4h.7M381.4 699.8h.7M395.0 696.3h.7M398.3 697.4h.7M390.9 694.5h.7M377.7 697.2h.7M386.6 698.8h.7M396.3 697.9h.7M399.5 696.4h.7M395.2 694.4h.7M388.2 695.5h.7M383.8 697.6h.7M390.4 689.4h.7M370.3 697.4h.7M387.4 694.9h.7M401.0 691.0h.7M381.3 698.1h.7M398.7 697.8h.7M383.2 695.9h.7M387.7 699.8h.7M396.3 693.8h.7M396.5 692.7h.7M389.4 695.1h.7M387.1 695.0h.7M393.7 695.0h.7M402.3 694.8h.7M390.4 688.9h.7M379.6 696.0h.7M388.0 691.9h.7M388.0 695.8h.7M386.0 695.6h.7M390.1 693.1h.7M384.2 696.0h.7M392.9 691.5h.7M375.2 695.7h.7M394.7 689.6h.7M397.9 691.7h.7M391.8 692.5h.7M395.2 694.0h.7M393.6 688.9h.7M396.3 689.0h.7M388.2 696.9h.7M389.3 696.6h.7M392.0 694.8h.7M384.6 699.0h.7M399.3 691.5h.7M383.9 696.9h.7M385.0 696.5h.7M396.9 695.3h.7M402.0 693.7h.7M382.8 694.3h.7M394.8 699.2h.7M388.0 692.9h.7M401.3 692.2h.7M396.0 696.7h.7M383.3 695.5h.7M386.5 697.2h.7M395.7 692.4h.7M394.9 689.0h.7M393.4 695.2h.7M390.7 690.9h.7M389.9 692.1h.7M401.7 691.7h.7M389.1 694.9h.7M394.8 694.2h.7M394.7 691.4h.7M399.0 691.7h.7M396.4 694.2h.7M398.8 692.9h.7M379.6 694.2h.7M389.0 699.0h.7M387.5 695.7h.7M400.1 691.2h.7M393.0 695.1h.7M386.2 696.5h.7M398.6 696.0h.7M388.2 703.3h.7M393.3 693.5h.7M385.3 693.4h.7M396.8 685.6h.7M389.5 691.4h.7M389.4 695.0h.7M380.9 694.3h.7M400.2 691.3h.7M390.6 694.0h.7M396.9 696.8h.7M397.6 694.8h.7M394.9 690.7h.7M400.5 691.2h.7M384.0 695.3h.7M384.7 697.3h.7M396.1 697.1h.7M390.0 693.4h.7M388.6 692.1h.7M385.2 701.5h.7M384.9 694.9h.7M395.4 694.5h.7M396.4 691.2h.7M382.7 700.2h.7M385.6 695.7h.7M392.3 689.5h.7M389.2 693.4h.7M394.6 693.1h.7M373.8 700.7h.7M371.5 698.0h.7M385.5 694.3h.7M390.6 697.5h.7M384.1 694.6h.7M396.3 695.0h.7M396.1 694.6h.7M388.9 693.9h.7M387.1 698.1h.7M401.9 697.8h.7M382.9 695.9h.7M390.7 694.4h.7M382.2 702.7h.7M402.1 691.9h.7M387.3 695.6h.7M381.6 695.9h.7M396.5 698.1h.7M397.4 696.9h.7M382.8 687.8h.7M401.1 693.1h.7M390.1 699.6h.7M383.4 693.8h.7M385.1 700.5h.7M397.9 688.4h.7M403.2 692.1h.7M393.9 692.0h.7M404.9 692.9h.7M400.7 689.9h.7M396.0 693.9h.7M389.0 693.0h.7M385.4 692.8h.7M385.7 695.9h.7M395.1 689.6h.7M382.8 694.9h.7M378.3 696.8h.7M388.7 694.8h.7M393.8 696.8h.7M396.8 694.3h.7M395.2 691.7h.7M383.5 698.2h.7M395.0 700.0h.7M389.0 692.5h.7M392.9 693.1h.7M383.9 700.1h.7M405.4 692.7h.7M385.7 696.7h.7M390.3 691.1h.7M397.1 694.4h.7M400.3 691.2h.7M390.6 694.6h.7M377.6 704.7h.7M374.8 695.2h.7M388.0 691.1h.7M393.9 692.9h.7M391.3 695.4h.7M391.3 695.0h.7M389.6 696.3h.7M397.0 692.8h.7M387.4 694.5h.7M393.2 693.3h.7M387.9 691.3h.7M405.6 688.2h.7M403.7 694.3h.7M398.7 693.9h.7M394.6 694.9h.7M395.4 696.2h.7M402.6 689.6h.7M394.7 698.6h.7M401.6 689.7h.7M393.3 695.1h.7M392.9 688.2h.7M397.6 689.0h.7M407.8 693.0h.7M390.3 696.8h.7M392.1 693.2h.7M390.3 696.0h.7M384.8 698.3h.7M399.7 696.0h.7M400.2 696.5h.7M396.5 697.4h.7M391.6 696.0h.7M402.1 697.9h.7M388.4 691.4h.7M407.7 694.5h.7M405.3 694.3h.7M393.0 692.7h.7M383.7 700.6h.7M398.8 694.1h.7M382.5 695.4h.7M386.3 695.1h.7M368.8 700.5h.7M403.3 690.7h.7M391.4 695.7h.7M383.4 697.8h.7M384.8 695.1h.7M393.1 694.3h.7M391.9 692.2h.7M396.8 690.6h.7M397.7 692.1h.7M381.9 696.7h.7M382.9 695.2h.7M390.0 697.4h.7M397.4 694.9h.7M389.0 691.1h.7M389.4 694.4h.7M390.2 693.7h.7M387.1 698.1h.7M380.8 697.2h.7M401.0 690.6h.7M383.5 696.0h.7M388.5 696.3h.7M401.7 692.2h.7M395.5 692.3h.7M387.4 696.6h.7M385.9 699.5h.7M388.0 695.2h.7M383.0 695.5h.7M383.3 695.3h.7M377.3 697.9h.7M404.8 686.6h.7M404.7 691.6h.7M398.1 690.5h.7M407.0 688.4h.7M390.5 699.5h.7M381.1 690.5h.7M390.6 692.9h.7M383.5 694.0h.7M379.6 701.4h.7M400.7 688.9h.7M390.3 693.8h.7M399.8 690.6h.7M403.9 692.1h.7M384.9 696.0h.7M386.5 702.4h.7M392.3 693.3h.7M391.9 699.0h.7M383.5 691.8h.7M401.5 694.4h.7M387.5 695.5h.7M399.8 685.2h.7M401.2 692.2h.7M396.4 693.6h.7M415.6 687.7h.7M399.8 685.5h.7M391.4 697.1h.7M378.8 691.8h.7M391.8 697.7h.7M400.5 690.9h.7M393.8 690.2h.7M405.0 690.2h.7M401.2 691.9h.7M388.4 700.2h.7M384.1 700.2h.7M388.2 693.0h.7M384.4 699.6h.7M390.4 694.0h.7M379.0 700.9h.7M399.4 694.0h.7M397.2 684.1h.7M386.8 696.3h.7M391.9 693.1h.7M392.9 692.4h.7M385.8 692.4h.7M392.1 692.6h.7M387.0 699.8h.7M390.7 694.9h.7M378.7 696.1h.7M398.9 694.8h.7M391.4 694.3h.7M391.5 695.9h.7M388.4 688.3h.7M406.7 694.7h.7M389.8 699.3h.7M380.6 700.9h.7M392.5 697.1h.7M388.2 695.9h.7M395.7 696.9h.7M395.1 695.3h.7M386.3 700.9h.7M392.7 693.9h.7M388.4 692.0h.7M385.1 691.8h.7M392.6 694.3h.7M392.7 690.9h.7M387.6 693.8h.7M398.9 688.8h.7M378.8 701.3h.7M393.9 689.7h.7M401.8 696.9h.7M400.1 686.9h.7M392.0 692.2h.7M388.9 690.8h.7M404.9 689.8h.7M393.2 696.7h.7M395.9 695.0h.7M387.9 696.2h.7M389.2 688.7h.7M399.0 691.3h.7M386.8 694.6h.7M379.9 693.8h.7M376.5 699.4h.7M400.4 693.0h.7M381.8 700.7h.7M388.4 690.8h.7M375.9 698.7h.7M402.5 691.2h.7M385.9 695.2h.7M384.2 694.8h.7M393.0 692.4h.7M398.4 690.4h.7M396.6 694.6h.7M387.9 694.7h.7M388.4 700.3h.7M384.5 699.8h.7M399.0 692.1h.7M403.9 685.1h.7M392.9 694.8h.7M391.1 697.3h.7M387.7 695.1h.7M400.1 692.5h.7M382.7 698.4h.7M390.3 693.4h.7M395.4 691.7h.7M383.1 695.9h.7M389.4 695.4h.7M381.3 702.0h.7M396.4 694.1h.7M392.8 687.2h.7M398.3 690.3h.7M395.0 690.5h.7M398.8 691.6h.7M389.2 699.7h.7M398.9 689.2h.7M385.4 696.7h.7M389.1 697.6h.7M385.5 690.7h.7M383.6 696.0h.7M395.3 696.1h.7M400.9 693.4h.7M389.3 697.4h.7M390.1 693.7h.7M387.2 698.4h.7M402.8 696.1h.7M378.2 700.9h.7M382.0 695.9h.7M395.6 690.0h.7M381.1 694.9h.7M404.5 695.0h.7M383.8 696.9h.7M392.0 695.6h.7M385.3 700.3h.7M387.9 697.9h.7M377.5 699.0h.7M392.1 698.6h.7M370.2 701.1h.7M397.5 692.7h.7M401.5 698.7h.7M398.0 695.7h.7M401.8 693.8h.7M400.8 694.5h.7M385.5 693.1h.7M400.4 694.6h.7M385.6 696.2h.7M402.7 687.3h.7M383.7 698.5h.7M397.6 690.0h.7M383.0 697.1h.7M402.2 692.5h.7M372.4 702.0h.7M390.8 693.6h.7M381.7 700.4h.7M393.1 695.6h.7M393.8 695.5h.7M397.7 698.4h.7M382.5 696.5h.7M387.3 700.6h.7M388.7 690.7h.7M390.7 692.8h.7M385.0 694.9h.7M380.5 691.6h.7M406.6 691.1h.7M383.5 698.4h.7M401.6 687.5h.7M387.4 696.5h.7M384.2 697.7h.7M381.1 695.1h.7M390.0 696.4h.7M391.3 692.8h.7M388.0 689.4h.7M408.1 689.9h.7M388.6 696.2h.7M395.5 694.9h.7M385.5 691.3h.7M389.6 692.9h.7M386.5 695.9h.7M392.9 698.2h.7M389.8 690.1h.7M395.6 696.6h.7M377.8 699.5h.7M392.4 693.0h.7M392.3 695.7h.7M395.7 697.2h.7M390.8 694.9h.7M410.3 687.5h.7M388.7 694.3h.7M397.1 696.8h.7M380.3 700.8h.7M381.4 704.6h.7M385.6 699.3h.7M388.8 697.4h.7M384.9 696.6h.7M391.1 695.1h.7M397.3 692.2h.7M388.3 691.6h.7M389.8 693.7h.7M398.0 695.3h.7M385.1 697.5h.7M401.5 692.0h.7M381.5 704.1h.7M395.4 696.0h.7M411.0 688.2h.7M393.4 688.8h.7M394.9 695.2h.7M384.7 693.8h.7M389.5 694.5h.7M403.6 691.4h.7M389.7 694.7h.7M378.1 696.3h.7M380.1 697.6h.7M373.4 695.5h.7M393.0 688.3h.7M378.5 700.5h.7M380.3 697.2h.7M393.4 691.3h.7M377.4 702.3h.7M386.5 697.4h.7M384.8 697.3h.7M380.4 693.2h.7M382.6 694.9h.7M385.9 695.0h.7M394.4 692.6h.7M398.4 691.3h.7M396.2 697.5h.7M404.9 686.0h.7M404.8 686.7h.7M402.3 692.4h.7M393.7 691.5h.7M398.4 695.2h.7M386.5 694.1h.7M397.8 696.4h.7M397.1 692.4h.7M391.0 697.6h.7M397.7 696.7h.7M392.1 692.6h.7M393.3 695.7h.7M386.7 697.1h.7M384.2 697.1h.7M386.1 702.1h.7M400.5 693.6h.7M380.4 693.6h.7M396.5 693.2h.7M393.4 689.8h.7M378.9 697.9h.7M389.3 691.4h.7M384.5 698.6h.7M387.5 697.3h.7M404.2 693.0h.7M392.0 692.9h.7M400.7 688.6h.7M382.2 696.8h.7M379.2 700.3h.7M385.9 697.5h.7M388.5 694.7h.7M391.1 689.2h.7M382.2 695.4h.7M408.7 693.3h.7M396.7 690.6h.7M398.1 696.9h.7M397.0 701.2h.7M380.2 694.1h.7M388.8 692.5h.7M391.4 696.3h.7M390.8 695.2h.7M394.2 696.4h.7M385.7 694.1h.7M400.5 691.8h.7M384.3 697.2h.7M388.1 695.9h.7M390.4 696.8h.7M398.2 690.9h.7M381.2 701.7h.7M385.4 691.6h.7M375.7 698.1h.7M385.8 690.7h.7M383.3 693.5h.7M398.9 693.8h.7M390.8 691.2h.7M389.4 697.1h.7M392.2 697.7h.7M391.5 696.8h.7M394.5 692.4h.7M401.6 693.6h.7M397.5 690.3h.7M382.2 696.3h.7M384.4 698.1h.7M394.1 697.7h.7M395.6 690.6h.7M398.5 691.3h.7M385.0 696.4h.7M390.8 697.9h.7M413.5 691.1h.7M402.5 691.7h.7M393.6 692.8h.7M387.5 699.5h.7M394.5 695.4h.7M384.5 701.2h.7M389.5 693.3h.7M390.7 696.9h.7M396.9 697.8h.7M382.4 695.5h.7M403.3 698.7h.7M385.9 695.7h.7M378.5 695.2h.7M383.8 696.1h.7M381.4 699.7h.7M390.4 694.3h.7M398.3 692.5h.7M381.0 697.1h.7M408.2 691.4h.7M395.1 693.4h.7M389.1 696.7h.7M369.8 695.9h.7M386.1 695.2h.7M402.5 699.4h.7M395.9 694.9h.7M396.3 698.0h.7M383.0 695.2h.7M392.1 695.5h.7M375.7 699.5h.7M378.2 699.9h.7M397.6 686.9h.7M394.9 694.6h.7M386.0 698.7h.7M406.9 692.8h.7M382.2 692.6h.7M381.6 694.0h.7M399.8 693.7h.7M390.7 697.5h.7M391.0 695.0h.7M384.2 694.6h.7M391.1 691.4h.7M404.1 692.3h.7M386.5 698.7h.7M382.4 699.8h.7M391.6 700.2h.7M386.5 694.7h.7M384.1 692.8h.7M392.9 691.4h.7M393.4 692.5h.7M399.3 685.7h.7M394.2 694.3h.7M390.9 693.0h.7M404.8 690.6h.7M394.3 693.4h.7M388.0 695.8h.7M396.2 690.5h.7M387.1 691.6h.7M394.0 691.7h.7M384.9 698.1h.7M390.7 696.1h.7M389.7 696.3h.7M391.5 691.5h.7M392.5 693.5h.7M388.9 696.1h.7M386.4 692.8h.7M400.3 698.1h.7M388.1 698.8h.7M393.9 692.3h.7M384.2 695.5h.7M387.4 694.7h.7M389.8 691.8h.7M397.7 690.1h.7M382.3 699.4h.7M396.9 697.7h.7M391.9 692.8h.7M400.0 692.6h.7M389.8 692.6h.7M394.1 687.3h.7M395.0 688.2h.7M397.8 688.8h.7M396.3 700.8h.7M388.6 692.0h.7M406.4 690.2h.7M381.9 700.5h.7M368.1 695.6h.7M380.3 695.2h.7M374.7 700.8h.7M399.0 692.9h.7M387.5 691.1h.7M394.6 692.0h.7M395.8 696.7h.7M391.2 688.7h.7M383.3 700.5h.7M393.0 698.5h.7M373.0 698.5h.7M389.4 690.5h.7M385.7 698.8h.7M395.2 692.4h.7M393.5 697.8h.7M382.2 697.6h.7M399.2 691.0h.7M401.3 692.3h.7M399.7 695.6h.7M393.0 693.6h.7M385.6 696.5h.7M392.6 698.6h.7M390.2 696.1h.7M404.4 692.9h.7M394.5 698.7h.7M391.6 695.9h.7M396.9 693.2h.7M382.0 692.6h.7M389.3 698.5h.7M398.8 697.9h.7M398.1 691.4h.7M379.2 695.9h.7M388.8 693.2h.7M398.3 691.0h.7M395.5 696.1h.7M377.0 696.7h.7M400.9 695.1h.7M391.9 691.5h.7M385.3 696.4h.7M401.0 694.1h.7M390.2 695.7h.7M397.1 688.4h.7M383.0 696.7h.7M400.5 695.9h.7M384.6 696.3h.7M384.9 695.1h.7M392.0 693.6h.7M386.4 692.5h.7M378.2 697.1h.7M392.4 696.3h.7M384.3 694.2h.7M400.9 693.9h.7M397.9 691.7h.7M385.1 692.8h.7M398.8 689.8h.7M377.0 695.8h.7M401.0 692.7h.7M392.7 694.8h.7M390.5 694.5h.7M379.6 702.2h.7M389.6 698.7h.7M378.4 699.2h.7M381.4 693.2h.7M393.0 697.4h.7M401.8 696.3h.7M388.7 697.6h.7M386.1 694.4h.7M392.8 694.1h.7M397.6 688.1h.7M399.9 691.2h.7M402.6 695.6h.7M381.7 696.8h.7M396.3 691.4h.7M384.9 695.3h.7M396.8 696.2h.7M387.5 698.0h.7M402.6 695.0h.7M385.0 693.7h.7M393.1 696.8h.7M394.3 693.0h.7M383.5 700.2h.7M389.7 700.5h.7M381.8 695.9h.7M385.8 701.3h.7M400.7 691.3h.7M375.6 701.6h.7M392.0 691.4h.7M379.0 698.7h.7M389.3 695.7h.7M394.1 693.1h.7M388.8 697.3h.7M390.1 694.3h.7M396.0 688.1h.7M400.8 694.0h.7M384.9 695.7h.7M400.7 694.3h.7M376.8 695.1h.7M392.4 699.7h.7M397.0 693.0h.7M395.6 693.9h.7M388.6 696.5h.7M374.0 701.5h.7M395.2 692.7h.7M384.2 692.9h.7M393.2 694.9h.7M392.4 699.5h.7M373.5 696.7h.7M384.9 699.0h.7M389.0 692.6h.7M392.6 695.7h.7M403.8 692.8h.7M387.5 694.2h.7M384.6 697.7h.7M397.5 692.8h.7M389.9 699.1h.7M391.8 696.2h.7M382.4 695.1h.7M374.1 694.7h.7M393.9 697.8h.7M388.9 691.9h.7M391.7 698.0h.7M389.7 697.8h.7M390.5 691.5h.7M383.8 695.7h.7M409.1 692.6h.7M389.1 696.2h.7M392.7 693.3h.7M390.2 694.4h.7M396.9 698.1h.7M401.5 691.7h.7M395.4 691.9h.7M382.3 697.0h.7M395.8 693.7h.7M397.6 695.8h.7M397.0 693.1h.7M380.2 702.5h.7M387.2 697.8h.7M394.9 693.1h.7M405.5 693.7h.7M390.9 693.7h.7M383.3 693.0h.7M395.6 692.6h.7M387.4 697.1h.7M388.3 697.4h.7M385.9 694.5h.7M398.3 691.3h.7M395.9 695.3h.7M391.1 690.1h.7M380.6 694.0h.7M380.8 699.6h.7M384.1 692.9h.7M387.0 695.5h.7M377.8 699.5h.7M396.7 691.9h.7M397.4 689.0h.7M386.6 695.4h.7M391.6 698.1h.7M388.4 692.6h.7M392.7 695.0h.7M394.5 693.2h.7M392.4 693.0h.7M395.4 692.0h.7M386.1 699.3h.7M385.0 696.2h.7M395.5 693.0h.7M398.1 691.7h.7M399.0 688.7h.7M380.3 697.4h.7M402.2 697.0h.7M384.2 696.3h.7M387.1 689.6h.7M396.7 692.6h.7M401.8 693.3h.7M386.8 693.8h.7M389.5 696.5h.7M387.1 703.7h.7M392.6 691.3h.7M391.6 698.0h.7M394.4 693.2h.7M385.8 693.8h.7M381.7 695.5h.7M393.0 692.8h.7M403.8 693.2h.7M387.5 695.6h.7M402.5 687.5h.7M392.8 702.1h.7M398.9 690.6h.7M392.0 694.0h.7M412.9 688.2h.7M388.8 694.4h.7M379.8 688.0h.7M389.1 696.8h.7M387.6 697.1h.7M396.9 695.6h.7M377.6 702.1h.7M397.7 695.7h.7M391.1 694.9h.7M386.7 697.0h.7M398.3 691.7h.7M397.4 692.2h.7M395.7 693.5h.7M397.8 698.9h.7M392.8 693.1h.7M387.6 697.4h.7M387.1 698.6h.7M393.3 697.0h.7M386.6 693.1h.7M385.1 697.3h.7M384.8 698.2h.7M374.8 696.6h.7M389.7 690.0h.7M386.2 691.7h.7M390.5 694.3h.7M396.9 691.2h.7M378.2 696.2h.7M392.0 694.9h.7M392.3 698.1h.7M388.2 694.9h.7M384.4 694.7h.7M399.3 694.1h.7M370.4 702.9h.7M375.3 697.2h.7M398.7 693.6h.7M395.4 696.4h.7M393.4 690.8h.7M394.0 692.3h.7M372.0 698.3h.7M395.4 694.3h.7M391.1 699.9h.7M393.2 697.0h.7M393.6 699.0h.7M388.2 698.9h.7M405.4 690.7h.7M399.3 689.2h.7M393.6 696.5h.7M384.5 691.2h.7M391.5 693.9h.7M392.6 695.4h.7M397.7 697.9h.7M394.5 689.8h.7M396.4 694.9h.7M392.3 699.2h.7M393.2 693.4h.7M394.8 689.5h.7M398.7 693.4h.7M404.5 694.0h.7M394.2 694.8h.7M381.9 696.8h.7M393.6 697.2h.7M394.6 696.2h.7M396.6 692.2h.7M393.6 693.8h.7M381.4 692.8h.7M397.8 697.6h.7M402.5 690.0h.7M403.1 696.8h.7M385.3 697.6h.7M404.7 692.2h.7M400.6 691.1h.7M388.6 698.0h.7M390.0 695.6h.7M392.0 691.9h.7M403.1 692.0h.7M388.7 694.2h.7M391.8 692.2h.7M398.1 692.5h.7M397.5 691.1h.7M383.3 694.1h.7M393.1 690.8h.7M397.9 692.5h.7M398.4 692.3h.7M397.7 690.6h.7M382.6 698.5h.7M386.9 698.9h.7M385.8 697.6h.7M384.8 691.4h.7M402.5 691.9h.7M398.9 693.8h.7M377.7 699.0h.7M399.8 696.7h.7M404.2 693.2h.7M390.4 695.3h.7M382.0 699.1h.7M396.9 694.7h.7M385.1 698.1h.7M386.9 699.5h.7M386.4 694.5h.7M388.7 692.5h.7M384.1 695.7h.7M371.8 704.9h.7M394.1 695.1h.7M384.2 697.0h.7M391.1 695.2h.7M379.5 697.2h.7M376.2 697.6h.7M384.1 694.7h.7M388.6 697.9h.7M400.8 692.9h.7M382.6 701.1h.7M380.0 695.8h.7M389.4 693.2h.7M401.6 693.7h.7M399.6 692.2h.7M398.0 693.0h.7M389.9 696.0h.7M394.2 695.9h.7M389.4 691.0h.7M388.5 687.8h.7M388.8 693.1h.7M397.5 685.7h.7M406.9 690.4h.7M378.4 698.9h.7M394.9 695.3h.7M408.3 688.7h.7M393.3 694.8h.7M385.6 696.9h.7M401.0 690.3h.7M394.6 697.0h.7M396.2 689.2h.7M393.3 693.3h.7M400.7 692.4h.7M406.6 687.9h.7M395.0 691.5h.7M405.1 696.3h.7M383.7 698.7h.7M390.7 690.3h.7M382.7 697.0h.7M395.1 692.9h.7M393.3 695.3h.7M393.3 691.0h.7M392.1 696.2h.7M379.2 701.9h.7M402.6 692.8h.7M407.6 688.9h.7M383.5 694.8h.7M385.3 701.5h.7M391.4 694.7h.7M393.9 698.8h.7M392.4 693.5h.7M393.2 698.0h.7M389.4 699.3h.7M393.5 693.9h.7M394.9 699.7h.7M389.1 699.3h.7M395.5 694.4h.7M391.4 697.2h.7M395.9 694.9h.7M396.3 691.3h.7M385.9 693.2h.7M388.3 694.9h.7M388.1 697.1h.7M383.6 695.9h.7M397.9 698.2h.7M391.5 698.3h.7M401.9 689.6h.7M393.0 691.5h.7M388.0 696.7h.7M381.0 698.6h.7M389.9 694.5h.7M395.3 691.6h.7M377.7 697.9h.7M385.4 695.6h.7M382.4 694.1h.7M382.9 693.0h.7M384.6 694.1h.7M391.2 703.9h.7M386.1 691.4h.7M395.5 690.4h.7M384.0 695.5h.7M391.3 695.0h.7M392.9 694.1h.7M399.6 695.4h.7M386.7 695.2h.7M380.3 699.1h.7M389.3 700.7h.7M385.6 700.4h.7M383.7 691.7h.7M384.2 697.3h.7M398.9 690.6h.7M398.5 691.7h.7M386.9 694.9h.7M403.8 692.6h.7M393.3 690.1h.7M392.2 695.4h.7M403.7 689.6h.7M385.3 693.5h.7M385.8 697.9h.7M384.6 699.9h.7M391.1 692.2h.7M385.7 692.1h.7M379.5 700.6h.7M397.7 690.6h.7M387.3 700.2h.7M385.1 696.8h.7M394.8 693.4h.7M389.3 694.2h.7M391.7 690.2h.7M391.1 695.3h.7M380.4 698.4h.7M383.5 689.0h.7M375.6 698.5h.7M395.1 692.7h.7M379.3 696.9h.7M397.9 693.1h.7M379.2 698.7h.7M389.1 694.7h.7M391.2 696.3h.7M389.8 692.3h.7M389.8 695.4h.7M399.9 689.3h.7M389.6 692.6h.7M392.8 692.8h.7M366.6 702.9h.7M385.5 692.9h.7M378.9 694.4h.7M380.5 696.7h.7M391.8 694.4h.7M393.5 691.9h.7M395.4 693.5h.7M394.1 695.8h.7M387.8 699.0h.7M396.9 692.3h.7M404.4 696.5h.7M378.7 691.1h.7M385.8 697.2h.7M398.0 695.1h.7M390.6 697.6h.7M396.3 692.4h.7M392.2 697.6h.7M385.7 694.2h.7M384.2 700.4h.7M396.0 696.1h.7M387.8 695.4h.7M400.2 692.0h.7M400.0 692.8h.7M390.6 696.5h.7M397.5 698.4h.7M388.1 700.2h.7M384.9 693.7h.7M373.4 701.1h.7M402.4 688.9h.7M388.3 694.7h.7M378.7 697.7h.7M393.2 692.9h.7M382.9 697.0h.7M395.5 689.9h.7M390.1 696.6h.7M369.0 700.6h.7M404.2 688.3h.7M401.0 691.8h.7M395.6 693.4h.7M381.9 692.0h.7M409.5 687.0h.7M388.7 699.4h.7M393.2 694.9h.7M375.1 696.6h.7M380.5 692.1h.7M393.7 696.6h.7M384.9 694.4h.7M394.2 696.6h.7M382.6 700.0h.7M398.2 693.3h.7M382.2 698.4h.7M396.3 698.7h.7M386.2 700.4h.7M388.1 697.0h.7M390.0 695.3h.7M402.4 690.4h.7M397.4 692.7h.7M390.6 692.9h.7M392.5 688.9h.7M388.9 698.2h.7M397.5 688.8h.7M382.1 695.6h.7M405.6 690.4h.7M390.8 694.2h.7M393.3 691.8h.7M392.9 695.8h.7M399.1 690.6h.7M398.0 698.8h.7M397.1 695.5h.7M371.7 702.9h.7M406.0 695.1h.7M394.9 696.4h.7M414.6 687.7h.7M387.8 698.7h.7M393.0 688.3h.7M392.7 695.5h.7M383.6 697.6h.7M392.9 689.3h.7M395.0 700.2h.7M404.8 688.6h.7M380.5 697.4h.7M393.2 690.6h.7M385.1 700.1h.7M392.9 697.4h.7M390.7 697.9h.7M386.8 694.3h.7M383.4 691.0h.7M387.8 691.7h.7M387.2 696.1h.7M392.3 695.7h.7M387.8 695.4h.7M400.1 692.4h.7M391.1 687.8h.7M382.2 700.0h.7M384.0 693.3h.7M398.6 689.7h.7M398.8 692.9h.7M385.9 690.1h.7M401.4 687.3h.7M381.1 699.3h.7M381.0 698.5h.7M390.6 694.2h.7M382.4 694.8h.7M393.0 691.6h.7M395.9 694.5h.7M395.2 694.6h.7M395.3 695.0h.7M397.4 694.5h.7M393.4 691.7h.7M377.1 698.0h.7M398.5 690.5h.7M378.2 696.1h.7M393.7 696.7h.7M388.3 692.0h.7M390.3 696.9h.7M390.4 697.9h.7M386.8 698.3h.7M403.9 689.1h.7M383.9 698.3h.7M415.7 690.9h.7M390.6 698.7h.7M389.9 690.4h.7M383.2 700.4h.7M377.4 693.7h.7M397.4 693.9h.7M400.5 689.7h.7M385.0 695.2h.7M381.0 696.4h.7M389.5 697.7h.7M390.1 693.9h.7M394.8 697.2h.7M399.1 693.9h.7M387.8 694.2h.7M380.4 697.4h.7M390.6 699.7h.7M392.6 696.7h.7M401.3 687.2h.7M385.7 695.3h.7M391.8 691.4h.7M397.7 696.0h.7M394.8 696.0h.7M382.1 700.1h.7M386.0 690.5h.7M391.8 695.9h.7M385.4 691.3h.7M381.7 696.5h.7M370.6 702.3h.7M398.8 692.6h.7M399.3 692.5h.7M381.8 698.7h.7M395.3 691.2h.7M379.6 694.5h.7M400.1 691.9h.7M413.2 688.0h.7M395.6 694.7h.7M389.0 697.7h.7M384.0 696.2h.7M381.5 690.6h.7M391.4 691.4h.7M380.4 698.8h.7M389.5 696.3h.7M404.6 692.4h.7M394.4 690.6h.7M397.5 695.9h.7M382.5 698.6h.7M393.4 693.7h.7M391.5 701.7h.7M385.7 695.0h.7M391.7 694.2h.7M376.3 700.0h.7M398.2 698.3h.7M386.3 692.2h.7M396.1 690.8h.7M390.8 693.7h.7M392.4 693.3h.7M396.4 691.0h.7M409.9 692.9h.7M385.9 693.2h.7M389.4 693.8h.7M384.3 700.4h.7M398.6 690.0h.7M395.3 693.9h.7M397.0 691.6h.7M407.9 691.4h.7M406.8 690.0h.7M401.7 692.2h.7M404.2 691.4h.7M382.4 693.6h.7M385.8 697.8h.7M393.9 694.6h.7M399.4 697.8h.7M382.9 699.6h.7M409.4 689.0h.7M386.4 697.1h.7M392.8 692.9h.7M390.4 699.7h.7M398.3 690.9h.7M377.3 694.7h.7M392.4 692.3h.7M384.2 698.5h.7M388.7 694.3h.7M392.7 698.7h.7M393.4 696.4h.7M391.6 699.2h.7M381.1 693.8h.7M386.9 701.7h.7M403.3 689.0h.7M387.3 697.3h.7M391.5 697.3h.7M387.0 691.0h.7M395.9 697.4h.7M378.7 692.2h.7M387.4 690.3h.7M394.4 690.8h.7M396.9 692.6h.7M392.1 696.6h.7M389.4 692.3h.7M398.3 689.0h.7M402.3 690.7h.7M386.8 697.0h.7M394.3 695.6h.7M379.3 694.9h.7M393.7 695.4h.7M390.3 698.8h.7M389.6 697.9h.7M399.7 694.0h.7M389.5 697.4h.7M394.6 695.9h.7M384.1 697.8h.7M403.8 691.3h.7M392.1 694.0h.7M398.1 687.4h.7M403.8 693.6h.7M389.2 696.1h.7M400.0 694.0h.7M396.4 697.2h.7M392.4 696.8h.7M402.8 694.0h.7M386.1 698.2h.7M407.3 690.4h.7M394.7 695.4h.7M398.2 692.2h.7M391.0 700.6h.7M396.6 691.9h.7M397.4 693.7h.7M403.4 687.6h.7M391.9 697.6h.7M381.1 695.0h.7M394.9 694.2h.7M388.7 696.3h.7M380.1 694.9h.7M404.9 690.0h.7M394.6 694.0h.7M398.0 694.4h.7M394.4 697.6h.7M393.7 689.5h.7M385.9 700.2h.7M399.6 692.4h.7M378.5 695.6h.7M407.6 694.7h.7M400.8 688.2h.7M380.4 695.6h.7M380.4 697.6h.7M382.5 698.2h.7M389.4 693.7h.7M396.3 695.1h.7M392.2 693.6h.7M390.7 689.5h.7M375.6 696.4h.7M392.2 699.7h.7M394.3 691.4h.7M387.3 692.1h.7M390.8 694.7h.7M390.8 695.8h.7M399.3 695.1h.7M382.0 699.3h.7M383.1 697.8h.7M391.9 699.6h.7M390.3 694.8h.7M389.0 697.9h.7M393.6 693.6h.7M397.7 699.5h.7M404.0 696.4h.7M386.9 695.6h.7M392.4 689.8h.7M404.7 687.8h.7M394.3 690.7h.7M392.2 697.1h.7M395.3 691.6h.7M386.1 698.7h.7M390.7 695.4h.7M398.6 686.1h.7M393.2 698.1h.7M405.2 693.8h.7M385.4 699.0h.7M405.9 689.9h.7M385.5 695.8h.7M388.0 689.8h.7M372.6 695.3h.7M386.2 697.3h.7M387.1 696.3h.7M402.0 701.1h.7M398.1 690.6h.7M399.0 693.2h.7M393.9 697.1h.7M397.3 689.8h.7M382.2 697.7h.7M396.7 699.7h.7M395.9 692.8h.7M387.4 693.7h.7M381.0 693.4h.7M386.8 696.2h.7M385.1 696.3h.7M388.9 694.8h.7M387.7 696.5h.7M391.3 687.4h.7M393.2 694.8h.7M386.3 696.5h.7M385.7 696.5h.7M384.3 698.4h.7M393.9 690.2h.7M385.6 698.1h.7M394.3 694.6h.7M382.2 694.9h.7M392.4 695.5h.7M391.0 692.6h.7M389.3 693.9h.7M382.0 693.8h.7M384.8 692.0h.7M394.8 696.3h.7M398.0 691.2h.7M385.2 696.9h.7M387.4 694.8h.7M388.6 690.9h.7M401.0 688.7h.7M378.7 699.9h.7M382.5 699.8h.7M393.7 695.3h.7M388.1 691.6h.7M381.8 697.2h.7M390.2 691.7h.7M382.1 694.4h.7M390.5 696.2h.7M398.1 692.3h.7M402.2 694.5h.7M402.5 689.9h.7M395.5 697.0h.7M377.2 700.5h.7M394.2 696.8h.7M392.4 697.8h.7M387.7 694.2h.7M396.6 695.7h.7M380.6 700.6h.7M400.1 695.8h.7M385.4 699.7h.7M395.0 696.6h.7M390.6 693.8h.7M385.5 694.4h.7M398.0 691.2h.7M386.2 696.9h.7M389.0 689.6h.7M385.9 695.0h.7M403.5 694.0h.7M383.3 693.5h.7M387.5 696.3h.7M385.0 697.5h.7M380.1 698.2h.7M400.2 685.4h.7M390.8 695.7h.7M394.5 694.4h.7M390.5 695.8h.7M391.9 695.0h.7M403.2 695.1h.7M398.2 691.6h.7M387.2 698.7h.7M382.9 699.5h.7M380.6 703.2h.7M400.6 691.2h.7M387.4 690.0h.7M390.6 698.3h.7M395.7 693.1h.7M406.8 693.0h.7M394.2 693.4h.7M395.5 701.3h.7M394.5 689.5h.7M392.7 699.9h.7M400.2 691.4h.7M393.7 690.2h.7M396.0 691.4h.7M386.9 694.2h.7M385.5 700.9h.7M402.4 691.6h.7M391.7 699.5h.7M388.8 694.1h.7M384.4 700.7h.7M392.3 694.6h.7M387.7 693.1h.7M398.4 691.1h.7M387.0 691.1h.7M382.5 695.3h.7M387.2 691.5h.7M386.2 695.6h.7M370.7 701.0h.7M388.8 691.6h.7M388.8 696.6h.7M390.9 695.0h.7M391.0 696.7h.7M380.4 695.5h.7M393.9 694.3h.7M382.7 695.9h.7M385.5 696.1h.7M378.1 693.2h.7M379.7 697.0h.7M410.0 693.4h.7M400.3 692.8h.7M403.2 693.2h.7M391.4 697.8h.7M381.5 690.8h.7M381.6 700.9h.7M397.8 693.9h.7M389.0 694.8h.7M393.9 691.8h.7M396.8 690.8h.7M401.3 691.6h.7M383.7 695.6h.7M383.6 696.1h.7M376.8 696.6h.7M391.4 695.8h.7M387.8 698.9h.7M377.7 697.1h.7M387.0 695.7h.7M388.8 699.2h.7M390.8 692.3h.7M410.1 690.7h.7M389.5 697.6h.7M386.2 695.3h.7M397.5 690.1h.7M387.3 698.3h.7M404.8 691.6h.7M390.0 698.1h.7M379.3 695.4h.7M384.6 690.4h.7M368.2 698.7h.7M397.9 695.2h.7M400.6 685.0h.7M389.6 698.9h.7M384.0 692.7h.7M393.5 694.3h.7M395.8 693.8h.7M400.5 694.7h.7M392.8 693.4h.7M396.3 691.8h.7M398.3 696.5h.7M398.2 689.6h.7M394.3 695.2h.7M397.6 689.0h.7M386.1 695.7h.7M401.7 690.8h.7M397.8 693.8h.7M405.9 692.5h.7M378.3 696.9h.7M392.8 698.0h.7M396.0 692.9h.7M381.0 697.1h.7M389.9 698.9h.7M398.1 689.3h.7M372.7 697.7h.7M393.0 691.7h.7M386.8 699.1h.7M396.6 688.7h.7M393.6 694.7h.7M389.3 696.8h.7M395.5 700.9h.7M392.7 692.4h.7M387.0 697.8h.7M406.0 693.3h.7M395.1 694.7h.7M387.4 695.9h.7M381.4 699.1h.7M394.6 694.6h.7M384.2 695.6h.7M386.4 696.7h.7M388.7 696.4h.7M398.2 696.9h.7M382.9 695.7h.7M382.4 700.3h.7M384.3 700.2h.7M387.0 698.7h.7M386.7 695.2h.7M391.9 694.9h.7M389.8 697.0h.7M400.3 695.3h.7M387.2 690.5h.7M391.8 686.6h.7M396.2 695.5h.7M381.4 698.6h.7M385.8 699.6h.7M385.0 693.8h.7M385.8 696.7h.7M382.8 703.1h.7M388.1 700.5h.7M388.7 694.5h.7M385.4 694.0h.7M394.4 697.5h.7M391.8 692.2h.7M392.6 692.3h.7M370.0 699.9h.7M377.3 696.1h.7M391.4 693.7h.7M388.9 699.7h.7M398.5 697.6h.7M392.7 695.2h.7M404.8 690.1h.7M393.6 694.7h.7M393.3 696.1h.7M391.9 697.0h.7M384.4 697.8h.7M382.8 699.7h.7M398.6 692.6h.7M387.0 695.7h.7M395.3 689.7h.7M383.1 699.3h.7M389.2 691.6h.7M373.6 697.4h.7M377.2 698.2h.7M390.2 700.2h.7M381.1 698.8h.7M381.5 694.0h.7M389.2 692.8h.7M405.0 691.6h.7M384.9 702.7h.7M384.6 695.2h.7M389.1 693.0h.7M395.4 697.2h.7M380.7 695.7h.7M387.8 691.6h.7M380.4 696.1h.7M383.7 697.3h.7M397.0 694.0h.7M392.9 691.8h.7M385.9 697.0h.7M395.0 693.6h.7M394.8 693.2h.7M381.6 697.7h.7M387.3 690.8h.7M397.1 694.5h.7M396.2 692.3h.7M402.1 693.7h.7M398.1 691.3h.7M388.2 699.0h.7M390.4 695.0h.7M402.1 695.5h.7M392.4 699.8h.7M379.1 697.2h.7M386.3 699.9h.7M402.8 690.8h.7M391.7 697.2h.7M394.7 694.7h.7M398.3 698.6h.7M391.6 691.6h.7M389.8 694.9h.7M387.8 697.4h.7M396.3 696.1h.7M394.4 694.8h.7M382.9 695.6h.7M384.1 697.2h.7M389.8 694.9h.7M394.7 693.2h.7M398.9 696.0h.7M383.5 700.1h.7M388.1 693.4h.7M388.3 691.9h.7M393.3 697.6h.7M379.1 698.6h.7M395.2 695.7h.7M395.6 695.0h.7M387.2 698.1h.7M393.2 696.5h.7M393.1 693.6h.7M390.4 696.6h.7M398.6 687.8h.7M381.0 692.5h.7M386.7 693.9h.7M392.2 693.7h.7M400.8 690.9h.7M402.1 689.1h.7M406.4 691.5h.7M404.5 688.0h.7M395.3 695.0h.7M403.8 687.9h.7M406.7 692.1h.7M431.0 689.7h.7M400.2 691.0h.7M389.1 688.6h.7M390.2 699.2h.7M407.9 684.9h.7M402.4 690.2h.7M402.5 697.6h.7M389.3 694.3h.7M412.0 691.0h.7M386.7 697.5h.7M396.3 691.7h.7M392.8 697.9h.7M442.0 684.0h.7M406.3 684.2h.7M418.6 691.8h.7M397.9 697.0h.7M390.7 690.7h.7M411.0 684.2h.7M417.4 693.0h.7M410.2 691.7h.7M426.3 686.9h.7M423.3 691.3h.7M398.6 701.6h.7M422.1 686.9h.7M418.4 688.6h.7M412.2 685.5h.7M405.6 690.0h.7M421.2 688.4h.7M414.1 688.3h.7M423.1 676.7h.7M400.3 696.5h.7M405.6 693.7h.7M426.5 688.1h.7M394.5 693.8h.7M397.8 695.4h.7M420.8 685.8h.7M415.3 687.6h.7M430.0 684.5h.7M412.3 691.4h.7M421.0 689.3h.7M409.6 690.3h.7M415.3 690.6h.7M406.0 689.0h.7M407.5 692.5h.7M405.3 687.3h.7M406.5 689.2h.7M416.3 686.1h.7M405.7 698.4h.7M414.7 685.1h.7M422.6 684.8h.7M401.5 695.0h.7M395.3 694.2h.7M415.9 691.1h.7M404.5 689.8h.7M409.1 694.9h.7M391.3 698.7h.7M413.2 694.3h.7M398.3 697.9h.7M401.0 693.9h.7M405.9 681.9h.7M409.4 691.7h.7M419.1 684.9h.7M397.9 696.3h.7M406.3 695.1h.7M424.9 684.7h.7M408.3 687.8h.7M388.9 696.3h.7M417.7 691.8h.7M409.9 697.1h.7M404.6 691.6h.7M404.4 690.0h.7M407.2 688.3h.7M405.7 692.4h.7M411.3 685.7h.7M415.4 685.3h.7M414.9 688.9h.7M390.1 692.1h.7M420.1 684.6h.7M403.3 690.4h.7M411.3 691.8h.7M407.1 697.4h.7M404.2 690.0h.7M408.2 691.2h.7M425.5 694.4h.7M406.6 690.4h.7M416.8 687.6h.7M419.2 683.3h.7M419.1 679.0h.7M415.7 690.9h.7M436.3 678.7h.7M417.5 690.3h.7M400.3 694.0h.7M401.3 688.2h.7M394.3 693.9h.7M399.1 685.4h.7M413.1 682.5h.7M417.4 688.7h.7M401.4 686.5h.7M400.5 687.7h.7M406.1 689.8h.7M436.2 674.1h.7M403.8 694.0h.7M420.9 691.9h.7M399.6 696.2h.7M379.5 698.3h.7M419.1 690.0h.7M395.0 691.3h.7M387.1 694.0h.7M395.3 695.5h.7M401.9 694.7h.7M408.8 689.1h.7M428.8 688.9h.7M395.9 699.6h.7M418.1 692.7h.7M414.8 681.6h.7M406.0 681.8h.7M395.0 691.8h.7M423.5 686.1h.7M412.3 692.2h.7M400.3 697.2h.7M412.3 685.5h.7M403.8 690.9h.7M416.4 693.6h.7M406.6 690.1h.7M429.2 696.7h.7M429.3 684.9h.7M406.1 693.8h.7M413.2 685.9h.7M424.5 695.5h.7M400.9 689.6h.7M404.5 686.7h.7M418.7 681.8h.7M417.1 689.4h.7M418.0 681.8h.7M411.5 690.6h.7M419.5 688.6h.7M403.7 696.4h.7M424.9 690.8h.7M401.9 694.5h.7M400.1 692.3h.7M418.1 681.9h.7M439.9 685.8h.7M401.7 690.2h.7M409.1 689.7h.7M396.9 693.4h.7M393.2 692.6h.7M429.3 683.9h.7M405.8 697.4h.7M413.4 691.4h.7M403.8 696.2h.7M406.4 694.5h.7M416.9 694.7h.7M420.7 686.7h.7M398.5 692.3h.7M402.5 698.3h.7M405.1 682.4h.7M414.1 692.0h.7M400.0 695.8h.7M395.6 695.3h.7M408.2 691.8h.7M414.5 686.0h.7M418.7 685.4h.7M411.2 695.2h.7M399.9 693.3h.7M427.4 689.8h.7M402.5 689.8h.7M415.9 685.6h.7M410.7 684.3h.7M416.9 681.5h.7M411.4 692.3h.7M402.6 686.0h.7M396.1 686.6h.7M429.5 676.5h.7M395.8 695.5h.7M410.5 693.9h.7M424.3 687.5h.7M409.2 688.0h.7M407.9 694.4h.7M416.6 690.5h.7M391.6 692.5h.7M402.4 690.1h.7M398.3 696.2h.7M421.6 693.8h.7M404.2 691.3h.7M411.0 689.7h.7M400.7 695.9h.7M387.8 694.7h.7M389.0 698.8h.7M394.7 690.0h.7M409.8 685.9h.7M412.7 687.6h.7M431.5 678.7h.7M401.0 695.0h.7M411.3 691.4h.7M406.8 694.8h.7M413.8 694.1h.7M395.0 695.5h.7M407.5 692.3h.7M399.6 696.3h.7M395.3 698.0h.7M416.0 681.0h.7M414.4 680.9h.7M416.2 681.7h.7M409.2 689.2h.7M392.1 687.9h.7M415.5 686.4h.7M422.0 686.2h.7M440.3 681.6h.7M429.5 685.6h.7M411.0 691.9h.7M401.7 689.9h.7M428.3 683.8h.7M397.4 695.9h.7M400.9 693.1h.7M422.7 691.4h.7M430.3 688.7h.7M417.4 690.0h.7M413.5 688.9h.7M435.4 682.2h.7M428.8 684.0h.7M423.7 674.6h.7M412.1 687.0h.7M427.8 690.9h.7M403.5 691.8h.7M420.7 688.2h.7M411.6 693.6h.7M396.2 700.9h.7M415.6 677.0h.7M400.6 692.8h.7M435.8 682.5h.7M394.2 700.5h.7M415.3 688.7h.7M422.5 685.0h.7M409.8 694.5h.7M415.9 692.5h.7M407.1 698.1h.7M395.5 689.3h.7M416.7 687.2h.7M413.5 689.6h.7M409.6 686.3h.7M414.7 694.3h.7M402.1 700.4h.7M428.6 681.5h.7M420.2 683.0h.7M410.0 686.1h.7M405.5 684.4h.7M409.7 686.4h.7M401.5 685.1h.7M411.8 697.6h.7M407.4 690.7h.7M398.8 692.0h.7M401.9 686.7h.7M401.5 691.0h.7M414.8 687.7h.7M414.4 694.3h.7M421.5 685.3h.7M391.8 695.2h.7M412.1 693.8h.7M412.7 700.8h.7M407.6 693.8h.7M401.1 689.1h.7M407.9 691.9h.7M418.7 675.2h.7M423.5 692.3h.7M426.0 689.0h.7M409.7 692.7h.7M425.2 681.9h.7M418.4 689.9h.7M409.5 697.7h.7M403.3 688.4h.7M410.5 687.7h.7M425.7 679.0h.7M396.5 695.6h.7M419.1 682.8h.7M425.2 678.1h.7M422.2 683.1h.7M405.6 698.8h.7M410.1 687.7h.7M413.4 696.8h.7M411.5 686.7h.7M413.0 684.4h.7M403.1 690.0h.7M417.8 686.0h.7M416.0 693.1h.7M428.0 678.1h.7M410.0 685.6h.7M417.7 688.9h.7M410.5 687.9h.7M400.0 686.5h.7M421.2 686.1h.7M410.9 691.2h.7M419.3 695.0h.7M408.6 693.2h.7M392.6 693.9h.7M402.8 689.9h.7M423.3 686.7h.7M411.3 690.1h.7M408.1 689.9h.7M403.5 690.0h.7M405.9 690.7h.7M390.0 696.5h.7M410.2 691.8h.7M398.3 690.0h.7M419.3 684.5h.7M415.8 685.8h.7M397.4 688.2h.7M403.9 690.2h.7M397.1 699.7h.7M410.8 686.4h.7M426.8 688.4h.7M402.3 688.4h.7M408.5 693.5h.7M395.2 699.2h.7M406.4 694.6h.7M409.0 692.4h.7M417.6 693.1h.7M402.8 699.9h.7M396.7 695.4h.7M418.0 687.9h.7M420.3 680.7h.7M410.1 694.1h.7M410.8 685.6h.7M412.4 690.3h.7M399.9 698.5h.7M404.8 687.7h.7M411.8 687.1h.7M408.6 691.6h.7M406.2 693.7h.7M413.9 693.9h.7M399.9 693.6h.7M413.5 690.3h.7M387.9 692.7h.7M414.3 691.2h.7M411.1 690.7h.7M424.0 684.7h.7M402.5 698.4h.7M417.4 687.4h.7M403.0 698.7h.7M407.8 687.7h.7M424.5 680.1h.7M409.1 693.0h.7M407.7 688.9h.7M415.5 683.8h.7M408.4 693.6h.7M398.9 699.1h.7M408.5 690.4h.7M405.6 693.9h.7M405.6 692.5h.7M424.4 690.9h.7M394.3 700.3h.7M405.4 692.8h.7M411.9 690.8h.7M404.3 694.3h.7M421.7 684.5h.7M410.6 693.3h.7M422.4 687.9h.7M413.7 691.1h.7M407.1 692.5h.7M407.8 689.6h.7M385.3 690.6h.7M414.7 691.8h.7M415.5 689.0h.7M407.4 693.2h.7M406.3 691.3h.7M426.9 679.7h.7M404.2 691.0h.7M389.9 691.6h.7M422.1 688.6h.7M409.1 695.6h.7M399.9 700.8h.7M409.9 687.9h.7M422.3 688.6h.7M412.7 688.9h.7M390.9 687.7h.7M410.5 693.8h.7M401.9 693.0h.7M393.6 689.2h.7M409.9 693.0h.7M418.5 692.4h.7M401.8 692.0h.7M418.9 683.4h.7M407.1 691.0h.7M410.2 693.5h.7M415.0 686.9h.7M385.2 700.7h.7M421.2 688.8h.7M414.2 690.6h.7M423.5 684.1h.7M409.6 686.3h.7M408.0 687.5h.7M401.4 684.9h.7M409.3 694.3h.7M377.7 704.8h.7M409.8 687.5h.7M413.5 688.0h.7M409.4 695.9h.7M412.0 690.9h.7M407.3 690.2h.7M400.3 692.5h.7M401.7 697.0h.7M407.6 693.7h.7M424.1 689.8h.7M402.7 698.8h.7M389.6 701.8h.7M382.8 694.6h.7M409.3 687.4h.7M387.2 691.0h.7M412.8 682.4h.7M416.9 692.5h.7M424.6 686.6h.7M409.5 688.6h.7M439.8 685.8h.7M416.9 689.3h.7M421.9 678.9h.7M419.4 684.9h.7M385.0 701.9h.7M401.8 694.2h.7M402.0 690.8h.7M427.5 686.1h.7M414.3 682.5h.7M419.8 684.5h.7M415.1 684.5h.7M414.0 691.0h.7M394.2 696.0h.7M400.4 697.8h.7M414.1 689.0h.7M443.1 683.4h.7M406.0 694.7h.7M413.2 694.4h.7M399.2 701.0h.7M404.6 690.2h.7M402.2 691.2h.7M430.9 684.5h.7M398.5 692.9h.7M412.8 693.0h.7M406.6 691.8h.7M442.1 679.9h.7M411.4 684.9h.7M420.5 685.1h.7M430.2 688.8h.7M418.9 685.4h.7M406.5 689.6h.7M411.1 688.4h.7M404.3 692.2h.7M409.9 688.6h.7M420.1 691.2h.7M404.1 700.3h.7M414.3 693.6h.7M430.6 678.3h.7M415.7 692.0h.7M423.2 689.2h.7M421.2 680.8h.7M399.8 695.4h.7M388.0 694.5h.7M408.2 692.1h.7M420.0 688.0h.7M401.2 688.9h.7M414.7 691.0h.7M414.3 689.3h.7M411.4 684.1h.7M409.9 693.1h.7M397.9 695.4h.7M417.8 697.0h.7M409.5 689.2h.7M397.1 689.6h.7M392.6 688.2h.7M417.8 687.7h.7M413.5 682.7h.7M388.1 689.6h.7M427.8 689.2h.7M395.6 694.8h.7M412.1 685.6h.7M403.2 695.9h.7M418.0 691.3h.7M413.8 689.4h.7M415.7 687.8h.7M428.7 685.4h.7M416.2 687.9h.7M403.1 692.0h.7M406.8 687.9h.7M419.2 695.3h.7M413.5 688.7h.7M402.6 686.6h.7M417.0 690.3h.7M401.8 692.9h.7M401.2 698.4h.7M411.7 691.4h.7M429.0 675.7h.7M414.9 689.8h.7M407.3 691.1h.7M424.1 683.4h.7M403.5 699.0h.7M421.7 688.6h.7M419.4 687.8h.7M407.5 690.4h.7M414.1 687.2h.7M393.4 694.6h.7M413.8 688.6h.7M418.0 689.0h.7M421.2 687.4h.7M408.9 692.9h.7M420.4 685.4h.7M401.5 698.1h.7M405.1 693.2h.7M405.7 692.4h.7M425.9 692.2h.7M396.6 688.6h.7M374.5 703.3h.7M427.6 686.0h.7M407.6 694.2h.7M400.7 695.7h.7M425.3 690.5h.7M418.4 685.8h.7M407.2 687.5h.7M430.8 688.9h.7M410.1 690.0h.7M413.3 686.7h.7M416.3 690.3h.7M415.4 688.8h.7M383.6 697.4h.7M395.5 688.0h.7M434.9 680.8h.7M408.6 689.5h.7M401.4 699.1h.7M390.7 697.9h.7M404.2 696.9h.7M419.7 687.6h.7M394.4 698.0h.7M421.1 689.5h.7M407.4 693.5h.7M402.1 693.5h.7M414.5 687.9h.7M399.8 692.4h.7M401.0 688.2h.7M421.8 686.0h.7M404.9 689.7h.7M415.1 687.3h.7M402.8 693.4h.7M411.9 686.0h.7M398.8 698.6h.7M407.4 695.7h.7M416.9 687.8h.7M407.8 697.2h.7M403.4 690.6h.7M401.4 692.1h.7M400.2 693.5h.7M396.8 696.2h.7M414.0 689.8h.7M403.8 697.0h.7M432.1 683.0h.7M402.0 695.1h.7M408.0 691.3h.7M417.3 682.6h.7M418.2 683.5h.7M396.8 692.6h.7M426.1 682.8h.7M415.3 684.8h.7M417.1 689.2h.7M422.8 687.0h.7M410.4 682.6h.7M413.7 692.1h.7M412.4 690.1h.7M416.4 691.6h.7M400.6 692.6h.7M414.9 689.6h.7M399.9 685.3h.7M413.7 691.8h.7M428.4 686.2h.7M400.8 694.6h.7M409.0 687.7h.7M394.7 687.5h.7M402.7 690.6h.7M410.9 689.9h.7M412.7 696.8h.7M409.5 695.6h.7M401.8 689.7h.7M404.5 684.6h.7M428.2 685.6h.7M418.0 694.5h.7M415.1 695.0h.7M384.6 702.7h.7M413.5 686.8h.7M422.0 686.6h.7M402.6 684.6h.7M429.6 673.9h.7M411.0 696.1h.7M417.3 685.4h.7M407.3 688.5h.7M412.9 688.9h.7M396.1 688.4h.7M422.6 681.2h.7M397.8 702.9h.7M401.0 687.5h.7M399.5 696.2h.7M401.9 691.9h.7M384.8 695.1h.7M410.4 690.1h.7M426.0 687.2h.7M378.3 693.0h.7M400.2 691.7h.7M410.4 692.3h.7M391.4 686.6h.7M418.5 683.4h.7M383.9 693.9h.7M404.9 686.6h.7M396.8 697.9h.7M397.6 694.8h.7M412.0 687.8h.7M435.6 676.8h.7M438.0 677.6h.7M406.7 692.1h.7M421.9 689.1h.7M405.9 689.7h.7M422.6 692.2h.7M403.9 696.6h.7M416.0 689.1h.7M397.7 688.6h.7M414.5 677.5h.7M404.3 693.3h.7M391.5 702.0h.7M428.1 680.3h.7M408.6 689.9h.7M403.9 689.8h.7M415.2 695.1h.7M410.8 690.1h.7M411.4 686.8h.7M416.8 686.0h.7M399.1 695.9h.7M389.4 694.1h.7M405.6 690.8h.7M393.0 691.3h.7M408.3 692.9h.7M408.7 689.5h.7M400.7 692.8h.7M379.3 701.8h.7M420.5 686.7h.7M399.3 698.5h.7M402.5 697.6h.7M407.0 687.9h.7M407.6 688.0h.7M408.1 692.5h.7M407.1 689.0h.7M409.8 691.6h.7M410.0 692.2h.7M416.3 689.2h.7M417.8 687.7h.7M422.4 687.9h.7M419.1 686.5h.7M394.5 692.9h.7M410.4 691.3h.7M409.6 695.9h.7M395.9 687.2h.7M408.0 687.9h.7M410.3 692.5h.7M439.5 676.0h.7M398.4 693.3h.7M394.0 691.8h.7M423.9 685.6h.7M409.7 694.5h.7M391.5 696.0h.7M409.5 691.2h.7M399.2 691.5h.7M408.9 693.2h.7M402.2 694.8h.7M387.0 698.6h.7M418.4 683.9h.7M406.8 690.9h.7M413.1 693.8h.7M412.1 688.5h.7M407.9 691.7h.7M418.4 688.5h.7M404.1 690.5h.7M401.5 689.1h.7M404.8 689.3h.7M418.2 682.9h.7M410.8 685.2h.7M418.5 688.6h.7M423.5 688.1h.7M399.0 693.4h.7M403.3 690.0h.7M399.1 692.1h.7M411.0 690.5h.7M436.5 681.4h.7M410.9 689.4h.7M407.3 689.6h.7M410.6 689.1h.7M417.8 689.3h.7M400.6 692.8h.7M413.3 688.0h.7M407.6 690.4h.7M416.5 688.7h.7M404.3 691.5h.7M423.1 682.4h.7M417.0 687.0h.7M449.3 680.6h.7M410.6 689.4h.7M394.0 692.9h.7M431.3 685.0h.7M407.0 690.9h.7M410.5 686.2h.7M411.2 691.6h.7M394.5 693.8h.7M381.2 692.2h.7M418.8 692.1h.7M429.6 679.2h.7M409.2 689.0h.7M421.3 687.9h.7M410.9 692.0h.7M405.3 695.2h.7M406.5 695.3h.7M412.0 690.3h.7M398.1 687.7h.7M393.6 696.8h.7M387.5 702.0h.7M406.7 685.9h.7M413.7 684.2h.7M410.5 688.9h.7M422.6 689.7h.7M419.9 685.3h.7M423.1 685.8h.7M411.3 691.3h.7M412.9 684.1h.7M416.8 681.9h.7M415.0 688.3h.7M410.8 685.6h.7M420.5 686.3h.7M418.9 684.6h.7M402.5 692.5h.7M420.8 681.8h.7M404.0 689.9h.7M407.2 689.1h.7M421.3 689.3h.7M410.3 693.1h.7M420.8 684.4h.7M402.4 694.9h.7M432.3 674.3h.7M403.5 694.9h.7M401.6 695.8h.7M412.4 684.5h.7M405.2 692.9h.7M400.7 695.1h.7M413.3 687.9h.7M414.1 687.4h.7M412.3 685.5h.7M424.8 684.6h.7M422.2 694.5h.7M426.6 685.0h.7M411.7 689.3h.7M413.3 685.9h.7M391.1 696.9h.7M410.5 695.7h.7M429.0 679.1h.7M400.3 695.9h.7M422.4 686.8h.7M410.7 682.8h.7M434.1 680.1h.7M416.0 689.5h.7M400.7 696.1h.7M425.4 685.2h.7M411.6 692.1h.7M420.4 690.2h.7M400.7 689.2h.7M404.3 681.4h.7M396.2 693.4h.7M403.1 688.9h.7M419.3 688.5h.7M418.7 686.8h.7M405.7 688.0h.7M412.6 682.3h.7M400.9 695.0h.7M419.0 687.1h.7M398.0 695.8h.7M402.3 691.8h.7M399.9 700.0h.7M425.7 682.1h.7M397.8 693.5h.7M416.6 692.8h.7M409.4 685.4h.7M413.1 690.1h.7M393.3 694.0h.7M406.9 687.2h.7M412.4 693.3h.7M420.6 683.4h.7M403.9 694.5h.7M406.5 689.7h.7M433.2 673.3h.7M403.2 688.9h.7M409.5 696.7h.7M408.5 689.4h.7M411.7 688.3h.7M414.0 698.5h.7M402.8 691.4h.7M409.2 682.2h.7M416.4 687.9h.7M432.0 681.7h.7M448.3 676.3h.7M455.3 678.9h.7M435.6 690.9h.7M446.0 685.2h.7M434.7 672.1h.7M439.3 682.7h.7M446.0 695.9h.7M458.8 685.1h.7M446.3 700.3h.7M447.4 692.7h.7M443.3 683.1h.7M444.9 678.0h.7M449.9 676.9h.7M446.2 687.5h.7M463.1 667.6h.7M447.6 689.6h.7M444.4 691.5h.7M451.0 688.2h.7M443.8 682.1h.7M445.3 675.5h.7M448.4 674.9h.7M439.9 672.1h.7M455.4 679.2h.7M440.2 690.8h.7M443.8 686.9h.7M445.6 687.1h.7M448.4 665.4h.7M458.2 692.6h.7M435.9 691.6h.7M445.3 685.0h.7M456.8 692.5h.7M454.4 701.2h.7M455.3 678.8h.7M437.2 691.2h.7M434.0 681.0h.7M444.2 678.0h.7M457.3 686.7h.7M445.3 691.7h.7M443.9 694.3h.7M462.6 682.9h.7M445.7 693.9h.7M432.1 673.2h.7M439.2 670.1h.7M447.0 686.5h.7M446.8 683.7h.7M454.0 693.2h.7M456.5 682.8h.7M447.1 696.6h.7M450.1 695.3h.7M443.4 683.6h.7M442.1 683.8h.7M450.2 680.1h.7M461.9 671.3h.7M453.6 674.7h.7M449.2 677.4h.7M447.5 684.6h.7M440.9 673.5h.7M441.6 684.1h.7M453.1 697.7h.7M433.9 687.9h.7M443.4 684.1h.7M449.4 690.7h.7M450.1 683.8h.7M458.8 686.4h.7M446.9 693.7h.7M438.3 675.9h.7M458.0 682.3h.7M433.4 690.8h.7M456.1 677.3h.7M437.0 683.5h.7M449.6 678.8h.7M440.0 688.4h.7M451.0 670.4h.7M438.4 681.1h.7M442.1 685.7h.7M450.8 699.7h.7M449.6 691.7h.7M435.1 678.0h.7M454.9 671.5h.7M457.0 688.5h.7M447.9 682.8h.7M438.0 674.6h.7M442.9 680.2h.7M456.2 675.1h.7M442.1 669.0h.7M448.1 683.8h.7M455.1 700.2h.7M450.9 676.5h.7M448.5 686.2h.7M446.4 674.6h.7M449.4 673.5h.7M446.2 681.2h.7M427.3 689.0h.7M462.9 680.7h.7M442.1 691.7h.7M436.9 684.0h.7M448.7 679.0h.7M446.3 676.6h.7M442.4 689.5h.7M440.2 678.9h.7M441.5 688.1h.7M444.0 676.6h.7M449.3 666.7h.7M432.4 686.3h.7M460.9 679.6h.7M449.4 672.0h.7M447.8 685.5h.7M451.2 677.5h.7M461.5 675.6h.7M458.3 674.7h.7M452.8 695.2h.7M463.3 682.8h.7M434.4 691.0h.7M441.5 674.7h.7M442.4 676.1h.7M452.6 685.5h.7M452.1 691.2h.7M443.9 689.9h.7M456.1 699.7h.7M448.2 681.7h.7M439.8 680.5h.7M447.0 686.0h.7M436.7 680.5h.7M445.4 678.9h.7M442.3 686.9h.7M439.5 687.9h.7M438.8 685.7h.7M438.5 694.0h.7M452.5 695.3h.7M440.6 672.7h.7M436.9 682.0h.7M455.0 689.9h.7M452.0 673.4h.7M455.1 690.2h.7M442.8 662.2h.7M440.9 682.8h.7M458.9 685.8h.7M446.4 697.5h.7M458.7 687.1h.7M451.6 694.6h.7M441.5 687.4h.7M443.7 675.7h.7M450.7 693.4h.7M461.2 690.6h.7M455.6 682.4h.7M435.5 678.5h.7M450.0 678.9h.7M461.6 694.4h.7M445.5 698.8h.7M451.9 698.1h.7M445.6 690.7h.7M445.3 684.1h.7M455.8 700.4h.7M448.0 686.6h.7M440.3 682.2h.7M450.8 673.3h.7M443.7 674.5h.7M448.6 691.7h.7M449.6 681.6h.7M439.3 670.2h.7M447.2 697.1h.7M445.0 683.5h.7M443.7 674.4h.7M455.2 690.1h.7M435.8 673.4h.7M457.3 676.5h.7M446.7 675.2h.7M449.5 677.3h.7M442.4 674.5h.7M448.8 689.8h.7M451.4 684.1h.7M446.4 681.0h.7M453.1 673.5h.7M440.7 690.1h.7M436.3 698.0h.7M445.0 685.7h.7M457.2 683.7h.7M448.1 679.0h.7M451.0 690.1h.7M440.3 689.7h.7M454.5 688.1h.7M441.3 692.1h.7M457.6 679.9h.7M433.1 678.0h.7M447.2 695.3h.7M456.3 690.0h.7M442.1 690.7h.7M447.0 675.2h.7M433.3 692.7h.7M434.6 694.9h.7M464.4 684.4h.7M440.6 678.6h.7M441.9 687.4h.7M454.8 677.5h.7M444.5 678.5h.7M455.9 692.5h.7M440.5 681.4h.7M448.3 668.6h.7M442.9 685.3h.7M436.3 685.9h.7M447.4 679.3h.7M455.0 676.0h.7M450.3 681.9h.7M455.5 677.3h.7M451.7 689.4h.7M455.8 698.0h.7M435.4 683.4h.7M438.8 692.5h.7M457.6 681.5h.7M448.9 695.4h.7M448.6 682.9h.7M434.4 677.9h.7M454.7 671.4h.7M449.3 686.0h.7M447.0 691.0h.7M441.3 696.1h.7M443.7 692.9h.7M442.6 686.3h.7M444.5 698.6h.7M439.0 678.6h.7M458.3 691.1h.7M446.8 681.8h.7M437.2 681.7h.7M449.8 694.5h.7M454.3 696.7h.7M450.0 677.9h.7M444.4 697.4h.7M447.9 696.3h.7M434.8 679.8h.7M440.9 686.3h.7M441.0 672.5h.7M446.5 664.2h.7M442.5 687.8h.7M438.2 683.6h.7M440.2 681.1h.7M448.9 688.1h.7M450.4 677.5h.7M458.9 686.9h.7M442.0 695.8h.7M444.0 701.2h.7M453.7 683.2h.7M443.4 676.8h.7M441.0 681.7h.7M457.6 685.7h.7M446.5 687.9h.7M444.7 673.2h.7M435.6 696.7h.7M445.0 698.3h.7M453.3 654.8h.7M445.7 663.1h.7M445.6 636.6h.7M447.1 671.8h.7M457.2 668.7h.7M473.0 632.5h.7M474.5 649.3h.7M449.0 651.7h.7M466.4 656.6h.7M445.1 641.9h.7M453.2 661.3h.7M456.7 663.2h.7M437.5 659.9h.7M450.2 629.1h.7M466.2 640.6h.7M460.6 652.5h.7M460.9 649.2h.7M442.7 666.1h.7M450.3 665.2h.7M465.9 638.0h.7M473.2 636.0h.7M458.0 642.6h.7M456.6 646.4h.7M424.8 667.3h.7M447.8 646.2h.7M459.6 644.6h.7M467.6 648.8h.7M469.1 627.7h.7M463.0 646.8h.7M439.5 664.5h.7M452.1 642.9h.7M441.2 656.3h.7M449.0 650.0h.7M451.0 644.1h.7M468.3 655.1h.7M477.2 630.0h.7M440.1 660.5h.7M453.7 646.4h.7M442.3 655.0h.7M464.9 639.7h.7M445.9 668.2h.7M441.5 658.3h.7M477.0 639.3h.7M465.6 649.3h.7M462.2 644.4h.7M442.8 666.9h.7M456.0 663.0h.7M450.1 663.1h.7M444.7 659.7h.7M455.2 643.8h.7M448.0 675.0h.7M445.0 657.3h.7M433.0 671.5h.7M473.3 645.1h.7M445.5 666.0h.7M451.6 656.5h.7M455.4 640.1h.7M469.2 656.6h.7M440.7 653.3h.7M450.5 668.3h.7M433.1 660.6h.7M472.9 649.7h.7M464.7 645.3h.7M447.1 651.6h.7M443.2 655.5h.7M465.5 652.1h.7M441.5 648.8h.7M463.2 649.7h.7M458.1 648.0h.7M458.3 646.2h.7M434.7 671.5h.7M444.3 651.6h.7M442.3 655.6h.7M463.6 658.2h.7M439.8 648.5h.7M433.5 655.7h.7M476.1 651.6h.7M455.1 646.8h.7M465.2 659.4h.7M450.7 666.4h.7M437.6 663.4h.7M444.8 655.4h.7M445.8 660.8h.7M470.6 639.5h.7M454.0 667.7h.7M461.4 642.6h.7M450.2 652.2h.7M443.9 648.1h.7M443.5 668.2h.7M466.2 685.7h.7M461.3 667.2h.7M454.8 638.5h.7M457.0 651.2h.7M449.0 657.2h.7M440.7 654.6h.7M465.3 649.6h.7M458.1 655.8h.7M467.5 655.6h.7M475.8 620.9h.7M438.8 671.5h.7M446.5 651.7h.7M447.7 656.6h.7M450.7 664.3h.7M463.0 654.7h.7M454.6 652.2h.7M450.5 670.4h.7M458.4 628.1h.7M446.7 644.8h.7M462.3 655.9h.7M464.2 664.8h.7M467.0 651.5h.7M472.0 647.3h.7M426.5 671.2h.7M468.7 651.4h.7M472.3 654.7h.7M454.2 659.5h.7M437.4 657.0h.7M447.4 680.0h.7M451.8 659.9h.7M461.0 641.5h.7M459.9 641.4h.7M470.9 642.1h.7M467.8 647.0h.7M455.0 673.4h.7M437.2 680.6h.7M467.6 638.4h.7M452.1 661.1h.7M457.3 645.8h.7M444.3 668.8h.7M454.5 637.3h.7M471.8 651.6h.7M446.0 657.4h.7M471.2 647.1h.7M457.3 641.9h.7M465.1 660.7h.7M468.4 648.4h.7M463.9 633.4h.7M427.1 658.6h.7M444.2 650.7h.7M442.4 660.8h.7M452.2 657.9h.7M458.0 664.3h.7M478.2 665.9h.7M461.6 653.3h.7M453.4 665.6h.7M453.4 648.0h.7M439.7 685.1h.7M472.4 644.0h.7M456.3 667.4h.7M453.4 638.6h.7M461.0 661.7h.7M456.8 673.7h.7M459.3 643.0h.7M455.5 656.9h.7M462.6 628.6h.7M438.8 675.0h.7M463.6 641.9h.7M453.3 664.0h.7M445.7 669.7h.7M447.9 661.2h.7M462.5 656.6h.7M475.3 626.7h.7M478.4 645.2h.7M446.4 657.3h.7M440.2 667.7h.7M470.7 644.1h.7M437.3 651.3h.7M443.4 662.5h.7M466.2 656.5h.7M476.1 640.8h.7M452.3 669.0h.7M436.1 663.9h.7M454.6 639.5h.7M463.2 663.2h.7M434.2 681.1h.7M446.5 656.9h.7M453.2 657.8h.7M448.7 661.6h.7M448.2 646.9h.7M450.4 681.8h.7M452.8 663.0h.7M450.5 631.4h.7M437.4 676.1h.7M474.1 651.3h.7M471.1 632.9h.7M476.1 637.8h.7M466.0 642.9h.7M436.7 684.2h.7M451.5 657.7h.7M435.4 662.5h.7M445.9 676.1h.7M442.6 661.0h.7M439.1 661.6h.7M465.5 640.9h.7M450.0 659.4h.7M460.5 662.7h.7M435.0 660.9h.7M441.7 683.2h.7M430.5 682.0h.7M466.5 638.2h.7M452.4 647.2h.7M450.8 654.2h.7M457.6 655.1h.7M453.9 661.2h.7M462.4 648.6h.7M459.3 654.7h.7M455.2 662.0h.7M436.2 661.3h.7M453.9 636.7h.7M463.9 646.4h.7M441.6 673.8h.7M445.6 662.5h.7M473.1 644.3h.7M433.1 671.1h.7M470.9 650.5h.7M454.1 641.6h.7M468.5 643.4h.7M466.6 649.4h.7M463.6 647.5h.7M449.9 671.4h.7M476.7 643.0h.7M456.8 657.1h.7M451.9 670.2h.7M436.9 667.7h.7M473.8 649.0h.7M462.1 668.1h.7M469.8 650.3h.7M457.8 643.6h.7M428.9 664.0h.7M464.8 659.8h.7M429.7 670.4h.7M438.8 682.6h.7M467.7 655.6h.7M462.5 644.8h.7M455.8 657.4h.7M451.1 636.9h.7M450.0 675.8h.7M445.9 668.3h.7M450.2 654.7h.7M450.6 666.7h.7M435.2 659.4h.7M438.0 656.9h.7M450.2 655.3h.7M469.0 652.5h.7M451.7 661.4h.7M444.9 656.7h.7M440.5 672.8h.7M467.7 644.6h.7M455.8 646.5h.7M452.3 673.9h.7M459.7 646.8h.7M443.0 674.1h.7M442.5 667.2h.7M430.4 670.9h.7M435.3 673.7h.7M467.1 641.1h.7M473.6 642.3h.7M455.0 674.5h.7M460.5 640.2h.7M460.9 645.9h.7M461.8 654.4h.7M451.6 649.6h.7M448.9 654.3h.7M450.3 658.8h.7M451.3 656.4h.7M460.2 629.5h.7M470.5 661.9h.7M444.3 663.3h.7M474.8 629.5h.7M446.2 658.4h.7M465.2 670.6h.7M430.1 677.1h.7M461.1 641.9h.7M464.8 657.5h.7M476.0 639.9h.7M466.3 646.9h.7M461.8 638.1h.7M462.2 667.5h.7M451.8 665.9h.7M466.1 638.6h.7M465.2 630.4h.7M453.3 663.2h.7M450.4 650.0h.7M432.0 660.8h.7M470.2 654.8h.7M454.0 653.5h.7M461.9 653.2h.7M447.9 667.1h.7M436.8 668.1h.7M463.1 655.9h.7M472.7 646.1h.7M456.9 644.7h.7M439.2 661.0h.7M436.2 673.7h.7M460.8 657.5h.7M471.9 651.2h.7M460.3 649.9h.7M452.7 666.5h.7M451.4 677.6h.7M455.3 655.8h.7M460.5 640.8h.7M444.6 674.9h.7M464.4 643.9h.7M458.0 673.6h.7M447.8 669.0h.7M445.8 669.6h.7M472.9 638.6h.7M471.8 655.3h.7M451.9 652.5h.7M452.1 677.6h.7M451.0 653.9h.7M465.0 629.7h.7M470.6 651.2h.7M470.8 657.8h.7M436.4 678.6h.7M452.9 635.4h.7M460.1 649.1h.7M463.9 660.0h.7M448.2 644.7h.7M425.0 673.6h.7M416.8 686.2h.7M411.3 675.6h.7M427.3 675.7h.7M430.5 659.7h.7M434.0 666.0h.7M418.0 672.6h.7M426.1 673.9h.7M415.5 680.8h.7M444.9 670.5h.7M412.7 670.7h.7M406.1 665.7h.7M414.9 680.9h.7M414.4 668.8h.7M419.2 669.0h.7M452.4 687.4h.7M420.8 662.0h.7M413.8 668.1h.7M410.0 658.1h.7M414.2 670.5h.7M412.4 665.1h.7M424.6 668.4h.7M393.6 667.1h.7M429.7 684.6h.7M406.8 673.8h.7M426.7 682.3h.7M414.7 677.4h.7M415.0 660.9h.7M430.9 674.5h.7M425.0 673.4h.7M409.8 671.2h.7M424.0 665.1h.7M438.2 692.9h.7M393.3 682.3h.7M414.9 679.8h.7M422.3 673.6h.7M430.7 675.8h.7M437.6 677.6h.7M403.2 673.8h.7M420.2 670.6h.7" stroke="#e2261c" stroke-width="0.8" stroke-opacity="0.5" fill="none"/>
<path d="M431.30 608.70V706.20M363.60 667.40H485.20" stroke="#8f8f8f" stroke-width="0.8" fill="none"/>
<text font-size="6.1" text-anchor="start" font-weight="bold" fill="#111" stroke="#111" stroke-width="0.2" transform="translate(364.40,615.70)" >B1</text>
<text font-size="6.1" text-anchor="start" font-weight="bold" fill="#111" stroke="#111" stroke-width="0.2" transform="translate(366.20,622.70)" >0.2%</text>
<text font-size="6.1" text-anchor="start" font-weight="bold" fill="#111" stroke="#111" stroke-width="0.2" transform="translate(432.10,615.70)" >B2</text>
<text font-size="6.1" text-anchor="start" font-weight="bold" fill="#111" stroke="#111" stroke-width="0.2" transform="translate(433.90,622.70)" >4.4%</text>
<text font-size="6.1" text-anchor="start" font-weight="bold" fill="#111" stroke="#111" stroke-width="0.2" transform="translate(364.40,674.40)" >B3</text>
<text font-size="6.1" text-anchor="start" font-weight="bold" fill="#111" stroke="#111" stroke-width="0.2" transform="translate(366.20,681.40)" >88.1%</text>
<text font-size="6.1" text-anchor="start" font-weight="bold" fill="#111" stroke="#111" stroke-width="0.2" transform="translate(432.10,674.40)" >B4</text>
<text font-size="6.1" text-anchor="start" font-weight="bold" fill="#111" stroke="#111" stroke-width="0.2" transform="translate(433.90,681.40)" >7.3%</text>
<text font-size="5.6" text-anchor="middle" font-weight="normal" fill="#222" stroke="#222" stroke-width="0.15" transform="translate(394.50,713.60)" >10<tspan font-size="3.6" dy="-2.3">0</tspan></text>
<text font-size="5.6" text-anchor="end" font-weight="normal" fill="#222" stroke="#222" stroke-width="0.15" transform="translate(358.70,683.73)" >10<tspan font-size="3.6" dy="-2.3">0</tspan></text>
<text font-size="5.6" text-anchor="middle" font-weight="normal" fill="#222" stroke="#222" stroke-width="0.15" transform="translate(424.90,713.60)" >10<tspan font-size="3.6" dy="-2.3">1</tspan></text>
<text font-size="5.6" text-anchor="end" font-weight="normal" fill="#222" stroke="#222" stroke-width="0.15" transform="translate(358.70,659.35)" >10<tspan font-size="3.6" dy="-2.3">1</tspan></text>
<text font-size="5.6" text-anchor="middle" font-weight="normal" fill="#222" stroke="#222" stroke-width="0.15" transform="translate(455.30,713.60)" >10<tspan font-size="3.6" dy="-2.3">2</tspan></text>
<text font-size="5.6" text-anchor="end" font-weight="normal" fill="#222" stroke="#222" stroke-width="0.15" transform="translate(358.70,634.98)" >10<tspan font-size="3.6" dy="-2.3">2</tspan></text>
<text font-size="5.6" text-anchor="middle" font-weight="normal" fill="#222" stroke="#222" stroke-width="0.15" transform="translate(485.70,713.60)" >10<tspan font-size="3.6" dy="-2.3">3</tspan></text>
<text font-size="5.6" text-anchor="end" font-weight="normal" fill="#222" stroke="#222" stroke-width="0.15" transform="translate(358.70,610.60)" >10<tspan font-size="3.6" dy="-2.3">3</tspan></text>
<path d="M363.6 706.2v2M363.6 706.2h-2M372.8 706.2v1.2M363.6 698.9h-1.2M378.1 706.2v1.2M363.6 694.6h-1.2M381.9 706.2v1.2M363.6 691.5h-1.2M384.8 706.2v1.2M363.6 689.2h-1.2M387.3 706.2v1.2M363.6 687.2h-1.2M389.3 706.2v1.2M363.6 685.6h-1.2M391.1 706.2v1.2M363.6 684.2h-1.2M392.6 706.2v1.2M363.6 682.9h-1.2M394.0 706.2v2M363.6 681.8h-2M403.2 706.2v1.2M363.6 674.5h-1.2M408.5 706.2v1.2M363.6 670.2h-1.2M412.3 706.2v1.2M363.6 667.1h-1.2M415.2 706.2v1.2M363.6 664.8h-1.2M417.7 706.2v1.2M363.6 662.9h-1.2M419.7 706.2v1.2M363.6 661.2h-1.2M421.5 706.2v1.2M363.6 659.8h-1.2M423.0 706.2v1.2M363.6 658.6h-1.2M424.4 706.2v2M363.6 657.5h-2M433.6 706.2v1.2M363.6 650.1h-1.2M438.9 706.2v1.2M363.6 645.8h-1.2M442.7 706.2v1.2M363.6 642.8h-1.2M445.6 706.2v1.2M363.6 640.4h-1.2M448.1 706.2v1.2M363.6 638.5h-1.2M450.1 706.2v1.2M363.6 636.9h-1.2M451.9 706.2v1.2M363.6 635.4h-1.2M453.4 706.2v1.2M363.6 634.2h-1.2M454.8 706.2v2M363.6 633.1h-2M464.0 706.2v1.2M363.6 625.7h-1.2M469.3 706.2v1.2M363.6 621.4h-1.2M473.1 706.2v1.2M363.6 618.4h-1.2M476.0 706.2v1.2M363.6 616.0h-1.2M478.5 706.2v1.2M363.6 614.1h-1.2M480.5 706.2v1.2M363.6 612.5h-1.2M482.3 706.2v1.2M363.6 611.1h-1.2M483.8 706.2v1.2M363.6 609.8h-1.2" stroke="#555" stroke-width="0.5" fill="none"/>
</svg></body></html>
